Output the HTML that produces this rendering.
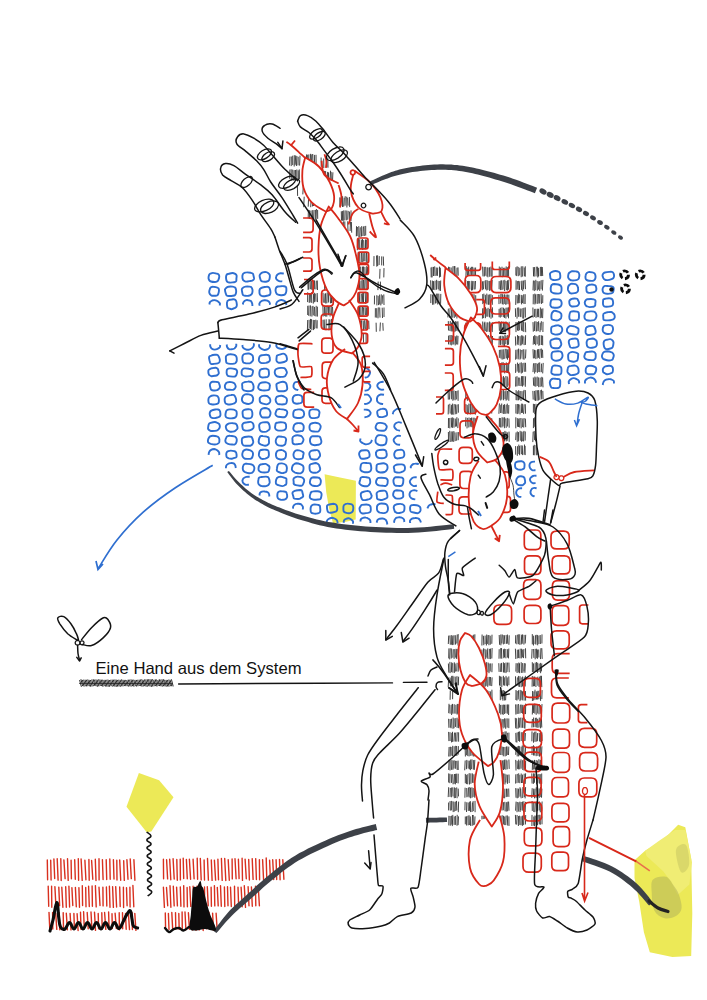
<!DOCTYPE html>
<html lang="de"><head><meta charset="utf-8"><title>Eine Hand aus dem System</title>
<style>html,body{margin:0;padding:0;background:#fff}body{width:707px;height:1000px;overflow:hidden}svg{display:block}</style>
</head><body>
<svg width="707" height="1000" viewBox="0 0 707 1000">
<rect width="707" height="1000" fill="#ffffff"/>
<g id="yellow">
<path d="M324.6 474.2L340 477.5L355.9 480.8L355.7 519.5L345 522L333 523.3L329 508L326.2 492Z" fill="#ece957" />
<path d="M138.9 773L159.1 780.2L173.5 797.3L151.3 831.6L146.7 832.2L126.5 806.7Z" fill="#ece957" />
<path d="M678.2 824.8L685.3 827.2L691.2 859L692.3 913.4L691.2 955.9L672.3 957L649.8 952.3L643.9 932.3L639.2 901.6L634.5 878L634.5 860.2L645.1 850.8L662.8 840.2Z" fill="#ece957" />
<path d="M675 830L685.5 830L692 862.5L689.4 884.5L677.7 895L671.2 882L663.4 871.6L646.5 856L645.2 850.8L659.5 840.4Z" fill="#f0ed74"/>
<path d="M653 879.4C655.4 876.8 662.5 875.7 666 876.8C669.5 877.9 671.6 882.8 673.8 885.8C676 888.8 677.7 891.3 679 895C680.3 898.7 682 904.5 681.6 908C681.2 911.5 679.2 914 676.4 915.7C673.6 917.4 668.4 919.2 664.7 918.3C661 917.4 656.5 914.8 654.3 910.5C652.1 906.2 651.9 897.5 651.7 892.3C651.5 887.1 650.6 882 653 879.4Z" fill="#b4b45a" opacity="0.55"/>
<path d="M676 850C676.8 845.5 683.8 842.5 686 845C688.2 847.5 689.8 860.5 689 865C688.2 869.5 683.2 874.5 681 872C678.8 869.5 675.2 854.5 676 850Z" fill="#b9b95c" opacity="0.4"/>
</g>
<g id="blue">
<path d="M218.3 280.1C218 280.9 217.8 281 217.2 281.3C216.6 281.6 215.9 281.9 214.8 282C213.8 282 211.8 281.8 210.9 281.5C209.9 281.2 209.6 280.7 209.2 280.2C208.8 279.6 208.6 279.1 208.5 278.2C208.5 277.3 208.8 275.6 209.1 274.8C209.4 274.1 209.7 274 210.4 273.7C211 273.4 211.9 272.9 213 272.9C214 272.9 215.7 273.4 216.7 273.6C217.6 273.9 218.3 274.1 218.7 274.6C219.1 275.1 219.3 275.8 219.3 276.7C219.2 277.6 218.7 279.3 218.3 280.1ZM236.6 275.6C236.8 276.5 236.4 277.9 236.4 278.9C236.3 279.8 236.6 280.5 236.2 281.1C235.9 281.7 235.2 282 234.2 282.2C233.2 282.5 231.4 282.6 230.4 282.6C229.3 282.6 228.6 282.4 227.9 282.1C227.3 281.8 226.8 281.4 226.5 280.6C226.2 279.8 226 278 226 277C226.1 276 226.2 275.2 226.7 274.6C227.1 274.1 227.6 274.1 228.6 273.9C229.6 273.6 231.4 273 232.5 273C233.6 273 234.5 273.5 235.2 273.9C235.8 274.3 236.4 274.8 236.6 275.6ZM254 279C253.7 279.8 252.9 280.3 252.2 280.7C251.5 281 250.8 281 249.7 281.1C248.7 281.3 246.8 281.7 245.7 281.6C244.7 281.4 243.9 280.8 243.3 280.3C242.8 279.7 242.7 279.2 242.5 278.4C242.4 277.5 242.3 276.1 242.5 275.2C242.7 274.4 243.1 273.7 243.7 273.3C244.4 272.8 245.4 272.4 246.6 272.4C247.7 272.3 249.6 272.6 250.7 272.8C251.7 273.1 252.4 273.3 252.8 273.7C253.3 274.2 253.3 274.7 253.5 275.6C253.7 276.5 254.2 278.1 254 279ZM269.7 274.8C269.9 275.7 269.8 277.5 269.6 278.4C269.5 279.3 269.4 279.9 268.9 280.4C268.5 280.9 267.9 281.3 266.9 281.5C266 281.7 264.1 281.7 263.1 281.6C262.2 281.6 261.7 281.4 261.3 280.9C260.8 280.5 260.6 279.9 260.3 278.9C260 278 259.5 276.3 259.6 275.5C259.7 274.6 260.2 274.3 260.7 273.7C261.2 273.2 261.8 272.7 262.7 272.4C263.6 272.1 265.3 272 266.2 272.1C267.2 272.3 267.9 272.8 268.4 273.2C269 273.7 269.5 274 269.7 274.8ZM282.3 281.4C281.7 281.3 280.1 281.5 279.1 281.1C278.1 280.7 276.9 279.8 276.4 279.1C275.9 278.3 275.9 277.4 276.2 276.6C276.4 275.8 276.9 274.9 277.7 274.4C278.4 273.8 279.5 273.3 280.5 273.2C281.5 273.1 283.2 273.5 283.8 273.6M211.5 295.6C210.6 295.3 210.3 294.7 209.9 294.1C209.5 293.5 209.2 293 209.2 292.1C209.2 291.3 209.6 289.7 209.9 288.9C210.2 288.1 210.5 287.6 211 287.2C211.6 286.8 212.3 286.6 213.3 286.7C214.2 286.7 215.8 287.2 216.7 287.4C217.6 287.7 218.2 287.9 218.5 288.4C218.9 288.9 219 289.8 219 290.7C218.9 291.6 218.6 293.1 218.3 293.9C218 294.7 217.6 295.2 217.1 295.5C216.5 295.8 216 295.7 215 295.7C214.1 295.7 212.3 295.9 211.5 295.6ZM235 295.1C234.4 295.5 233.8 295.6 232.8 295.8C231.8 296 229.8 296.1 228.8 296C227.7 296 227.1 295.9 226.6 295.4C226.1 295 226 294.2 225.7 293.2C225.4 292.3 224.9 290.6 225 289.7C225 288.9 225.5 288.5 226.1 288C226.6 287.5 227.3 286.9 228.4 286.7C229.5 286.5 231.5 286.5 232.6 286.6C233.7 286.8 234.5 287.1 235.1 287.5C235.6 288 235.9 288.7 236 289.6C236.2 290.5 236.2 292.1 236 293C235.8 293.9 235.5 294.6 235 295.1ZM251.2 287.1C251.7 287.6 252.2 288.5 252.4 289.5C252.6 290.4 252.5 291.9 252.3 292.7C252.1 293.5 251.9 293.9 251.3 294.4C250.7 294.9 249.7 295.5 248.7 295.7C247.7 295.9 246 295.9 245.1 295.8C244.1 295.7 243.4 295.5 243 295C242.5 294.5 242.5 293.6 242.3 292.7C242.1 291.7 241.7 290.2 241.8 289.4C241.9 288.6 242.4 288.2 243 287.8C243.6 287.3 244.5 286.8 245.6 286.6C246.7 286.4 248.4 286.5 249.4 286.6C250.3 286.7 250.7 286.7 251.2 287.1ZM260 288.9C260.5 288.4 261.3 287.9 262.4 287.5C263.5 287.2 265.5 286.8 266.5 286.8C267.6 286.7 268.3 286.8 268.8 287.2C269.4 287.6 269.6 288.3 269.9 289.2C270.2 290.1 270.5 291.5 270.5 292.5C270.5 293.4 270.2 294.3 269.8 294.8C269.3 295.3 268.9 295.2 267.9 295.5C266.9 295.7 264.7 296.3 263.6 296.3C262.5 296.4 262 296.2 261.4 295.8C260.8 295.4 260.1 295.1 259.8 294.2C259.5 293.4 259.4 291.6 259.5 290.7C259.5 289.9 259.5 289.5 260 288.9ZM285.9 292.9C285.6 293.7 285.4 294.2 284.7 294.6C284 295 282.8 295.2 281.6 295.2C280.5 295.3 278.9 295 278 294.7C277.2 294.5 276.9 294.2 276.5 293.5C276.1 292.9 275.7 291.9 275.6 291C275.5 290.1 275.6 288.7 276 288C276.3 287.2 276.9 286.8 277.7 286.5C278.5 286.2 279.5 286.2 280.6 286.2C281.6 286.1 283.2 286 284.1 286.2C285 286.4 285.7 286.6 286.1 287.2C286.4 287.9 286.4 289 286.4 289.9C286.4 290.9 286.2 292.2 285.9 292.9ZM209.4 304.4C209.5 304 209.5 302.7 209.9 302.1C210.4 301.4 211.3 300.9 212.2 300.5C213 300.2 214.3 300 215.2 300.2C216.2 300.3 217.1 300.8 217.8 301.3C218.6 301.9 219.6 302.6 219.9 303.3C220.2 304 219.7 305.1 219.6 305.5M234.4 299.4C235.1 299.7 235.7 300.1 236.1 300.9C236.5 301.7 236.7 303.1 236.8 304.1C236.9 305.1 236.8 306 236.5 306.6C236.2 307.3 235.8 307.4 235 307.9C234.2 308.3 232.6 309.1 231.6 309.2C230.7 309.3 229.9 308.8 229.2 308.5C228.5 308.2 227.9 308.2 227.5 307.5C227.1 306.7 227 305.1 226.9 304.1C226.9 303.2 226.9 302.2 227.2 301.6C227.4 300.9 227.6 300.6 228.3 300.3C229.1 299.9 230.7 299.6 231.7 299.5C232.7 299.3 233.6 299.2 234.4 299.4ZM242.7 304.5C242.9 304.1 243.1 302.7 243.6 302C244.1 301.3 244.7 300.6 245.5 300.3C246.2 300 247.4 300 248.3 300.2C249.2 300.3 250.3 300.6 251 301.1C251.6 301.7 251.9 302.7 252.2 303.6C252.4 304.4 252.4 305.7 252.4 306.1M259.4 305.7C259.5 305.3 259.2 304.1 259.5 303.3C259.8 302.6 260.4 301.7 261.2 301.2C262 300.6 263.3 300.4 264.3 300.3C265.3 300.2 266.5 300.3 267.4 300.7C268.3 301.1 269.2 301.8 269.6 302.5C270.1 303.2 269.9 304.4 270 304.8M276.3 305.5C276.3 305.1 276 303.8 276.4 303.1C276.7 302.3 277.6 301.6 278.3 301.1C279.1 300.5 280.1 300.1 281.1 300C282 299.9 283.1 300.3 283.9 300.7C284.7 301.1 285.6 301.7 286 302.4C286.4 303.1 286.2 304.5 286.3 304.9M220.2 345C220.1 345.4 220.2 346.7 219.8 347.3C219.3 348 218.3 348.5 217.5 348.9C216.6 349.3 215.6 349.6 214.7 349.6C213.8 349.6 212.6 349.3 211.9 348.8C211.1 348.3 210.7 347.5 210.4 346.7C210.1 346 210.2 344.7 210.2 344.3M236.2 343.7C236.2 344.1 236.5 345.4 236.2 346.2C235.9 347 235.1 348 234.4 348.5C233.6 349 232.7 349.2 231.8 349.3C230.9 349.4 229.8 349.5 229 349.1C228.2 348.8 227.5 347.8 227.1 347C226.7 346.2 226.8 344.8 226.7 344.4M253.9 343.2C253.8 343.7 254.1 345.1 253.7 346C253.4 346.9 252.5 347.8 251.7 348.4C250.9 349.1 249.8 349.6 248.8 349.7C247.8 349.9 246.6 349.7 245.7 349.3C244.7 349 243.4 348.3 242.9 347.5C242.3 346.8 242.5 345.3 242.4 344.9M269.9 344.5C269.9 344.9 270.1 346.3 269.7 347C269.4 347.8 268.6 348.7 267.7 349.1C266.8 349.6 265.5 350 264.5 350C263.5 349.9 262.5 349.4 261.6 348.9C260.7 348.3 259.7 347.7 259.3 346.9C258.9 346.1 259.1 344.7 259.1 344.3M286.5 344.8C286.4 345.2 286.4 346.4 285.9 347.1C285.5 347.7 284.6 348.3 283.7 348.6C282.9 349 281.9 349 281 348.9C280.1 348.8 279.1 348.6 278.3 348.2C277.5 347.7 276.7 347 276.4 346.3C276.1 345.7 276.5 344.5 276.5 344.1M213.9 363.9C212.8 364 211.8 364.2 211.2 364C210.5 363.7 210.4 363.1 210 362.3C209.7 361.4 209.3 359.9 209.2 359C209 358 209 357.2 209.3 356.6C209.7 356.1 210.2 355.9 211.2 355.6C212.1 355.2 213.9 354.9 214.9 354.8C216 354.7 216.8 354.6 217.4 354.9C218.1 355.2 218.3 355.7 218.7 356.5C219.1 357.3 219.7 358.7 219.8 359.6C219.9 360.6 219.7 361.6 219.4 362.2C219 362.8 218.6 363 217.7 363.3C216.8 363.6 214.9 363.8 213.9 363.9ZM228.4 363.6C227.4 363.4 226.8 363.1 226.4 362.6C226.1 362 226.1 361.4 226 360.4C226 359.4 225.7 357.6 225.9 356.7C226.1 355.8 226.6 355.4 227.3 355C227.9 354.6 228.7 354.3 229.8 354.3C230.8 354.2 232.6 354.4 233.6 354.6C234.7 354.9 235.4 355.3 235.9 355.8C236.4 356.4 236.6 356.9 236.7 357.8C236.8 358.7 236.8 360.5 236.6 361.4C236.3 362.3 235.8 362.9 235.2 363.3C234.5 363.7 233.7 363.8 232.5 363.9C231.4 363.9 229.4 363.8 228.4 363.6ZM251.4 354.6C252 355 252.5 355.2 252.8 356.1C253 357 253.2 358.8 253.1 359.8C253 360.7 252.6 361.1 252 361.7C251.5 362.3 251 362.9 250 363.2C248.9 363.4 246.8 363.3 245.7 363.2C244.6 363 243.9 362.9 243.4 362.5C242.9 362 242.8 361.4 242.6 360.5C242.4 359.6 242.3 358 242.4 357.1C242.4 356.2 242.7 355.6 243.1 355C243.5 354.5 243.9 354.1 244.9 353.9C245.9 353.6 247.9 353.4 249 353.5C250.1 353.6 250.8 354.1 251.4 354.6ZM268.9 355.5C269.4 356 269.5 356.6 269.6 357.5C269.8 358.3 270.1 359.7 269.8 360.5C269.6 361.3 268.9 361.7 268.2 362.1C267.6 362.5 267 362.7 265.9 362.9C264.9 363 262.8 363.2 261.9 363.1C260.9 363 260.5 362.7 260 362.3C259.6 361.8 259.1 361.2 258.9 360.4C258.8 359.6 259 358.2 259.2 357.4C259.4 356.6 259.7 356.1 260.3 355.7C260.9 355.3 261.7 355.3 262.8 355.1C263.9 354.9 265.7 354.6 266.7 354.7C267.7 354.7 268.4 355.1 268.9 355.5ZM286.4 356.2C286.6 357 287 358.4 287 359.3C287 360.1 286.7 360.6 286.2 361.1C285.7 361.5 285 361.7 284 362C283 362.3 281.1 362.7 280.1 362.7C279.1 362.8 278.5 362.6 277.9 362.3C277.3 361.9 276.8 361.4 276.5 360.6C276.3 359.8 276.5 358.3 276.6 357.4C276.7 356.6 276.6 356 277.1 355.6C277.5 355.1 278.3 355 279.4 354.7C280.4 354.4 282.2 353.6 283.2 353.6C284.2 353.6 284.9 354.3 285.4 354.7C286 355.1 286.1 355.5 286.4 356.2ZM209.6 369.3C210.2 368.9 211.1 368.5 212.1 368.2C213.1 368 214.8 367.6 215.8 367.7C216.7 367.8 217.3 368.4 217.8 368.9C218.2 369.3 218.1 369.9 218.3 370.6C218.4 371.4 218.9 372.5 218.8 373.3C218.6 374 218 374.7 217.3 375.1C216.7 375.5 215.9 375.6 214.9 375.8C213.9 376 212.4 376.3 211.5 376.2C210.6 376.1 209.9 375.7 209.4 375.2C208.9 374.8 208.7 374.2 208.5 373.5C208.4 372.7 208.2 371.3 208.4 370.6C208.6 369.9 208.9 369.7 209.6 369.3ZM226.6 372.8C226.6 371.9 226.6 370.5 226.9 369.8C227.2 369.1 227.7 368.8 228.3 368.6C229 368.3 229.9 368.3 231 368.4C232.1 368.5 233.9 368.8 234.8 369C235.8 369.3 236.1 369.4 236.5 369.9C236.9 370.4 237.2 371.2 237.2 372.1C237.1 372.9 236.6 374.3 236.3 375.1C235.9 375.8 235.7 376.2 235.1 376.5C234.5 376.7 233.6 376.7 232.6 376.6C231.5 376.6 229.4 376.5 228.5 376.2C227.6 375.9 227.4 375.4 227.1 374.8C226.8 374.2 226.7 373.6 226.6 372.8ZM251.6 375.6C251.1 376 250.7 376 249.7 376.1C248.7 376.3 246.7 376.6 245.5 376.5C244.4 376.4 243.5 375.8 242.8 375.5C242.2 375.1 242 375.1 241.8 374.3C241.6 373.6 241.6 372 241.7 371.2C241.8 370.4 242 369.8 242.5 369.3C243 368.8 243.4 368.5 244.5 368.4C245.6 368.3 247.7 368.5 248.9 368.7C250 368.8 250.5 369 251.2 369.4C251.9 369.8 252.8 370.1 253 370.8C253.2 371.5 252.7 373 252.5 373.8C252.2 374.6 252.1 375.2 251.6 375.6ZM266.7 368.8C267.5 369 268 369.3 268.4 369.8C268.8 370.4 268.8 371.5 268.9 372.4C269 373.3 269 374.4 268.8 375.1C268.6 375.9 268.4 376.4 267.7 376.8C267.1 377.1 265.9 377.2 264.9 377.3C263.9 377.4 262.4 377.6 261.6 377.4C260.8 377.2 260.2 376.7 259.8 376.1C259.5 375.6 259.4 374.8 259.3 373.9C259.3 373.1 259.5 371.7 259.7 371C259.9 370.3 260 370 260.6 369.6C261.2 369.3 262.3 368.9 263.4 368.8C264.4 368.6 265.8 368.6 266.7 368.8ZM286 374.7C285.7 375.4 285.6 375.9 284.7 376.3C283.9 376.6 282.1 376.9 280.9 376.9C279.7 377 278.3 376.8 277.4 376.5C276.5 376.2 276.1 375.7 275.7 375.1C275.2 374.4 274.8 373.3 274.7 372.4C274.7 371.6 274.9 370.6 275.3 369.9C275.7 369.3 276.2 369 277.2 368.7C278.1 368.3 279.8 368 281 367.9C282.1 367.8 283.5 367.9 284.3 368.2C285.1 368.6 285.5 369.2 285.9 369.8C286.3 370.5 286.9 371.5 286.9 372.3C287 373.2 286.4 374.1 286 374.7ZM364.1 368.4C364.5 368.4 366.1 368 366.9 368.3C367.7 368.6 368.5 369.4 369 370.1C369.6 370.8 370 371.6 370 372.4C370.1 373.2 369.7 374.2 369.3 374.9C368.9 375.7 368.4 376.5 367.6 377C366.8 377.4 365.2 377.5 364.7 377.7M209.9 385C209.9 384.2 210.1 383.6 210.5 383.1C210.9 382.6 211.5 382 212.5 381.8C213.5 381.6 215.3 381.8 216.3 381.9C217.2 382 217.8 382 218.3 382.3C218.8 382.7 219.1 383.3 219.3 384.1C219.6 384.9 220 386.3 219.9 387.1C219.8 387.9 219.4 388.3 218.9 388.8C218.5 389.3 218.1 389.9 217.2 390.2C216.3 390.5 214.6 390.6 213.6 390.5C212.6 390.5 211.7 390.2 211.2 389.8C210.7 389.4 210.7 388.8 210.5 388C210.2 387.2 209.9 385.8 209.9 385ZM234.7 388.7C234.3 389.2 234.1 389.6 233.2 389.8C232.4 390 230.6 389.9 229.5 389.8C228.5 389.8 227.6 389.9 226.9 389.6C226.2 389.4 225.7 389.1 225.3 388.4C225 387.7 224.8 386.3 224.9 385.5C225 384.6 225.6 383.8 226 383.3C226.4 382.8 226.5 382.6 227.4 382.3C228.2 382.1 230.1 382 231.1 382.1C232.2 382.2 233 382.5 233.6 382.8C234.3 383.1 234.4 383.2 234.8 383.9C235.2 384.6 235.8 386 235.7 386.8C235.7 387.6 235.1 388.2 234.7 388.7ZM242.5 389C242.2 388.3 242.3 387.4 242.3 386.5C242.2 385.5 241.9 384.1 242.3 383.4C242.7 382.7 243.5 382.5 244.4 382.2C245.3 381.9 246.5 381.6 247.7 381.6C248.9 381.5 250.5 381.7 251.4 382C252.2 382.4 252.4 383.1 252.8 383.8C253.2 384.5 253.5 385.5 253.6 386.4C253.6 387.4 253.5 388.8 253.2 389.5C252.8 390.3 252.3 390.6 251.4 390.8C250.5 391.1 249.1 391.2 247.9 391.2C246.7 391.1 245.1 390.9 244.2 390.5C243.3 390.2 242.8 389.7 242.5 389ZM259.7 389.6C259 389.2 258.3 388.6 258.2 387.8C258.1 387 258.7 385.4 259 384.7C259.3 383.9 259.6 383.5 260.1 383.2C260.6 382.8 261 382.7 262.1 382.5C263.1 382.4 265.3 382.2 266.5 382.4C267.6 382.6 268.5 383.2 269.1 383.6C269.7 384.1 269.8 384.5 269.8 385.2C269.9 386 269.7 387.4 269.5 388.2C269.4 388.9 269.5 389.3 268.9 389.7C268.4 390.1 267.4 390.3 266.2 390.4C265.1 390.5 263.2 390.5 262.1 390.4C261 390.2 260.3 390 259.7 389.6ZM280.7 391.3C279.7 391.3 279.1 391.4 278.5 391.1C277.9 390.8 277.4 390.4 277.1 389.6C276.8 388.7 276.6 387 276.5 386.1C276.5 385.3 276.2 384.8 276.5 384.2C276.9 383.7 277.5 383.3 278.5 382.9C279.6 382.4 281.7 381.8 282.8 381.7C283.9 381.6 284.7 382.1 285.2 382.4C285.8 382.7 286 382.9 286.3 383.7C286.6 384.5 287 386.2 287.1 387.2C287.2 388.1 287.4 388.8 287 389.5C286.6 390.1 285.8 390.7 284.8 391C283.8 391.3 281.7 391.2 280.7 391.3ZM298.3 390.2C297.9 390 296.4 389.8 295.6 389.4C294.8 388.9 294 388.3 293.7 387.5C293.3 386.8 293.5 385.7 293.6 384.9C293.8 384 294.1 383 294.8 382.5C295.4 382 296.6 381.9 297.5 381.8C298.5 381.8 300.1 382.1 300.6 382.1M364.1 382.5C364.6 382.5 366.2 382.5 367.1 382.7C368 383 368.9 383.5 369.4 384.1C370 384.7 370.4 385.5 370.4 386.2C370.4 386.9 369.9 387.8 369.5 388.5C369 389.1 368.4 389.8 367.6 390.2C366.7 390.5 365.1 390.6 364.6 390.7M384.1 389.6C383.6 389.6 381.8 389.8 380.9 389.6C380 389.4 379.4 389.1 378.8 388.5C378.2 387.9 377.4 387 377.3 386.2C377.2 385.4 377.6 384.4 378.2 383.7C378.7 383.1 379.7 382.5 380.6 382.2C381.5 381.8 383.2 381.7 383.7 381.6M211.2 404.2C210.3 404.1 209.6 403.8 209.1 403.3C208.6 402.8 208.4 402 208.4 401C208.3 400.1 208.6 398.4 208.9 397.7C209.2 396.9 209.6 396.9 210.2 396.5C210.8 396.1 211.6 395.6 212.6 395.5C213.6 395.3 215.3 395.4 216.2 395.6C217.1 395.8 217.5 396 217.9 396.6C218.3 397.1 218.7 398 218.8 398.9C218.9 399.8 218.9 401.4 218.7 402.2C218.5 403 218.3 403.2 217.6 403.6C217 403.9 215.9 404.3 214.9 404.4C213.8 404.5 212.2 404.4 211.2 404.2ZM233.6 395C234.3 395.2 234.8 395.9 235.2 396.7C235.7 397.5 236.1 399 236.2 400C236.2 400.9 236 401.8 235.6 402.3C235.2 402.9 234.9 403.2 233.9 403.5C233 403.9 231 404.4 229.8 404.5C228.7 404.6 227.8 404.4 227.1 404.1C226.3 403.9 225.8 403.7 225.3 402.9C224.9 402.2 224.6 400.5 224.6 399.6C224.6 398.6 224.9 397.8 225.3 397.2C225.7 396.7 226 396.4 226.9 396C227.8 395.7 229.8 395.2 230.9 395.1C232 394.9 232.9 394.7 233.6 395ZM246.6 394.1C247.8 394.1 249.7 394.4 250.6 394.8C251.6 395.1 251.9 395.6 252.3 396.2C252.7 396.8 253.1 397.5 253.2 398.5C253.2 399.4 252.8 401.2 252.4 401.9C252.1 402.7 251.6 402.8 250.9 403.2C250.2 403.5 249.4 404 248.3 404C247.3 404 245.6 403.6 244.7 403.2C243.8 402.9 243.3 402.6 242.9 402C242.4 401.5 241.9 400.7 241.9 399.8C241.8 398.9 242.3 397.3 242.7 396.5C243 395.7 243.3 395.4 244 395C244.6 394.6 245.5 394.2 246.6 394.1ZM263.1 395.9C264.1 395.8 266 395.8 266.9 396C267.9 396.3 268.3 397 268.8 397.5C269.4 398 269.9 398.2 270.1 399C270.3 399.7 270.3 401.3 270.1 402C269.8 402.8 269.2 403.2 268.6 403.6C268 404 267.6 404.4 266.7 404.4C265.7 404.5 263.9 404 262.9 403.7C261.9 403.4 261.2 403.2 260.7 402.8C260.2 402.4 260 402.1 259.8 401.3C259.7 400.5 259.6 398.9 259.8 398.1C260 397.3 260.6 397 261.2 396.6C261.7 396.2 262.1 396 263.1 395.9ZM278.6 396.2C279.4 396 280.6 395.7 281.6 395.8C282.7 396 284.1 396.5 284.9 397C285.7 397.4 286.2 397.9 286.6 398.5C286.9 399.2 287 400 286.9 400.9C286.8 401.7 286.5 403.1 286 403.7C285.5 404.2 284.8 404.2 284 404.3C283.1 404.4 282.1 404.5 281.1 404.4C280 404.3 278.5 404.1 277.7 403.8C276.9 403.4 276.7 403 276.3 402.3C276 401.6 275.6 400.5 275.6 399.7C275.7 398.8 276.1 397.6 276.6 397C277.1 396.5 277.7 396.4 278.6 396.2ZM301.1 395.7C301.7 396 301.9 396.2 302.1 396.9C302.4 397.7 302.4 399.2 302.4 400.1C302.3 401 302.2 401.8 301.9 402.3C301.5 402.8 301.1 402.9 300.3 403.2C299.5 403.4 297.9 403.7 296.9 403.7C295.9 403.7 295.1 403.5 294.4 403.1C293.8 402.8 293.3 402.5 293.1 401.7C292.8 401 292.6 399.5 292.7 398.6C292.8 397.7 293.2 396.9 293.6 396.4C294 395.8 294.2 395.6 295 395.3C295.9 395.1 297.5 394.8 298.5 394.9C299.6 394.9 300.5 395.3 301.1 395.7ZM364.1 394.7C364.7 394.7 366.5 394.4 367.5 394.7C368.4 395 369.1 395.7 369.7 396.5C370.3 397.2 371 398.3 371.1 399.2C371.2 400 370.8 401 370.1 401.7C369.5 402.5 368.3 403.2 367.3 403.6C366.3 404 364.7 403.9 364.2 404M383.1 404.1C382.6 404 380.9 403.9 379.9 403.5C379 403.1 377.9 402.5 377.5 401.7C377 401 376.9 399.8 377 398.9C377 398 377.2 397 377.9 396.2C378.5 395.5 379.7 394.7 380.7 394.5C381.8 394.3 383.5 394.7 384 394.8M211.3 410.6C212.2 410.2 214.1 409.7 215.2 409.5C216.3 409.4 217.2 409.3 218 409.5C218.7 409.7 219.4 410.1 219.8 410.7C220.3 411.4 220.3 412.8 220.4 413.6C220.5 414.5 220.5 415.3 220.2 415.9C220 416.5 219.5 416.8 218.6 417.2C217.7 417.5 216.1 418 215 418.1C213.9 418.2 212.7 418.1 212 417.9C211.3 417.7 211.1 417.6 210.7 417C210.3 416.3 209.8 415 209.7 414.1C209.6 413.3 209.8 412.6 210.1 412.1C210.3 411.5 210.5 411.1 211.3 410.6ZM236.4 416C236.2 416.8 236 417 235.4 417.4C234.8 417.8 233.7 418.2 232.5 418.3C231.3 418.4 229.4 418.3 228.3 418.1C227.3 417.9 226.5 417.6 226 417.1C225.5 416.6 225.4 415.9 225.4 415.1C225.4 414.2 225.7 412.8 225.9 412C226.2 411.2 226.2 410.6 226.8 410.2C227.5 409.8 228.6 409.5 229.8 409.4C230.9 409.3 232.7 409.4 233.8 409.6C234.8 409.9 235.6 410.4 236.1 410.9C236.6 411.4 236.7 412 236.7 412.8C236.8 413.7 236.6 415.3 236.4 416ZM242.6 413.6C242.5 412.6 242.5 411.8 242.8 411.2C243.1 410.6 243.5 410.2 244.3 409.9C245.2 409.6 246.8 409.4 247.9 409.3C248.9 409.3 249.8 409.2 250.5 409.5C251.2 409.7 251.6 410.3 251.9 411C252.2 411.8 252.4 413 252.4 414C252.4 414.9 252.3 415.8 252 416.5C251.8 417.1 251.5 417.6 250.7 418C250 418.3 248.3 418.5 247.3 418.5C246.3 418.5 245.4 418 244.7 417.8C244 417.5 243.5 417.5 243.1 416.8C242.8 416.1 242.7 414.5 242.6 413.6ZM260.1 413.4C260 412.5 260.5 410.8 260.8 410C261.2 409.2 261.5 409.1 262.2 408.7C262.9 408.4 263.8 408 264.8 408C265.9 408.1 267.6 408.6 268.4 409C269.2 409.3 269.2 409.7 269.6 410.3C269.9 410.9 270.5 411.6 270.5 412.5C270.6 413.5 270.1 415.3 269.7 416.1C269.3 416.9 269 417 268.4 417.3C267.7 417.5 266.9 417.5 265.9 417.5C264.9 417.5 263.2 417.7 262.3 417.4C261.5 417.1 261.3 416.3 260.9 415.7C260.5 415 260.1 414.4 260.1 413.4ZM276.1 415.5C275.7 415 275.4 414.5 275.4 413.7C275.5 412.9 276 411.5 276.3 410.8C276.6 410.1 276.7 409.7 277.4 409.4C278 409.2 279.1 409 280.2 409.1C281.4 409.1 283.3 409.4 284.3 409.7C285.4 409.9 286 410.2 286.5 410.7C287 411.2 287.3 411.9 287.3 412.7C287.3 413.4 286.7 414.7 286.4 415.4C286 416.1 285.8 416.5 285.2 416.8C284.6 417.1 283.8 417.2 282.7 417.2C281.5 417.2 279.3 417 278.2 416.8C277.2 416.5 276.6 416.1 276.1 415.5ZM303.8 415.6C303.5 416.4 302.8 417 302.2 417.4C301.5 417.8 301 418 299.9 418C298.9 418.1 297 418 296 417.8C295 417.6 294.2 417.4 293.7 416.9C293.3 416.5 293.3 416 293.3 415.1C293.2 414.3 293.3 412.7 293.5 411.9C293.7 411.1 293.9 410.8 294.4 410.4C295 410.1 295.8 409.7 296.8 409.6C297.9 409.4 299.7 409.4 300.6 409.5C301.6 409.6 301.9 409.9 302.4 410.3C303 410.8 303.7 411.4 303.9 412.3C304.2 413.2 304.1 414.7 303.8 415.6ZM312.3 418.1C311.3 418 310.9 417.8 310.4 417.3C310 416.9 309.7 416.2 309.5 415.3C309.3 414.4 309.3 412.9 309.4 412.1C309.4 411.3 309.6 410.7 310.1 410.3C310.6 409.9 311.3 409.6 312.4 409.4C313.4 409.3 315.3 409.4 316.3 409.5C317.3 409.7 317.8 409.7 318.3 410.2C318.8 410.6 319.4 411.2 319.5 412.1C319.6 413 319.1 414.6 319 415.4C318.8 416.2 318.9 416.5 318.4 416.9C317.9 417.3 317.1 417.7 316 417.9C315 418.1 313.2 418.1 312.3 418.1ZM363.8 409.6C364.3 409.6 366 409.5 367 409.7C367.9 409.9 368.8 410.3 369.4 410.8C370 411.4 370.6 412.3 370.6 413C370.7 413.7 370.3 414.5 369.7 415.2C369.2 415.8 368.3 416.3 367.4 416.7C366.5 417 364.9 417.3 364.4 417.4M377.3 413.4C377.2 412.7 377.1 411.7 377.4 411.1C377.6 410.6 378.1 410.3 378.8 410C379.6 409.6 380.9 409 381.9 408.9C382.9 408.7 384 408.7 384.8 409C385.5 409.2 385.9 409.6 386.3 410.2C386.7 410.8 386.9 411.8 387 412.6C387.1 413.4 387.2 414.5 387 415C386.8 415.6 386.4 415.8 385.7 416.1C384.9 416.5 383.5 416.9 382.5 417.1C381.4 417.2 380.3 417.2 379.6 417C378.8 416.8 378.3 416.4 378 415.9C377.6 415.3 377.4 414.2 377.3 413.4ZM392.8 414.2C392.9 413.9 392.9 413 393.1 412.5C393.3 411.9 393.9 411.3 394.2 410.9C394.6 410.5 394.8 410.3 395.3 410C395.8 409.6 396.5 409 397.1 408.8C397.7 408.6 398.4 408.6 399 408.6C399.7 408.7 400.7 409.1 401.1 409.2M208.1 428.9C207.9 428.1 208.3 426.5 208.4 425.7C208.6 424.8 208.6 424.3 209 423.8C209.3 423.3 209.6 423.1 210.6 422.8C211.6 422.5 213.8 422 214.9 422C216 422 216.7 422.5 217.4 422.9C218.2 423.3 219 423.5 219.3 424.3C219.7 425 219.9 426.5 219.7 427.4C219.6 428.2 219 428.8 218.5 429.3C218 429.8 217.7 430.3 216.7 430.6C215.7 430.9 213.6 431 212.5 431C211.4 431 210.7 431 210 430.6C209.3 430.3 208.4 429.8 208.1 428.9ZM234.3 431.3C233.3 431.6 231.2 431.8 230.1 431.7C229 431.6 228.3 431.1 227.7 430.7C227.1 430.4 226.8 430.1 226.5 429.4C226.2 428.7 225.7 427.3 225.8 426.5C225.9 425.7 226.6 425 227.1 424.5C227.7 424 228.2 423.7 229.2 423.4C230.2 423.2 232.3 423.1 233.3 423.2C234.4 423.2 234.9 423.3 235.5 423.6C236.1 424 236.7 424.5 237 425.3C237.3 426.1 237.6 427.5 237.5 428.3C237.4 429 236.9 429.4 236.3 429.9C235.8 430.4 235.4 431 234.3 431.3ZM245.3 430.5C244.3 430.3 243.7 430.1 243.2 429.6C242.7 429 242.6 428.2 242.5 427.3C242.3 426.5 242.2 425.1 242.5 424.4C242.7 423.6 243.2 423.2 244 422.8C244.7 422.5 245.9 422.5 247 422.4C248.1 422.2 249.7 421.8 250.6 421.9C251.6 422 252.2 422.6 252.7 423.1C253.2 423.7 253.5 424.4 253.6 425.3C253.7 426.1 253.6 427.5 253.3 428.2C253 428.8 252.6 429 251.9 429.4C251.2 429.8 250.1 430.3 249 430.5C247.9 430.7 246.2 430.6 245.3 430.5ZM269.5 425.4C269.7 426.3 269.8 428 269.6 428.8C269.5 429.7 269.1 429.8 268.5 430.2C268 430.7 267.3 431.3 266.3 431.6C265.2 431.8 263.3 432 262.3 431.8C261.2 431.6 260.6 431 260.1 430.4C259.7 429.9 259.7 429.3 259.5 428.4C259.4 427.5 259.1 426 259.2 425.2C259.3 424.3 259.8 423.8 260.4 423.3C261 422.8 261.8 422.6 262.9 422.4C264 422.2 266 422.2 267 422.3C267.9 422.4 268.1 422.6 268.5 423.1C268.9 423.7 269.3 424.4 269.5 425.4ZM286 428C285.8 428.8 285.4 429.3 284.9 429.7C284.4 430.2 284.3 430.3 283.3 430.4C282.2 430.6 280 430.7 278.8 430.6C277.6 430.5 276.9 430.2 276.3 429.8C275.7 429.3 275.2 428.7 275.1 427.9C274.9 427.1 275.3 425.7 275.4 424.9C275.6 424.1 275.5 423.6 275.9 423.2C276.4 422.8 277.2 422.6 278.3 422.5C279.4 422.3 281.6 422.3 282.7 422.4C283.8 422.5 284.5 422.7 285.1 423.1C285.6 423.5 285.8 423.9 286 424.7C286.1 425.5 286.2 427.1 286 428ZM302.6 424.2C303.1 424.7 303.5 425.2 303.6 426C303.8 426.9 303.7 428.3 303.5 429.1C303.4 429.8 303.3 430.4 302.7 430.8C302.1 431.1 301.2 431.1 300.1 431.3C299 431.4 297.2 431.9 296.3 431.8C295.4 431.8 295 431.3 294.5 430.8C294 430.3 293.4 429.8 293.3 429C293.2 428.2 293.6 426.8 293.8 426C294 425.2 294.2 424.8 294.8 424.3C295.3 423.8 296.1 423.4 297.1 423.2C298.1 423.1 300 423.2 300.9 423.3C301.8 423.5 302.2 423.8 302.6 424.2ZM309.5 427.6C309.4 426.7 309.6 425.4 310 424.7C310.3 424 310.7 423.8 311.5 423.5C312.3 423.2 313.4 422.8 314.5 422.8C315.7 422.7 317.5 423 318.4 423.3C319.3 423.6 319.5 423.9 319.8 424.5C320.2 425 320.7 425.8 320.7 426.6C320.7 427.5 320.2 428.8 319.8 429.5C319.5 430.3 319.2 430.9 318.5 431.3C317.9 431.6 316.9 431.6 315.8 431.6C314.8 431.6 313.1 431.5 312.2 431.3C311.2 431 310.6 430.6 310.1 430C309.7 429.4 309.5 428.5 309.5 427.6ZM378.1 430.4C377.1 430.1 376.7 429.7 376.3 429.1C375.9 428.6 375.5 427.8 375.6 427.1C375.6 426.3 376.2 425.1 376.6 424.4C377 423.8 377.3 423.4 377.9 423.2C378.6 422.9 379.6 422.8 380.6 422.9C381.7 423 383.3 423.4 384.2 423.7C385.1 424 385.4 424.3 385.8 424.8C386.3 425.3 386.8 426 386.8 426.8C386.8 427.6 386.1 429 385.7 429.6C385.4 430.2 385.2 430.3 384.5 430.5C383.9 430.7 382.9 430.8 381.8 430.8C380.7 430.8 379 430.7 378.1 430.4ZM400 430.7C399.5 430.6 397.9 430.4 397 430C396.2 429.5 395.3 428.6 394.8 427.9C394.3 427.1 394.1 426.2 394.3 425.4C394.4 424.7 395.1 423.8 395.8 423.2C396.6 422.7 397.8 422.2 398.8 422.1C399.8 422 401.2 422.8 401.7 422.9M208.4 442.6C208 442.1 207.8 441.4 207.9 440.6C208 439.8 208.5 438.5 208.9 437.8C209.3 437.1 209.5 436.8 210.1 436.4C210.8 436.1 211.6 435.8 212.8 435.8C213.9 435.8 215.9 436 217 436.4C218 436.7 218.4 437.3 218.8 437.8C219.2 438.4 219.3 438.9 219.4 439.7C219.4 440.5 219.4 441.9 219.1 442.6C218.7 443.3 218 443.6 217.2 444C216.5 444.3 215.6 444.5 214.6 444.5C213.5 444.5 211.8 444.1 210.7 443.8C209.7 443.5 208.9 443.2 208.4 442.6ZM236 437.5C236.4 438.1 236.8 438.9 236.8 439.8C236.8 440.7 236.5 442.2 236.1 443C235.8 443.8 235.4 444.2 234.7 444.5C234 444.7 233.1 444.6 232 444.5C230.9 444.4 229 444.1 228 443.8C227 443.5 226.5 443.2 226 442.7C225.6 442.2 225.3 441.5 225.3 440.6C225.4 439.7 226 438.1 226.4 437.4C226.7 436.6 226.9 436.3 227.5 436.1C228.2 435.8 228.9 435.6 230 435.7C231.1 435.7 233.1 436.1 234.1 436.4C235.1 436.7 235.5 436.9 236 437.5ZM250.6 445.7C249.6 445.9 247.4 445.8 246.2 445.8C245 445.7 244.2 445.7 243.5 445.4C242.9 445.1 242.6 444.7 242.3 443.8C242 443 241.8 441.3 241.8 440.4C241.8 439.4 241.9 438.6 242.3 438.1C242.8 437.5 243.6 437.3 244.7 437C245.7 436.7 247.7 436.5 248.8 436.5C250 436.5 250.8 436.6 251.4 436.9C252 437.3 252.1 437.8 252.4 438.7C252.7 439.5 253.3 441.2 253.3 442.1C253.3 443.1 252.8 443.7 252.3 444.3C251.9 444.9 251.6 445.4 250.6 445.7ZM258.7 441.4C258.7 440.5 259 438.9 259.4 438C259.7 437.1 260 436.5 260.6 436.1C261.2 435.8 262 436 263 436.1C264.1 436.1 266 436.4 266.9 436.7C267.9 436.9 268.3 437.1 268.6 437.6C268.9 438.2 268.8 438.9 268.9 439.8C268.9 440.8 269.2 442.5 268.9 443.4C268.6 444.3 267.8 444.7 267.2 445.1C266.5 445.5 265.9 445.8 264.9 445.7C263.9 445.7 262.2 445.1 261.2 444.7C260.3 444.3 259.6 443.9 259.2 443.4C258.8 442.9 258.6 442.3 258.7 441.4ZM277.1 437.5C277.5 437 277.7 436.7 278.5 436.5C279.4 436.4 281 436.6 282 436.8C283 436.9 283.9 436.8 284.6 437.2C285.3 437.6 285.9 438.4 286.1 439.2C286.3 440 285.8 441.2 285.7 442C285.5 442.8 285.6 443.7 285.2 444.2C284.8 444.8 284 445.3 283.2 445.5C282.3 445.7 280.9 445.7 279.9 445.6C278.9 445.5 278 445.2 277.3 444.7C276.7 444.2 276.2 443.6 276 442.8C275.7 442 275.7 440.8 275.9 439.9C276.1 439 276.6 438.1 277.1 437.5ZM300.6 435.8C301.5 436 301.7 436.4 302.2 437C302.7 437.6 303.5 438.6 303.5 439.5C303.6 440.4 303 441.5 302.6 442.2C302.3 442.9 302.2 443.3 301.4 443.6C300.7 443.9 299.2 444 298.1 444.1C296.9 444.2 295.4 444.5 294.5 444.3C293.6 444.1 293 443.6 292.7 443C292.4 442.3 292.6 441.3 292.5 440.4C292.5 439.5 292.2 438.5 292.5 437.8C292.7 437.1 293.4 436.4 294.2 436C295 435.6 296.2 435.3 297.3 435.3C298.4 435.3 299.8 435.5 300.6 435.8ZM310.5 443C310.2 442.3 309.9 440.9 310 440C310 439.1 310.4 438 310.8 437.4C311.2 436.8 311.4 436.4 312.3 436.3C313.2 436.1 315.1 436.3 316.3 436.3C317.5 436.3 318.7 436.1 319.4 436.5C320.2 436.8 320.3 437.5 320.6 438.3C320.9 439.2 321.4 440.5 321.4 441.4C321.4 442.3 321.1 443.2 320.6 443.7C320.2 444.3 319.6 444.5 318.6 444.7C317.6 445 315.9 445.2 314.7 445.2C313.5 445.1 312.2 444.8 311.6 444.4C310.9 444 310.8 443.7 310.5 443ZM371.9 439.8C371.7 440.2 371.6 441.5 371 442.2C370.5 442.9 369.5 443.5 368.6 443.9C367.7 444.2 366.5 444.4 365.4 444.3C364.4 444.1 363.2 443.4 362.3 442.9C361.5 442.3 360.4 441.6 360.2 440.9C359.9 440.2 360.5 439 360.6 438.6M385.5 436.3C386.1 436.7 386.3 437.3 386.5 438.2C386.7 439.1 386.6 440.7 386.4 441.6C386.3 442.6 386 443.4 385.6 444C385.1 444.5 384.7 444.8 383.7 445C382.8 445.2 380.8 445.3 379.7 445.1C378.7 445 378 444.5 377.4 444.1C376.7 443.6 376.1 443.2 375.8 442.4C375.5 441.5 375.5 439.8 375.7 438.9C375.8 437.9 376.3 437.1 376.8 436.5C377.3 435.9 377.6 435.5 378.6 435.3C379.6 435.1 381.6 435.2 382.7 435.4C383.9 435.5 384.9 435.8 385.5 436.3ZM400.1 444.8C399.5 444.7 397.7 444.8 396.8 444.4C395.9 444 395.2 443.3 394.6 442.5C394.1 441.8 393.5 440.7 393.6 439.8C393.7 439 394.5 438.1 395.2 437.5C395.8 436.8 396.6 436.2 397.5 435.9C398.5 435.7 400.3 435.9 400.9 435.9M208.6 454.9C208.7 454.4 208.7 453 209.1 452.1C209.5 451.3 210.3 450.4 211.1 449.9C212 449.3 213.2 449 214.2 449C215.2 449.1 216.4 449.7 217.2 450.2C218 450.8 218.8 451.6 219.1 452.4C219.4 453.2 219.2 454.6 219.3 455M226.3 455.2C226.2 454.4 226.3 453.2 226.6 452.5C226.9 451.8 227.5 451.4 228.2 451.1C228.9 450.8 229.9 450.6 230.9 450.6C231.9 450.6 233.3 450.9 234.1 451.1C234.9 451.4 235.4 451.5 235.8 452C236.2 452.5 236.4 453.4 236.5 454.2C236.6 455 236.7 456.4 236.4 457C236 457.6 235.3 457.7 234.5 457.9C233.8 458.2 232.9 458.6 232 458.7C231 458.8 229.6 458.6 228.8 458.4C227.9 458.1 227.3 457.9 226.9 457.3C226.5 456.8 226.3 456 226.3 455.2ZM250.4 450.3C251.3 450.7 251.7 451 252.1 451.5C252.6 452.1 253 452.7 253 453.6C253.1 454.5 252.7 456.2 252.4 457C252 457.9 251.4 458.4 250.9 458.7C250.3 459 250 458.8 249 458.9C248 458.9 245.9 459 245 458.8C244 458.6 243.7 458.1 243.3 457.5C242.8 456.9 242.4 456.1 242.3 455.2C242.2 454.3 242.5 452.8 242.8 452C243.1 451.2 243.4 450.8 244 450.4C244.6 450 245.3 449.5 246.4 449.5C247.4 449.5 249.4 450 250.4 450.3ZM268.7 456.1C268.6 456.9 268.3 457.1 267.7 457.5C267.1 457.9 266.3 458.3 265.3 458.6C264.4 458.8 262.8 459.1 261.9 458.9C261.1 458.8 260.7 458.2 260.2 457.6C259.7 457 259.1 456.3 258.9 455.4C258.8 454.4 259.1 452.9 259.3 452C259.5 451.1 259.7 450.7 260.3 450.3C260.8 449.9 261.7 449.8 262.7 449.7C263.7 449.6 265.3 449.6 266.2 449.7C267.1 449.8 267.8 449.9 268.2 450.5C268.6 451 268.7 451.8 268.8 452.8C268.9 453.7 268.9 455.4 268.7 456.1ZM276 453.5C276.2 452.6 276.6 451.8 277 451.3C277.4 450.8 277.6 450.6 278.5 450.4C279.3 450.2 281.2 449.9 282.2 450.1C283.2 450.2 283.8 450.9 284.4 451.3C285 451.7 285.6 451.8 285.8 452.6C286.1 453.4 286 455 285.9 455.9C285.8 456.8 285.8 457.3 285.3 457.9C284.9 458.4 284.2 459.1 283.2 459.3C282.2 459.5 280.5 459.4 279.6 459.2C278.6 459.1 278.1 459 277.5 458.5C276.9 458.1 276.5 457.4 276.2 456.6C276 455.8 275.9 454.4 276 453.5ZM295.2 458.5C294.5 458.1 294.2 457.7 293.9 457C293.6 456.3 293.4 455.1 293.5 454.2C293.6 453.3 294 452.3 294.4 451.7C294.9 451 295.3 450.7 296.1 450.4C296.9 450.2 298.1 450.3 299.1 450.4C300.1 450.6 301.2 451.1 302 451.5C302.7 451.9 303.4 452.2 303.6 452.9C303.8 453.5 303.4 454.5 303.2 455.3C303.1 456.2 303 457.5 302.6 458.1C302.3 458.7 301.8 458.7 301 458.9C300.2 459.1 299.1 459.4 298.1 459.3C297.1 459.3 295.9 458.8 295.2 458.5ZM310.2 457.4C309.9 456.6 309.4 455 309.3 454.1C309.3 453.2 309.5 452.5 309.9 452C310.3 451.4 310.8 450.9 311.7 450.6C312.7 450.4 314.6 450.3 315.6 450.2C316.6 450.1 317.1 449.9 317.8 450.3C318.4 450.6 318.9 451.2 319.3 452.1C319.7 453 320.2 454.5 320.1 455.4C320.1 456.3 319.4 456.9 318.9 457.5C318.5 458.2 318.3 458.9 317.5 459.2C316.6 459.6 314.7 459.5 313.7 459.5C312.6 459.4 311.7 459.2 311.1 458.9C310.5 458.5 310.5 458.2 310.2 457.4ZM359.7 452C360.1 451.4 360.6 450.8 361.5 450.5C362.4 450.2 364.1 450.2 365 450.2C366 450.2 366.6 450.1 367.3 450.3C367.9 450.6 368.4 450.9 368.8 451.7C369.2 452.4 369.5 453.8 369.6 454.7C369.6 455.6 369.6 456.3 369.3 456.8C368.9 457.4 368.2 457.7 367.4 458C366.5 458.3 365 458.7 364 458.7C363 458.8 362 458.8 361.4 458.6C360.7 458.4 360.5 458.1 360.2 457.4C359.8 456.7 359.2 455 359.1 454.1C359.1 453.2 359.3 452.6 359.7 452ZM383.6 458.1C382.6 458.3 380.6 458.2 379.6 458.1C378.6 458 378.1 457.8 377.5 457.4C377 457 376.5 456.4 376.3 455.6C376 454.8 375.9 453.4 376.1 452.6C376.2 451.7 376.8 451.1 377.4 450.6C378 450.2 378.4 450.2 379.4 450C380.4 449.9 382.4 449.7 383.4 449.8C384.4 449.9 385.1 450.2 385.6 450.6C386.1 451 386.3 451.4 386.4 452.2C386.6 453 386.8 454.7 386.7 455.4C386.6 456.2 386.4 456.5 385.9 457C385.3 457.4 384.7 457.9 383.6 458.1ZM394.9 457.3C394.4 456.6 394.2 455.1 394.2 454.3C394.2 453.4 394.5 452.7 394.8 452.1C395.1 451.5 395.3 451 396.1 450.6C396.8 450.2 398.4 450 399.4 449.9C400.4 449.8 401.2 449.7 401.9 449.9C402.6 450.1 403.3 450.5 403.7 451.2C404.1 451.8 404.3 453.2 404.3 454C404.4 454.9 404.3 455.7 403.9 456.3C403.6 456.9 403.2 457.3 402.4 457.6C401.6 457.9 400.1 458.1 399.1 458.2C398.2 458.3 397.5 458.6 396.7 458.4C396 458.2 395.3 458 394.9 457.3ZM225.9 468.3C225.9 467.9 225.9 466.5 226.2 465.8C226.5 465.1 227.1 464.4 227.9 464C228.6 463.5 229.7 463.2 230.7 463.1C231.6 463 232.9 463 233.7 463.4C234.4 463.8 234.9 464.7 235.3 465.4C235.6 466.2 235.7 467.5 235.8 467.9M243.4 465.4C243.7 464.5 244.1 464 244.9 463.8C245.6 463.6 246.5 463.8 247.6 463.9C248.8 464 250.8 464.2 251.7 464.5C252.7 464.8 253.1 465.1 253.5 465.7C253.9 466.3 254.4 467.1 254.4 468C254.4 469 253.9 470.6 253.4 471.4C253 472.2 252.4 472.5 251.7 472.9C250.9 473.2 250.2 473.4 249.1 473.3C248.1 473.1 246.1 472.5 245.1 472.1C244.2 471.7 243.9 471.5 243.5 470.9C243.1 470.4 242.8 469.7 242.8 468.7C242.7 467.8 243 466.2 243.4 465.4ZM259.8 465C260.3 464.6 260.8 464.4 261.7 464.3C262.7 464.1 264.6 463.8 265.6 463.9C266.6 464.1 267.2 464.7 267.8 465.2C268.4 465.6 269.1 465.9 269.4 466.7C269.6 467.5 269.3 469 269.1 469.8C268.9 470.7 268.7 471.3 268.3 471.7C267.8 472.1 267.3 472.3 266.3 472.4C265.3 472.5 263.3 472.5 262.3 472.4C261.2 472.3 260.5 472 259.9 471.5C259.3 471.1 258.8 470.8 258.6 470C258.4 469.2 258.6 467.7 258.8 466.8C259 466 259.3 465.4 259.8 465ZM281.9 473.1C280.9 473 279.2 472.2 278.4 471.8C277.6 471.4 277.1 471.3 276.9 470.7C276.7 470.1 276.8 469.2 277 468.2C277.1 467.2 277.4 465.7 277.8 464.9C278.2 464.2 278.5 464 279.2 463.7C279.9 463.5 280.8 463.3 281.9 463.4C282.9 463.5 284.6 464.1 285.3 464.5C286.1 464.9 286.2 465.3 286.4 466C286.7 466.6 286.9 467.2 286.9 468.1C286.8 469.1 286.7 470.8 286.3 471.6C286 472.3 285.5 472.2 284.8 472.5C284 472.8 283 473.3 281.9 473.1ZM296.4 463.2C297.5 463.3 299.6 463.9 300.7 464.3C301.7 464.7 302.2 465 302.7 465.5C303.2 466 303.5 466.4 303.5 467.3C303.6 468.2 303.4 470 303.1 470.9C302.8 471.7 302.3 472.2 301.7 472.6C301.1 473 300.6 473.4 299.5 473.4C298.4 473.4 296.1 472.9 295.1 472.6C294.1 472.2 293.8 471.9 293.3 471.4C292.7 470.9 292 470.5 291.9 469.5C291.8 468.6 292.2 466.8 292.6 465.8C293 464.9 293.7 464.4 294.4 464C295 463.5 295.4 463.2 296.4 463.2ZM313.5 472.8C312.5 472.7 311.7 472.2 311.1 471.9C310.5 471.5 310.2 471.3 309.9 470.5C309.6 469.7 309.5 467.9 309.5 467C309.5 466.1 309.5 465.4 309.9 464.9C310.3 464.4 310.8 464.2 311.8 463.9C312.8 463.6 314.8 463 315.9 463C316.9 463.1 317.7 463.8 318.2 464.2C318.8 464.6 318.9 464.6 319.2 465.4C319.5 466.2 320.2 468 320.2 468.9C320.2 469.9 319.7 470.5 319.2 471C318.7 471.6 318.2 472 317.3 472.3C316.3 472.6 314.6 472.8 313.5 472.8ZM362.2 471.4C361.5 470.9 360.7 470.6 360.5 469.7C360.2 468.8 360.6 467.1 360.7 466.1C360.9 465.2 360.9 464.5 361.3 464C361.8 463.4 362.3 463 363.3 462.9C364.3 462.7 366.2 463 367.3 463.1C368.4 463.2 369.5 463 370.1 463.4C370.7 463.8 370.7 464.5 370.9 465.3C371.1 466.2 371.3 467.7 371.3 468.6C371.2 469.5 371.1 470.2 370.7 470.7C370.3 471.3 369.7 471.7 368.7 472C367.7 472.2 365.8 472.3 364.7 472.2C363.6 472.1 362.9 471.8 362.2 471.4ZM387.2 465.4C387.5 466.2 387.6 467.9 387.4 468.7C387.3 469.5 386.9 469.9 386.5 470.4C386 471 385.6 471.6 384.7 472C383.7 472.3 381.7 472.5 380.6 472.5C379.6 472.5 378.9 472.3 378.2 471.9C377.5 471.5 376.9 471 376.6 470.1C376.3 469.3 376.5 467.7 376.6 466.8C376.6 466 376.4 465.4 376.9 464.9C377.3 464.4 378.1 464.2 379.2 463.9C380.2 463.6 382.2 463.2 383.4 463.2C384.5 463.2 385.2 463.6 385.9 464C386.5 464.4 386.9 464.7 387.2 465.4ZM395.3 465.2C396 464.8 396.8 464.6 397.8 464.5C398.9 464.4 400.6 464.3 401.6 464.4C402.6 464.5 403.2 464.6 403.8 465.1C404.3 465.5 404.7 466.3 404.9 467.1C405 467.9 404.9 469.4 404.6 470.1C404.3 470.8 403.7 470.9 403.1 471.3C402.4 471.6 401.7 472.2 400.7 472.4C399.7 472.6 397.9 472.6 396.9 472.5C395.9 472.4 395.2 472.2 394.7 471.8C394.3 471.3 394.5 470.6 394.4 469.7C394.2 468.9 393.7 467.6 393.8 466.9C394 466.1 394.6 465.6 395.3 465.2ZM410.9 468.2C410.9 467.9 410.6 467.1 410.8 466.6C410.9 466.1 411.6 465.4 412 465C412.4 464.6 412.9 464.2 413.4 464C413.9 463.7 414.6 463.6 415.3 463.6C415.9 463.5 416.5 463.7 417.1 463.8C417.7 463.9 418.5 464.1 418.8 464.2M248.9 484.7C248.4 484.7 246.8 485 245.8 484.8C244.9 484.5 243.9 483.8 243.3 483.1C242.7 482.4 242.4 481.4 242.5 480.7C242.5 479.9 242.8 479.1 243.4 478.4C244.1 477.8 245.3 477.2 246.3 476.9C247.4 476.6 249.1 476.8 249.7 476.8M268.4 485C267.8 485.5 267.2 485.9 266.1 486.1C265 486.3 263 486.3 261.9 486.1C260.8 486 260 485.5 259.4 485C258.8 484.6 258.5 484.2 258.3 483.3C258.1 482.4 258.2 480.7 258.4 479.7C258.5 478.7 258.6 478 259.2 477.6C259.8 477.1 260.6 477.2 261.7 477C262.8 476.9 264.9 476.6 266 476.6C267.1 476.6 267.7 476.8 268.3 477.3C268.8 477.8 269 478.5 269.2 479.4C269.5 480.3 269.7 482 269.6 482.9C269.4 483.8 268.9 484.5 268.4 485ZM286.4 480.8C286.4 481.7 286.6 483.4 286.2 484.1C285.9 484.9 285 485.1 284.3 485.5C283.6 485.8 283.2 486.2 282.2 486.1C281.2 486.1 279.3 485.4 278.3 485.1C277.3 484.8 276.7 484.7 276.3 484.2C275.8 483.7 275.8 482.9 275.8 481.9C275.9 481 276.2 479.3 276.7 478.5C277.1 477.7 277.6 477.4 278.3 477.1C278.9 476.8 279.6 476.6 280.6 476.6C281.5 476.7 283.2 477.3 284.2 477.6C285.1 477.9 286 478 286.3 478.5C286.7 479.1 286.4 479.9 286.4 480.8ZM295.8 485.2C294.8 484.9 294.2 484.5 293.8 483.9C293.4 483.4 293.7 482.9 293.7 482C293.6 481.1 293.3 479.5 293.5 478.8C293.7 478 294.4 477.7 295.1 477.4C295.7 477 296.5 476.6 297.6 476.6C298.6 476.6 300.4 476.9 301.3 477.2C302.3 477.5 302.9 477.9 303.3 478.4C303.8 479 304.2 479.5 304.2 480.4C304.2 481.2 303.7 482.9 303.3 483.7C303 484.6 302.9 484.9 302.3 485.3C301.7 485.6 300.9 485.8 299.8 485.8C298.7 485.7 296.8 485.5 295.8 485.2ZM309.9 482.8C309.8 481.9 310.2 480.3 310.4 479.5C310.7 478.6 311 478.3 311.6 477.9C312.1 477.6 312.8 477.4 313.8 477.3C314.8 477.3 316.7 477.3 317.7 477.5C318.7 477.6 319.2 477.8 319.7 478.3C320.2 478.9 320.6 479.6 320.8 480.5C320.9 481.5 320.7 483.1 320.4 483.9C320.1 484.7 319.6 484.9 319 485.3C318.4 485.7 317.9 486 316.9 486.1C315.9 486.1 313.9 486 313 485.8C312 485.6 311.7 485.2 311.2 484.7C310.6 484.2 310 483.7 309.9 482.8ZM370 479.7C370.2 480.6 370.3 482.2 370.1 483.1C369.9 484 369.3 484.5 368.8 485.1C368.3 485.6 368 486.1 367.1 486.2C366.1 486.4 364.3 486.2 363.3 486C362.2 485.8 361.6 485.5 361 485C360.4 484.6 359.6 484.1 359.4 483.3C359.3 482.4 359.9 480.8 360.2 479.8C360.4 478.9 360.3 478.3 360.7 477.8C361.1 477.3 361.8 477 362.7 476.9C363.7 476.9 365.4 477.2 366.4 477.3C367.5 477.5 368.3 477.4 368.9 477.8C369.5 478.2 369.8 478.8 370 479.7ZM387.5 479.6C387.8 480.2 387.8 480.8 387.7 481.6C387.7 482.4 387.6 483.7 387.2 484.4C386.9 485.1 386.6 485.6 385.8 485.8C385.1 486.1 384.1 485.9 382.9 485.8C381.8 485.8 379.8 485.7 378.8 485.4C377.7 485.1 377.3 484.7 376.8 484.1C376.3 483.5 375.9 482.9 376 482C376 481.2 376.6 479.7 377 479.1C377.4 478.4 377.7 478.2 378.4 477.9C379.2 477.7 380.2 477.7 381.4 477.7C382.6 477.7 384.6 477.9 385.6 478.2C386.6 478.5 387.1 479.1 387.5 479.6ZM399.5 477.3C400.5 477.3 401.4 477.5 402 477.7C402.6 478 403.1 478.1 403.3 478.9C403.5 479.7 403.3 481.3 403.2 482.3C403.1 483.2 402.9 484 402.5 484.6C402.2 485.2 402 485.7 401.2 485.9C400.3 486.1 398.5 486 397.5 485.9C396.4 485.8 395.6 485.6 395 485.3C394.4 484.9 394.2 484.6 394 483.8C393.7 483.1 393.4 481.5 393.4 480.6C393.4 479.7 393.8 479 394.1 478.4C394.5 477.9 394.8 477.5 395.7 477.3C396.6 477.1 398.4 477.2 399.5 477.3ZM416.9 485.6C416.4 485.7 414.8 486.3 413.8 486.1C412.8 485.9 411.8 485.1 411.1 484.4C410.5 483.7 409.8 482.7 409.8 481.8C409.8 481 410.5 479.9 411.1 479.2C411.7 478.4 412.5 477.7 413.5 477.4C414.4 477.1 416.1 477.2 416.7 477.2M259.5 495.6C259.6 495.2 259.4 493.9 259.8 493.2C260.2 492.5 261.1 492 261.9 491.7C262.7 491.4 263.8 491.3 264.8 491.5C265.7 491.6 267 491.9 267.7 492.3C268.4 492.7 268.7 493.3 269 494C269.3 494.7 269.3 496.1 269.4 496.5M279.6 491.4C280.5 491.2 282.1 491.4 283.1 491.4C284.2 491.5 285.2 491.5 285.8 491.8C286.4 492.1 286.5 492.5 286.7 493.3C286.9 494 287.2 495.4 287.2 496.3C287.1 497.2 286.7 498 286.3 498.5C285.8 499 285.4 499.3 284.6 499.5C283.7 499.7 282 499.9 281 499.8C279.9 499.6 278.9 499.2 278.4 498.8C277.8 498.4 277.7 498 277.5 497.3C277.3 496.6 277.3 495.2 277.4 494.3C277.4 493.5 277.6 492.9 278 492.4C278.4 491.9 278.8 491.6 279.6 491.4ZM292.4 493C292.5 492.2 293 491.9 293.6 491.5C294.2 491.1 295 490.7 296 490.5C297.1 490.2 299 490 300 490C300.9 490.1 301.4 490.2 301.8 490.7C302.3 491.2 302.3 492 302.5 492.9C302.7 493.8 303.3 495.3 303.2 496.1C303.1 496.9 302.4 497 301.9 497.5C301.3 497.9 300.6 498.6 299.6 498.9C298.6 499.1 296.8 499 295.8 498.9C294.8 498.8 294.3 498.7 293.9 498.3C293.4 497.8 293.5 497.1 293.3 496.2C293 495.3 292.4 493.7 292.4 493ZM320.4 499C319.9 499.4 319.1 499.4 318 499.5C317 499.6 315 499.8 313.9 499.7C312.7 499.6 311.8 499.3 311.1 498.9C310.4 498.5 310 498 309.8 497.1C309.7 496.3 310 494.9 310.3 494C310.5 493.2 310.8 492.5 311.3 492C311.8 491.6 312.3 491.5 313.3 491.4C314.4 491.2 316.5 491.2 317.6 491.3C318.8 491.4 319.6 491.6 320.3 492C320.9 492.5 321.3 493 321.5 493.8C321.7 494.7 321.4 496.2 321.2 497C321 497.9 320.9 498.6 320.4 499ZM369.4 491.5C370 491.7 370.2 492.1 370.5 492.8C370.9 493.6 371.6 495 371.6 495.9C371.7 496.8 371.2 497.6 370.8 498.1C370.4 498.6 370.1 498.8 369.2 499.1C368.2 499.4 366.4 499.9 365.3 500.1C364.3 500.2 363.2 500.1 362.6 499.8C362 499.5 361.9 499.1 361.6 498.3C361.3 497.6 360.8 496.1 360.8 495.2C360.7 494.3 360.9 493.5 361.2 493C361.6 492.4 362 492.4 362.9 492C363.8 491.7 365.6 491.2 366.7 491.1C367.7 491 368.7 491.2 369.4 491.5ZM386.5 492.3C386.9 493 387.2 494.3 387.3 495.2C387.4 496.1 387.6 496.8 387.3 497.4C387 498 386.4 498.3 385.5 498.7C384.6 499.1 383 499.9 382 500C380.9 500.2 380 499.8 379.2 499.6C378.4 499.4 377.6 499.4 377.2 498.7C376.8 498 376.9 496.5 376.8 495.5C376.7 494.6 376.4 493.9 376.7 493.2C376.9 492.5 377.5 491.9 378.4 491.5C379.3 491.1 381 490.9 382.1 490.8C383.2 490.7 384.5 490.5 385.2 490.8C385.9 491 386.2 491.5 386.5 492.3ZM393.6 492.3C393.9 491.6 394.2 491.2 394.8 490.8C395.3 490.5 395.9 490.4 396.9 490.3C397.9 490.3 399.8 490.4 400.8 490.6C401.8 490.9 402.4 491.3 402.8 491.8C403.2 492.3 403.1 492.8 403.1 493.6C403.2 494.5 403.4 496 403.2 496.7C402.9 497.4 402.4 497.7 401.8 498C401.2 498.4 400.7 498.5 399.7 498.6C398.7 498.6 396.7 498.6 395.8 498.3C394.9 498 394.6 497.4 394.2 496.9C393.7 496.4 393.3 496.1 393.2 495.3C393.1 494.5 393.3 493 393.6 492.3ZM415.3 499.4C414.7 499.3 412.9 499.2 412 498.7C411.1 498.3 410.4 497.4 410 496.6C409.6 495.7 409.4 494.5 409.6 493.6C409.8 492.7 410.3 491.9 411 491.3C411.8 490.7 413.1 490.2 414.2 490.1C415.2 490.1 416.8 490.8 417.4 491M293 508.6C293.1 508.1 292.9 506.8 293.4 506C293.8 505.3 294.9 504.4 295.7 504C296.5 503.6 297.5 503.7 298.4 503.7C299.3 503.8 300.4 503.9 301.2 504.4C301.9 504.9 302.6 506 302.9 506.8C303.1 507.6 302.8 509 302.8 509.4M314.8 504.4C315.8 504.4 317.3 504.7 318.1 504.9C318.9 505.1 319.4 505.1 319.8 505.7C320.1 506.3 320.1 507.4 320.2 508.3C320.3 509.2 320.4 510.6 320.2 511.3C320.1 512 319.9 512.3 319.3 512.7C318.6 513.1 317.4 513.5 316.3 513.6C315.3 513.8 314 513.6 313.1 513.4C312.2 513.2 311.6 512.9 311.1 512.3C310.7 511.7 310.6 510.7 310.6 509.8C310.5 508.9 310.7 507.6 310.9 506.8C311.2 506.1 311.4 505.7 312 505.3C312.6 504.9 313.8 504.5 314.8 504.4ZM333.3 503.7C334.4 503.7 334.9 504 335.5 504.3C336.1 504.7 336.5 505 336.8 505.8C337.1 506.6 337.3 508.3 337.2 509.2C337.2 510 337 510.4 336.6 510.9C336.1 511.3 335.7 511.6 334.7 511.9C333.8 512.2 331.9 512.7 330.8 512.8C329.7 512.9 328.8 512.5 328.3 512.2C327.7 511.9 327.7 511.6 327.5 510.8C327.3 510 327 508.4 327 507.5C326.9 506.6 326.9 505.8 327.3 505.3C327.7 504.9 328.3 504.8 329.3 504.5C330.3 504.3 332.3 503.8 333.3 503.7ZM347.2 503.6C348.2 503.5 350 503.9 350.9 504.2C351.8 504.5 352.3 504.8 352.7 505.3C353.1 505.9 353.2 506.5 353.3 507.5C353.3 508.5 353.1 510.3 352.8 511.1C352.5 511.9 352.1 512.1 351.4 512.5C350.8 512.8 350.1 513.2 349.1 513.2C348.1 513.3 346.5 512.9 345.6 512.6C344.7 512.4 344.1 512.1 343.8 511.6C343.4 511 343.5 510.3 343.4 509.3C343.4 508.4 343.3 506.6 343.6 505.8C343.8 504.9 344.2 504.9 344.8 504.5C345.4 504.1 346.2 503.6 347.2 503.6ZM359.5 508.3C359.6 507.4 360.1 507 360.5 506.4C360.8 505.9 361 505.2 361.9 504.9C362.9 504.6 365.2 504.5 366.3 504.5C367.4 504.5 368 504.6 368.7 504.9C369.4 505.2 370.1 505.6 370.5 506.5C370.8 507.3 370.8 508.9 370.8 509.8C370.8 510.7 370.8 511.3 370.3 511.8C369.8 512.3 369 512.6 367.9 512.9C366.9 513.1 364.8 513.4 363.8 513.5C362.7 513.5 362.1 513.4 361.5 513.1C360.9 512.8 360.4 512.3 360.1 511.5C359.8 510.7 359.5 509.2 359.5 508.3ZM386.7 504.7C387.2 505.2 387.6 506 387.8 507C388 508 387.9 509.6 387.7 510.4C387.5 511.3 387.1 511.7 386.5 512.2C385.8 512.6 385 513 383.9 513.1C382.8 513.2 381.1 513 380 512.7C379 512.4 378.4 511.8 377.8 511.3C377.3 510.7 377.1 510.4 377 509.5C376.9 508.6 376.9 506.8 377.2 505.9C377.5 505 378 504.7 378.6 504.3C379.2 503.9 379.7 503.5 380.7 503.5C381.7 503.4 383.7 503.6 384.7 503.8C385.7 504 386.1 504.1 386.7 504.7ZM403.7 511.5C403.3 512 402.8 512 401.9 512.3C400.9 512.6 398.9 513.1 397.8 513.1C396.7 513.1 395.9 512.5 395.4 512.1C394.9 511.8 394.9 511.6 394.6 510.8C394.3 510 393.7 508.3 393.7 507.4C393.7 506.5 394.1 505.8 394.5 505.3C395 504.8 395.6 504.6 396.6 504.3C397.6 504.1 399.6 503.8 400.7 503.9C401.7 503.9 402.2 504.2 402.9 504.5C403.5 504.8 404.1 505.1 404.3 505.9C404.6 506.7 404.5 508.4 404.4 509.3C404.3 510.2 404.1 511 403.7 511.5ZM410.3 510.5C410.2 509.8 410 508.3 410.1 507.5C410.2 506.7 410.4 506 410.9 505.6C411.3 505.2 411.8 505 412.8 505C413.7 504.9 415.7 505 416.7 505.2C417.8 505.4 418.6 505.7 419.2 506.2C419.8 506.6 420.1 506.9 420.3 507.6C420.5 508.3 420.6 509.6 420.5 510.4C420.3 511.2 419.8 511.9 419.3 512.3C418.8 512.8 418.4 513.1 417.5 513.2C416.5 513.2 414.7 512.8 413.7 512.5C412.6 512.3 411.5 512.1 411 511.8C410.4 511.4 410.5 511.2 410.3 510.5ZM427.4 508.4C427.5 508.1 427.9 507.4 428.1 506.9C428.4 506.4 428.7 505.8 429.1 505.4C429.5 505.1 429.9 504.9 430.4 504.7C430.9 504.4 431.4 504.3 432 504.2C432.6 504.1 433.3 503.9 433.9 504C434.5 504.1 435.3 504.6 435.5 504.7M326.6 522.9C326.7 522.4 326.7 521 327.2 520.3C327.6 519.7 328.4 519.1 329.2 518.7C330.1 518.2 331.2 517.7 332.2 517.7C333.1 517.8 334.2 518.3 335 518.8C335.8 519.3 336.7 519.9 337.1 520.6C337.5 521.3 337.5 522.6 337.6 523.1M343.6 522.7C343.7 522.3 343.7 521 344.1 520.3C344.5 519.7 345.2 519.2 346 518.9C346.8 518.5 347.9 518.2 348.8 518.3C349.6 518.4 350.5 519 351.2 519.5C351.9 520.1 352.7 520.7 353 521.4C353.3 522.1 352.9 523.3 352.9 523.7M360.5 521.6C360.5 521.2 360.4 520 360.8 519.4C361.2 518.8 362.1 518.2 363 517.9C363.8 517.6 365 517.4 365.9 517.6C366.9 517.7 367.8 518.3 368.6 518.8C369.3 519.3 370 519.9 370.3 520.6C370.6 521.4 370.4 522.6 370.4 523M376.6 522.7C376.8 522.3 376.9 520.9 377.4 520.2C377.9 519.6 378.9 519 379.8 518.7C380.7 518.5 381.8 518.4 382.7 518.5C383.6 518.6 384.7 519 385.4 519.6C386.1 520.1 386.5 521 386.8 521.8C387.1 522.7 387.2 524 387.3 524.4M394 522.7C394.1 522.2 394.2 520.9 394.5 520.1C394.9 519.3 395.3 518.4 396 517.9C396.8 517.4 398 517.4 399 517.3C399.9 517.3 400.8 517.2 401.7 517.6C402.5 517.9 403.5 518.7 404 519.5C404.4 520.2 404.2 521.5 404.3 521.9M410.2 523.1C410.2 522.7 409.7 521.5 410 520.7C410.3 520 411.2 519.1 412 518.6C412.9 518.1 414.1 518 415.1 518C416.1 517.9 417.4 518.1 418.3 518.5C419.1 518.8 419.6 519.5 420 520.2C420.5 520.9 420.8 522.1 420.9 522.5M558.4 271.6C559.1 271.9 559.5 272.2 559.8 272.9C560.1 273.6 560.2 275 560.3 275.9C560.3 276.8 560.3 277.6 560 278.1C559.8 278.7 559.5 279 558.7 279.3C557.8 279.6 555.9 280 554.8 280.1C553.7 280.1 552.7 279.9 552.1 279.6C551.4 279.4 550.9 279.2 550.6 278.5C550.3 277.9 550.2 276.3 550.1 275.5C550 274.6 549.8 274 550.1 273.3C550.4 272.7 551.1 272.2 552 271.8C552.9 271.4 554.5 271 555.6 271C556.7 271 557.8 271.3 558.4 271.6ZM575.9 271.4C576.9 271.5 577.4 271.5 577.9 271.9C578.4 272.4 579 273 579.2 273.9C579.4 274.7 579.3 276.4 579.1 277.2C579 278.1 578.7 278.7 578.3 279.1C577.8 279.6 577.3 279.9 576.3 280.1C575.2 280.3 573.1 280.5 572 280.4C570.9 280.3 570.3 279.9 569.6 279.5C569 279 568.4 278.4 568.2 277.5C568 276.6 568.3 274.8 568.5 274C568.7 273.2 569.1 273 569.6 272.5C570.2 272.1 570.8 271.5 571.9 271.3C572.9 271.1 574.9 271.3 575.9 271.4ZM586.7 273.2C587.1 272.7 587.6 272.2 588.5 272.1C589.5 272 591.3 272.2 592.3 272.4C593.3 272.6 593.9 272.8 594.4 273.3C594.9 273.7 595.1 274.1 595.3 274.9C595.5 275.7 595.6 277.3 595.4 278.1C595.3 278.9 594.9 279.4 594.5 279.8C594.1 280.3 593.8 280.6 592.9 280.8C592 280.9 590.1 280.8 589.1 280.7C588.1 280.6 587.5 280.5 586.9 280.1C586.3 279.7 585.8 279.2 585.6 278.4C585.4 277.5 585.5 276 585.7 275.2C585.8 274.3 586.2 273.7 586.7 273.2ZM609.1 271.9C610.3 271.8 611.2 271.7 611.9 271.9C612.7 272.2 613.2 272.6 613.5 273.2C613.9 273.9 614.1 275.2 614.1 276C614 276.9 613.7 277.6 613.3 278.1C612.9 278.6 612.5 278.8 611.6 279.1C610.6 279.5 608.6 280.1 607.5 280.1C606.4 280.2 605.5 280 604.8 279.6C604.1 279.3 603.8 278.9 603.4 278.2C603.1 277.5 602.5 276.2 602.5 275.4C602.5 274.6 603 273.9 603.4 273.5C603.8 273 604 272.8 604.9 272.5C605.9 272.3 608 272 609.1 271.9ZM558.4 284.5C559.4 284.8 560.2 285.3 560.8 285.8C561.3 286.4 561.4 286.7 561.5 287.6C561.6 288.5 561.5 290.2 561.4 291.1C561.2 292 561 292.5 560.5 292.9C560 293.3 559.3 293.5 558.2 293.6C557 293.6 554.9 293.5 553.8 293.3C552.7 293.1 552.1 292.7 551.6 292.2C551.1 291.7 550.9 291.2 550.8 290.3C550.7 289.4 550.7 287.8 550.9 286.9C551.1 286 551.3 285.3 551.9 284.8C552.4 284.3 553.2 284.1 554.2 284C555.3 284 557.3 284.2 558.4 284.5ZM577.9 287.3C578.1 288.3 578.2 290.1 578 290.9C577.8 291.8 577.3 292.2 576.7 292.5C576.1 292.9 575.5 293 574.5 293.1C573.5 293.3 571.6 293.6 570.7 293.4C569.8 293.2 569.6 292.5 569.1 291.9C568.7 291.3 568.2 290.8 568 289.9C567.9 289 568 287.3 568.3 286.4C568.6 285.5 569.2 285 569.8 284.6C570.4 284.1 570.9 283.7 571.9 283.6C572.8 283.6 574.5 283.9 575.4 284.2C576.2 284.5 576.5 284.8 577 285.3C577.4 285.8 577.8 286.4 577.9 287.3ZM586.4 288.8C586.4 288 586.2 287.4 586.4 286.8C586.7 286.2 587 285.7 587.8 285.3C588.6 284.9 590.4 284.5 591.4 284.5C592.5 284.4 593.4 284.6 594.1 284.9C594.8 285.1 595.3 285.3 595.7 285.9C596 286.6 596.3 287.8 596.4 288.6C596.4 289.4 596.3 290.2 596 290.7C595.7 291.3 595.4 291.6 594.5 291.9C593.7 292.3 592 292.6 591.1 292.7C590.1 292.9 589.3 293 588.6 292.8C587.9 292.7 587.2 292.5 586.8 291.8C586.4 291.1 586.5 289.6 586.4 288.8ZM612.8 292.5C612.4 293 612.2 293.2 611.3 293.4C610.4 293.6 608.4 293.9 607.2 293.8C606 293.7 605 293.4 604.3 293.1C603.6 292.7 603.3 292.5 603 291.8C602.7 291.1 602.5 289.9 602.6 289.1C602.6 288.3 603 287.6 603.4 287C603.8 286.5 604 286.1 605 285.9C605.9 285.8 608 286.1 609.1 286.1C610.3 286.2 611.2 286 611.9 286.3C612.6 286.5 613.3 286.9 613.6 287.7C613.9 288.4 613.6 289.8 613.5 290.6C613.3 291.4 613.2 292.1 612.8 292.5ZM561.5 304.7C561.4 305.5 560.9 306.1 560.4 306.6C559.9 307 559.5 307.3 558.5 307.5C557.5 307.7 555.5 307.8 554.4 307.7C553.3 307.7 552.3 307.5 551.6 307.1C551 306.7 550.6 306.1 550.4 305.3C550.3 304.5 550.5 303.1 550.6 302.3C550.8 301.4 550.9 300.6 551.3 300.1C551.7 299.6 552.3 299.4 553.3 299.3C554.3 299.1 556.2 299.3 557.3 299.4C558.4 299.4 559 299.3 559.6 299.6C560.3 300 561 300.5 561.3 301.4C561.6 302.2 561.7 303.8 561.5 304.7ZM576.8 306.1C575.9 306.4 574 306.5 573 306.5C572.1 306.5 571.6 306.4 571.1 306.1C570.6 305.8 570.1 305.6 569.8 304.9C569.5 304.3 569.3 302.8 569.3 302.1C569.2 301.3 569.3 301 569.6 300.4C570 299.9 570.6 299.3 571.5 299C572.3 298.6 574 298.5 574.9 298.4C575.9 298.4 576.5 298.5 577 298.8C577.5 299.1 577.7 299.6 578.1 300.3C578.4 301 579.1 302.3 579.2 303.1C579.2 303.8 578.8 304.3 578.4 304.8C578 305.3 577.7 305.8 576.8 306.1ZM585.6 305.2C585.2 304.6 584.7 303.3 584.8 302.4C584.8 301.6 585.4 300.7 585.8 300.2C586.2 299.7 586.4 299.4 587.2 299.2C588.1 299 589.8 299 591 299C592.1 299 593.1 299.1 593.9 299.4C594.7 299.6 595.3 300 595.5 300.7C595.7 301.4 595.4 302.6 595.3 303.4C595.3 304.2 595.4 305 595.1 305.6C594.8 306.2 594.4 306.5 593.5 306.7C592.6 307 590.9 307.1 589.8 307.1C588.7 307 587.6 306.7 586.9 306.3C586.2 306 585.9 305.9 585.6 305.2ZM603.4 299.4C603.8 299 604.5 298.9 605.5 298.7C606.5 298.5 608.4 298.1 609.4 298.2C610.5 298.2 611.1 298.5 611.7 298.9C612.3 299.3 612.5 299.6 612.8 300.4C613 301.2 613.2 302.7 613.1 303.6C613 304.5 612.8 305.1 612.3 305.6C611.8 306.1 611.2 306.2 610.2 306.4C609.2 306.6 607.3 306.7 606.3 306.7C605.3 306.7 604.5 306.6 604 306.2C603.4 305.9 603.2 305.3 603.1 304.5C602.9 303.6 603 302 603.1 301.2C603.1 300.3 603 299.8 603.4 299.4ZM552.7 312C553.2 311.5 553.7 310.8 554.6 310.8C555.5 310.7 557.3 311.3 558.2 311.6C559.1 311.9 559.5 312.1 560 312.5C560.5 313 561.1 313.3 561.3 314.1C561.5 315 561.4 316.9 561.1 317.8C560.8 318.6 560.2 319 559.7 319.4C559.1 319.8 558.7 320.2 557.7 320.4C556.8 320.5 555.1 320.3 554.2 320.1C553.2 319.9 552.5 319.8 552 319.3C551.6 318.9 551.4 318.3 551.4 317.4C551.3 316.4 551.5 314.7 551.7 313.8C551.9 312.9 552.2 312.5 552.7 312ZM569.7 319.1C569.4 318.5 569.3 317.4 569.3 316.4C569.4 315.4 569.6 313.7 569.9 313C570.1 312.2 570.4 311.9 571 311.7C571.6 311.4 572.7 311.3 573.6 311.3C574.6 311.3 576.1 311.4 576.9 311.6C577.7 311.8 578.3 311.9 578.6 312.5C578.9 313.1 578.9 314.2 579 315.2C579 316.3 579 317.8 578.8 318.6C578.5 319.4 578.2 319.8 577.5 320.1C576.8 320.4 575.8 320.4 574.8 320.4C573.7 320.5 572.2 320.5 571.3 320.3C570.5 320.1 570 319.8 569.7 319.1ZM584.5 315.9C584.5 314.9 585.1 313.8 585.5 313.1C585.9 312.4 586 312.1 586.9 311.8C587.7 311.5 589.5 311.4 590.7 311.4C591.8 311.4 593.1 311.3 594 311.7C594.8 312 595.5 312.7 595.9 313.4C596.3 314.2 596.6 315.2 596.5 316.1C596.5 317 595.8 318.3 595.4 318.9C595 319.6 594.7 319.8 593.9 320.1C593 320.3 591.5 320.5 590.4 320.6C589.2 320.6 587.9 320.5 587 320.3C586.1 320 585.4 319.6 585 318.9C584.5 318.2 584.4 316.9 584.5 315.9ZM603.2 314.5C603.4 313.7 604 313.5 604.7 313.1C605.4 312.7 606.2 312.4 607.3 312.2C608.4 312.1 610.3 311.8 611.3 312C612.3 312.2 612.7 312.7 613.2 313.2C613.8 313.7 614.3 314.2 614.5 315C614.7 315.8 614.8 317.3 614.5 318C614.2 318.8 613.4 319.3 612.7 319.7C612 320 611.4 320.1 610.2 320.2C609.1 320.3 607 320.5 605.9 320.4C604.8 320.3 604.1 320.1 603.6 319.7C603.2 319.2 603.4 318.3 603.3 317.5C603.3 316.6 603 315.2 603.2 314.5ZM562.2 330.5C562.1 331.4 561.7 332 561.2 332.6C560.8 333.2 560.4 333.7 559.5 334C558.5 334.3 556.5 334.6 555.5 334.6C554.5 334.6 554 334.4 553.3 334C552.7 333.7 551.8 333.4 551.4 332.6C551.1 331.7 551.1 330 551.1 329.1C551.2 328.2 551.2 327.6 551.6 327.1C552 326.6 552.6 326.4 553.7 326.1C554.7 325.8 556.7 325.3 557.7 325.3C558.7 325.2 559 325.6 559.7 325.9C560.3 326.3 561.2 326.4 561.6 327.2C562.1 327.9 562.3 329.6 562.2 330.5ZM575.5 334.6C574.5 334.7 572.8 334.3 571.7 334.1C570.6 333.9 569.6 333.7 568.8 333.3C568.1 332.9 567.4 332.5 567.2 331.8C566.9 331.1 566.9 329.7 567.1 328.9C567.4 328.1 568 327.5 568.5 327C569 326.5 569.3 326.1 570.3 325.9C571.2 325.8 573.1 326.1 574.2 326.4C575.4 326.6 576.3 327.3 577 327.7C577.7 328.1 578.2 328.2 578.4 328.8C578.6 329.5 578.5 330.9 578.4 331.8C578.3 332.6 578.1 333.4 577.6 333.9C577.1 334.3 576.5 334.6 575.5 334.6ZM587 334.6C586.4 334.2 586 333.6 585.7 332.8C585.5 331.9 585.6 330.4 585.7 329.5C585.8 328.6 586 327.9 586.5 327.4C586.9 326.9 587.5 326.6 588.5 326.3C589.4 326.1 591.2 325.9 592.1 325.9C593 325.9 593.4 326.1 593.9 326.5C594.4 327 594.7 327.7 595 328.6C595.3 329.5 595.7 331 595.7 331.8C595.7 332.6 595.4 333.1 595 333.5C594.5 333.9 593.9 334.2 592.9 334.4C592 334.7 590.2 334.9 589.2 335C588.3 335 587.6 335 587 334.6ZM604.7 333.1C603.9 332.7 603.4 332.3 603.1 331.7C602.8 331 602.6 329.9 602.7 329C602.8 328.1 603.1 327 603.5 326.4C603.8 325.8 604.1 325.7 604.9 325.4C605.7 325.2 607.2 324.9 608.3 324.9C609.4 324.9 610.6 325.1 611.3 325.5C612 325.8 612.4 326.2 612.6 326.9C612.9 327.6 613.1 328.8 613 329.7C612.9 330.6 612.5 331.6 612.1 332.3C611.7 333 611.4 333.4 610.7 333.7C609.9 334 608.6 334.1 607.6 334C606.6 333.9 605.4 333.5 604.7 333.1ZM550.4 342.9C550.3 342 550.3 341.1 550.7 340.5C551.1 339.9 551.9 339.7 552.9 339.3C553.8 339 555.5 338.6 556.5 338.5C557.6 338.5 558.6 338.7 559.3 339.1C559.9 339.5 560.1 339.9 560.5 340.8C560.8 341.6 561.3 343.3 561.3 344.3C561.2 345.2 560.6 346.1 560.1 346.7C559.7 347.3 559.5 347.8 558.7 348C557.8 348.3 555.9 348.3 554.9 348.2C553.8 348.2 553 348 552.3 347.7C551.7 347.4 551.3 347 551 346.2C550.7 345.4 550.4 343.9 550.4 342.9ZM576.9 338.9C577.5 339.2 577.6 339.4 577.9 340.2C578.2 341 578.5 342.7 578.6 343.7C578.7 344.6 578.8 345.2 578.5 345.8C578.2 346.4 577.6 346.9 576.8 347.2C575.9 347.6 574.3 347.8 573.3 347.8C572.3 347.9 571.2 347.8 570.6 347.5C570.1 347.1 570 346.7 569.7 345.8C569.4 345 568.9 343.4 568.8 342.5C568.7 341.6 568.8 341.1 569.1 340.5C569.4 339.9 569.9 339.5 570.9 339.2C571.8 338.9 573.5 338.5 574.5 338.5C575.5 338.4 576.4 338.6 576.9 338.9ZM596.2 346.2C595.8 346.8 595.3 346.9 594.4 347.2C593.5 347.4 591.7 347.8 590.7 347.9C589.7 347.9 589.1 347.7 588.4 347.3C587.8 346.9 587.3 346.4 587 345.6C586.7 344.8 586.6 343.2 586.6 342.3C586.7 341.4 586.9 340.8 587.3 340.2C587.7 339.7 588.2 339.4 589.1 339.1C590 338.9 591.8 338.5 592.7 338.5C593.7 338.6 594.3 339 594.9 339.4C595.5 339.7 596 339.8 596.4 340.6C596.7 341.4 597 343.2 596.9 344.1C596.9 345 596.7 345.7 596.2 346.2ZM610.4 348.5C609.4 348.8 607.5 349.2 606.5 349.1C605.6 349 605 348.3 604.6 347.8C604.2 347.3 604.1 346.8 603.9 345.9C603.7 345 603.5 343.3 603.7 342.5C603.8 341.6 604.2 341.1 604.6 340.7C605.1 340.2 605.7 340.1 606.6 339.8C607.5 339.6 609.2 339 610.2 339.1C611.1 339.2 611.8 339.7 612.3 340.2C612.9 340.7 613.4 341.2 613.5 342.1C613.6 343 613.3 344.7 613.1 345.7C612.9 346.6 612.8 347.2 612.3 347.6C611.9 348.1 611.3 348.3 610.4 348.5ZM557.6 351.3C558.7 351.3 559.6 351.2 560.3 351.5C561.1 351.7 561.6 352.2 562 353C562.3 353.8 562.6 355.2 562.5 356.1C562.4 357.1 561.9 357.9 561.5 358.5C561.1 359.1 560.9 359.4 560 359.8C559.1 360.2 557.2 360.7 556.1 360.8C555.1 360.8 554.1 360.4 553.4 360C552.7 359.7 552.3 359.5 551.9 358.7C551.6 357.9 551.5 356.2 551.5 355.2C551.5 354.2 551.6 353.4 552 352.8C552.3 352.2 552.6 351.8 553.6 351.6C554.5 351.3 556.5 351.3 557.6 351.3ZM578.1 353.8C578.4 354.3 578.2 355.1 578.1 356.1C578.1 357.1 577.9 358.8 577.6 359.6C577.4 360.4 577.4 360.5 576.8 360.8C576.2 361.2 575.1 361.7 574 361.7C573 361.8 571.4 361.5 570.5 361.2C569.6 360.9 569 360.6 568.6 360C568.2 359.4 568.2 358.6 568.2 357.6C568.1 356.6 568.1 354.9 568.4 354.1C568.7 353.2 569.4 352.8 570.1 352.5C570.8 352.1 571.5 351.9 572.5 351.9C573.5 351.9 575.1 352.3 576.1 352.6C577 352.9 577.7 353.2 578.1 353.8ZM584.3 356.6C584.3 355.7 584.9 354.2 585.2 353.4C585.6 352.7 585.7 352.4 586.3 352.1C586.9 351.8 587.8 351.7 588.9 351.7C590.1 351.6 592.3 351.4 593.3 351.7C594.4 352 595 352.7 595.4 353.3C595.8 353.8 595.7 354.2 595.7 355.1C595.7 355.9 595.8 357.4 595.5 358.2C595.2 359 594.6 359.5 593.9 359.9C593.2 360.2 592.5 360.2 591.4 360.1C590.2 360.1 588.1 359.9 587.1 359.6C586 359.3 585.5 358.9 585 358.4C584.6 357.9 584.3 357.4 584.3 356.6ZM611.2 352.1C612.2 352.4 612.5 352.8 612.9 353.3C613.3 353.9 613.8 354.5 613.8 355.4C613.8 356.3 613.2 357.9 612.9 358.7C612.5 359.4 612.4 359.7 611.7 360C611 360.3 609.8 360.6 608.7 360.5C607.5 360.4 605.5 359.8 604.6 359.5C603.6 359.2 603.4 359.1 602.9 358.6C602.5 358 601.9 357.1 601.9 356.2C601.9 355.3 602.5 353.9 602.9 353.1C603.3 352.4 603.5 352.1 604.2 351.8C604.9 351.5 606 351.3 607.1 351.3C608.3 351.4 610.3 351.8 611.2 352.1ZM561.5 370.3C561.5 371.3 561.5 372.6 561.2 373.3C560.9 374 560.4 374.3 559.6 374.6C558.8 374.8 557.4 374.8 556.4 374.8C555.3 374.8 554 374.6 553.2 374.3C552.4 374 551.7 373.5 551.4 372.8C551.2 372 551.5 370.9 551.6 369.9C551.8 368.9 551.9 367.5 552.3 366.8C552.6 366 553.1 365.8 553.8 365.6C554.6 365.4 555.7 365.5 556.7 365.6C557.7 365.7 559.3 366 560 366.3C560.8 366.7 560.9 367 561.2 367.7C561.4 368.3 561.5 369.4 561.5 370.3ZM567.5 371.9C567.4 371 567.6 369.3 567.8 368.4C567.9 367.5 568 367.1 568.6 366.7C569.2 366.2 570.1 366 571.2 365.9C572.3 365.7 574.2 365.5 575.2 365.6C576.2 365.7 576.7 366.1 577.2 366.6C577.7 367.1 578.1 367.6 578.3 368.5C578.5 369.4 578.8 371.4 578.6 372.2C578.4 373.1 577.8 373.3 577.2 373.8C576.5 374.2 575.8 374.6 574.8 374.8C573.7 375 571.9 375.3 570.9 375.1C569.9 375 569.3 374.3 568.7 373.8C568.2 373.2 567.7 372.8 567.5 371.9ZM596.1 370.4C596 371.2 595.5 372.3 595.1 372.9C594.7 373.5 594.5 373.9 593.8 374.1C593.1 374.4 591.9 374.3 590.9 374.3C590 374.3 588.7 374.4 587.9 374.1C587.1 373.8 586.4 373.3 586 372.6C585.7 371.9 585.6 370.9 585.7 370C585.7 369.2 586 368.1 586.4 367.4C586.8 366.7 587.3 366.3 588.1 366C588.9 365.8 590 365.7 591.1 365.8C592.1 365.9 593.5 366.3 594.3 366.6C595.1 367 595.6 367.1 595.9 367.7C596.2 368.4 596.3 369.5 596.1 370.4ZM610.4 373.5C609.5 373.8 607.8 374.4 606.9 374.3C606 374.3 605.5 373.7 604.9 373.3C604.3 372.9 603.5 372.8 603.2 372.1C602.9 371.4 602.8 369.8 602.9 369C603 368.2 603.6 367.8 604 367.3C604.4 366.9 604.6 366.6 605.4 366.3C606.3 366 608.1 365.7 609.1 365.7C610.1 365.7 610.7 365.8 611.3 366.1C611.9 366.5 612.4 366.8 612.7 367.6C612.9 368.4 613 369.9 612.9 370.8C612.8 371.6 612.7 372.3 612.2 372.7C611.8 373.2 611.2 373.3 610.4 373.5ZM554.5 388.1C553.4 388 552.3 388.1 551.6 387.7C551 387.3 550.8 386.7 550.5 385.8C550.2 385 549.8 383.7 549.8 382.7C549.9 381.8 550.2 380.8 550.7 380.1C551.2 379.5 551.8 378.9 552.7 378.7C553.6 378.5 555 378.8 556.1 378.9C557.1 379 558.4 378.9 559.1 379.2C559.8 379.5 560 380 560.2 380.9C560.3 381.7 560.2 383.4 560.2 384.3C560.1 385.3 560.1 386.2 559.8 386.8C559.4 387.4 558.8 387.8 558 388C557.1 388.3 555.5 388.1 554.5 388.1ZM569.1 383.9C569 383.5 568.5 382.2 568.8 381.4C569.1 380.6 570.1 379.6 571 379.1C571.8 378.5 572.8 378.1 573.7 378.1C574.7 378.1 575.8 378.6 576.6 379.1C577.5 379.5 578.4 380 578.8 380.7C579.3 381.5 579.1 382.9 579.2 383.4M585 383.5C585 383 584.8 381.6 585.1 380.8C585.4 380 586.1 379.3 587 378.8C587.8 378.3 589.1 377.7 590.1 377.6C591.1 377.5 592.3 377.8 593.1 378.2C594 378.6 594.8 379.4 595.3 380.2C595.7 380.9 596 382.3 596.1 382.8M602.8 385C602.9 384.6 602.8 383.4 603.2 382.6C603.5 381.8 604.1 380.8 604.9 380.2C605.7 379.6 606.9 379.3 607.9 379.2C609 379 610.1 379.1 611.1 379.3C612 379.6 613.3 380.2 613.7 380.9C614.2 381.6 613.9 383 613.9 383.4M521.8 469.6C520.9 469.8 519.2 469.7 518.3 469.6C517.3 469.4 516.8 469 516.3 468.6C515.8 468.2 515.5 468 515.3 467.2C515.1 466.4 515 464.8 515.1 464C515.2 463.2 515.5 462.7 516 462.3C516.5 461.9 517 461.7 518 461.5C519 461.3 520.9 461.1 521.8 461.3C522.8 461.4 523.4 461.9 523.8 462.3C524.2 462.7 524.4 463 524.5 463.8C524.6 464.6 524.5 466.2 524.4 467C524.3 467.7 524.4 468 524 468.5C523.5 468.9 522.8 469.4 521.8 469.6ZM535.5 470.2C535 470.2 533.6 470.6 532.7 470.3C531.9 470.1 531 469.3 530.5 468.6C529.9 467.9 529.6 466.9 529.5 466.1C529.4 465.2 529.6 464.1 530 463.4C530.4 462.7 531.3 462.1 532.1 461.8C533 461.5 534.5 461.6 535 461.6M516.2 482.5C516.1 481.7 516.2 480.2 516.4 479.4C516.6 478.6 517 478.1 517.5 477.6C517.9 477.1 518.3 476.7 519.1 476.5C519.9 476.3 521.5 476.3 522.4 476.5C523.2 476.6 523.7 476.9 524.1 477.4C524.5 477.9 524.6 478.6 524.8 479.4C525 480.3 525.2 481.8 525.1 482.6C525 483.3 524.4 483.6 523.9 484.1C523.5 484.5 523.1 485.1 522.3 485.3C521.4 485.4 519.8 485.2 518.9 485.1C518.1 484.9 517.7 484.6 517.3 484.2C516.8 483.7 516.4 483.3 516.2 482.5ZM535.6 483.1C535.1 483.1 533.6 483.4 532.7 483.1C531.9 482.9 531.2 482.2 530.7 481.5C530.3 480.9 529.9 479.9 530 479.2C530.1 478.5 530.6 477.8 531.2 477.2C531.8 476.7 532.8 476 533.7 475.8C534.6 475.5 536 475.8 536.5 475.8M521.3 497C520.8 496.9 519.5 496.9 518.7 496.6C517.9 496.2 517.1 495.5 516.7 494.8C516.3 494.1 516.1 493.1 516.2 492.2C516.3 491.4 516.9 490.3 517.4 489.7C518 489 518.8 488.5 519.5 488.3C520.3 488.1 521.7 488.2 522.1 488.2M534.6 496.5C534.2 496.3 532.9 496 532.3 495.6C531.7 495.1 531 494.5 530.7 493.7C530.5 493 530.5 491.9 530.7 491.1C530.9 490.3 531.3 489.4 531.9 488.8C532.5 488.3 533.4 488 534.2 487.9C535 487.8 536.2 488.2 536.6 488.3" fill="none" stroke="#2f6fd0" stroke-width="1.9" />
</g>
<g id="hatch">
<path d="M431 267.5L431.2 277.4M432 266.9L432.1 277.4M433.5 266.9L433.5 276M434.7 266.4L435 276M436.3 267.5L436.3 275.7M437.7 267.6L437.4 275.9M439.5 266.6L439.5 277.5M440.3 267.7L440.6 276.9M448.6 266.7L448.2 275.8M449.7 267.1L449.8 275.5M451.2 267.5L451 276.5M453 266.2L452.5 277.5M454.3 266.1L454.1 277.1M454.9 266.1L455.2 275.8M457 267.7L456.8 277.4M458 267.4L458.2 275.7M466.3 266.1L465.9 277.4M467.2 267.7L467.5 276.2M468.7 266.6L468.3 275.8M470.4 267.8L469.9 275.8M471.4 266.8L471.4 275.9M472.6 266.8L472.9 275.6M474.1 267.6L474.2 275.7M475.6 267.5L475.5 275.7M482.6 266.6L483 276.4M484.2 266.9L484.3 276.5M485.3 266.8L485.1 275.8M487.1 267.2L486.9 276.5M488 267.5L487.9 277.3M489.5 267.3L489.7 276.8M490.9 266.6L491.1 276.5M492.1 267.8L492.1 276.8M499.3 266.5L499.2 276.9M500.6 267.5L500.7 276.2M502 266.7L502.3 277.2M503.6 267.8L503.6 276.5M504.8 267.7L505 276.5M506.2 266.4L506.2 277.1M507.4 267.2L507.4 277.1M508.5 266.3L508.6 276.4M515.9 267.2L515.9 275.5M517.1 266.3L516.7 276.1M518.2 266.9L518.3 276.2M519.8 267.7L519.7 275.5M521.3 266.3L521.2 277.2M522.8 266.2L522.6 276.6M524.2 267.5L524.4 276.3M525.3 266.3L525.3 276.7M533.3 267.1L533.6 276.2M534.5 267.1L534.1 276.7M536.3 266.7L536 276.4M537.4 266.7L537.8 277.5M538.6 267.8L538.5 276.5M540.4 266.9L540.3 276.1M541.4 266.8L541.6 276.1M542.3 267L542.7 276M430.6 280.3L431 289.5M432.4 280.6L432.4 290.5M433.5 281.1L433.5 289.8M435.1 280.7L434.9 290.1M436.6 279.8L436.5 289.7M438 280.8L438.2 289.2M439.3 281L439.2 290.5M440.7 280.5L440.4 291M448.6 279.9L448.7 290.9M449.9 281.2L449.5 291.1M451.4 280.7L451.1 289.9M452.7 279.9L452.9 289.7M453.9 279.8L454.3 290.7M455.6 279.9L455.3 290.9M457.1 281.1L456.9 289.5M458.1 280.9L457.7 290M465.8 280L465.4 290M467.5 281.1L467.1 291M468.4 280.9L468.7 290.2M469.7 281L469.8 289.5M471.8 280.8L471.5 290.5M472.8 281.1L472.4 290.3M474 281.1L474.1 289.5M475.5 281L475.1 289.4M482.5 281.3L482.3 290.2M483.9 281.1L483.5 289.3M485.3 280.2L485.6 289.4M487 280L486.8 290.5M488.1 280.9L487.9 289.9M489.7 280.9L489.6 290.9M490.8 280.8L490.9 290.4M492.2 279.8L491.7 289.6M499.2 281.1L499.1 289.2M500.8 280.5L500.4 290.1M501.6 280.4L501.9 290M503.3 280.3L503 289.5M504.8 279.8L504.6 291.1M506 281L506.4 290.2M507.5 280.3L507.6 290.6M508.8 279.8L508.4 289.7M516.1 280.4L516 289.8M517.4 281.1L517.2 289.5M518.6 280.9L519 290.1M519.9 281.2L519.4 290M521.8 280.7L521.4 289.9M523.1 280.7L522.7 291.1M523.9 280.5L523.6 289.3M525.1 279.9L525.5 289.2M533.4 280.5L533 290.3M534.3 280.7L534.3 291.1M535.8 279.8L535.7 290.3M537.1 280.9L537.4 290.7M538.9 281.3L538.5 289.6M539.9 281.2L539.7 290.9M541.2 280.2L541.1 289.3M542.9 279.9L542.4 290.6M430.9 294.2L430.8 303.1M432.5 294.5L432.6 304.8M433.7 294.3L433.8 304.6M435.1 294.8L435.4 303.5M436.4 293.6L436.1 303.2M437.7 293.6L437.7 304.5M438.8 293.7L439.1 303.6M440.8 293.9L440.6 303.8M448.1 294.5L448.3 304.6M449.9 293.8L449.8 304.4M451.3 293.7L451.6 303.6M452.4 294.3L452.7 304.5M454.2 294.6L454.4 303.1M455.1 295.3L455.1 303M457.1 294.2L456.8 303.3M458.3 294.1L458 304.5M465.6 295.3L465.9 304.7M467.2 293.7L467.2 304.6M468.3 293.7L468.6 304.4M470.1 294.1L470.3 304.3M471.6 294.2L471.5 302.9M472.8 294.2L472.3 303.6M474.1 294.3L474 304.4M475.7 295.2L475.8 304.3M482.7 294.1L482.8 304.1M483.9 293.6L483.7 303.1M485.3 294.8L485.7 303.5M486.8 293.6L486.9 304.5M488.2 294.7L488.4 304.7M489.4 294.4L489.1 304.8M490.9 294.2L490.8 302.9M492.3 295.1L492.3 304.8M498.9 294.7L499 304.1M500.9 293.9L500.7 303.5M502.1 293.8L502.3 304.2M502.9 294.5L503.2 304.6M504.5 294.3L504.8 304M506.1 294.6L505.8 304.9M507.4 294.5L507 304.2M508.8 294.7L508.9 304.3M515.9 295L515.7 304.9M517.2 295.2L517.3 303.4M518.7 293.7L518.3 303.3M519.6 294.6L519.8 303.1M521.3 294.9L521.6 304.4M522.9 295.2L522.5 303.1M523.8 294.2L523.9 303.9M525.2 294.2L525.1 304M533.3 294.2L533.2 304.3M534.8 293.6L534.9 304.5M535.6 294.4L535.8 303.6M537.2 294L537.3 303.9M538.6 294L538.9 303.6M539.7 294.2L539.8 303.4M541.1 293.7L541.5 303.9M542.8 295.2L542.7 303.1M448.4 308.6L447.9 317.4M450.1 307.9L449.6 317.7M451.7 308L451.3 317.6M453.1 308.4L452.7 317.7M454 308L454.3 317.9M455.3 307.3L455.5 316.7M457 308.7L456.9 318.5M458.2 308.8L458.4 316.9M466.2 309L466.1 317.1M467.4 307.7L467 318M468.5 307.3L468.8 317.4M469.6 307.2L470 318.3M471 307.6L471.3 318.5M472.5 308L472.7 317.2M474.1 307.5L474.5 317.7M475.3 307.4L475.2 318M482.7 308.3L482.4 318.6M484 308.2L483.6 318.1M485.5 307.2L485.4 318.2M486.8 308.6L486.8 316.7M488.1 307.8L487.9 316.7M489.6 308.9L489.5 317.4M491.2 308.9L491 318.7M492.4 307.3L492.6 317.6M499.1 308.9L499.1 317.2M500.3 307.8L500.3 317.6M502 307.3L501.8 316.8M503.5 307.7L503.7 317.2M504.6 308.7L504.5 317.9M506 307.7L505.9 318.5M507.2 307.5L507.3 316.7M508.5 307.3L508.5 318.3M515.4 308.3L515.6 316.9M517.4 307.6L517 318.6M518.7 307.4L518.6 316.8M520.1 308.5L520.2 316.8M521.2 308.6L520.9 317.2M522.9 308.1L522.8 318.5M524 307.7L523.7 318.6M525.3 307.4L525.4 317.5M532.9 307.5L533.1 317.6M534.7 308.9L534.5 316.9M535.9 308.8L536 317.8M537.7 308.7L537.3 317.2M538.6 308.8L538.6 317.2M540.4 307.4L540.2 318.2M541.7 308.7L541.3 317.8M542.9 308.4L542.6 318.1M448.3 321.1L448.5 330.5M450.3 321L449.9 331M451.6 322.5L451.2 331.4M452.6 321L452.3 331.5M454 322.6L454 332.3M455.7 321.1L455.3 331.5M456.8 321.7L456.8 330.9M457.9 321.3L458.2 331.4M465.9 322.6L466.1 331M467.1 321L467 332.3M469 322L468.8 331.4M469.8 321.8L469.9 331.9M471.4 322.2L471 331.9M472.6 321.2L472.5 330.5M474.6 321.2L474.1 331.8M475.3 321.6L475.4 330.4M482.7 321.5L482.8 331.6M484.3 322.6L484.1 330.9M484.9 321.7L485.3 331.2M487.1 322.3L486.6 331.9M488 322.5L487.9 331.7M489.6 321.5L489.5 331.9M490.9 322.4L490.9 330.7M492.6 322.3L492.2 332.1M499 321.1L499.4 330.8M500.5 322.4L500.3 331.7M501.7 321.4L501.8 330.4M503.6 321.8L503.3 331.2M504.7 322L504.6 331.9M506 321.4L505.6 332.1M507.2 322.3L507.1 330.6M509.2 321.8L508.8 331.4M515.9 322.1L516 332.1M517.2 322L517.5 330.4M518.6 321L518.2 331M519.7 321.3L519.6 330.3M521.2 321.6L521.6 330.7M522.8 321.3L522.7 331.2M523.7 321.8L523.8 331.9M525.4 322.3L525.7 332.2M533 322.1L533.3 331.7M534.7 321.3L534.4 331M536 321.3L536.2 331.5M537.3 322L536.9 331.1M538.6 321.2L538.2 331.2M540.2 322.7L540 332.1M541.4 321.2L541 330.3M543 321.8L542.9 332M448.6 335.6L448.5 344.4M449.9 335.1L450.2 344.7M451.2 335L451.3 345.4M452.6 335.4L452.9 344.7M453.9 335.9L453.9 344.3M455.7 336.3L455.2 345.4M456.8 335.4L456.6 344.4M458 335.9L457.7 344.6M466 336.3L465.6 344.7M467.7 334.8L467.4 344.8M468.7 334.8L468.5 345.9M470.1 336.2L469.8 344.2M471.3 336.1L471.2 345.1M472.9 335.7L473 345M474.1 335.4L474 344.3M475.4 335.3L475.4 345.3M482.8 336L482.4 344.1M484.2 334.8L484.2 344.2M485.6 334.7L485.3 345M486.7 335.6L487 345.8M488.4 335L488.2 345M489.1 336.2L489.3 344.8M490.9 335.4L491.3 345.8M492.5 336L492.2 345M499.3 336.3L499 344.9M500.6 335.8L500.4 345M502.2 335.8L502.1 344.6M503.4 336.3L503.2 345.7M505 334.9L504.5 346M506.1 335.6L505.8 344.1M507.8 335L507.4 345M508.8 336.4L508.5 344.7M515.4 336.4L515.7 345.6M517.5 335.1L517.2 344.4M518.6 335.9L518.1 345.1M520 336.2L520.2 345.6M521.4 335.3L521.2 345.3M522.7 335.5L522.3 344.3M523.8 336.4L524.1 345.1M525.6 335.2L525.4 344.9M533.6 336.1L533.2 344.7M534.7 335.1L534.5 344.1M535.9 335.8L535.6 345.3M537.1 336.3L537.2 344.3M538.8 335.5L538.9 345.9M539.8 335L539.8 345M541.6 335.3L541.6 345M542.6 335.7L542.7 345.3M465.7 349.2L465.8 359M467.4 349.4L467 358.2M468.6 349.3L468.1 358.4M470 349.1L469.6 359.7M471.7 349.5L471.4 357.8M473 349.2L473 358.3M474 349.6L473.9 359.3M475.9 350.1L475.4 359.1M482.8 349L482.6 359.2M484 349.6L484.1 359.7M485.4 348.8L485.5 359.1M486.9 348.8L486.9 358.8M488.3 349.2L488.2 359.7M489.6 349L489.9 359.3M490.9 349.5L491.1 358.9M491.9 349.2L492.1 359.1M499.4 349.9L499.3 357.9M500.7 349.7L500.9 358.5M502 349.5L502.1 359.6M503.3 349.3L503.3 359.2M505.2 348.9L504.7 358.8M506.2 348.9L506.4 358.4M507.6 349.4L507.5 359.7M508.9 349L508.5 357.8M515.8 349.8L515.6 359.7M517.2 349.5L516.8 358.8M518.6 348.6L518.2 359.4M520.2 349.3L520 359.6M521.3 350L520.8 358.7M522.8 349.7L523.1 359.3M523.8 349.2L524.1 359.7M525.9 349.4L525.5 358.4M533 349.2L533.4 358.4M534.5 349.8L534.4 358.3M535.8 350.2L535.8 359.1M537.6 349.3L537.2 358.5M538.4 349.1L538.5 357.8M540.1 348.9L539.7 358.8M541.3 348.5L541.6 357.9M542.5 349.7L542.8 357.9M465.9 362.2L466.1 372.4M467.1 362.5L467.1 371.6M468.6 363.7L468.6 373.4M469.8 363.8L469.8 373.3M471.1 363.9L471.4 372.2M473.1 363.4L472.9 371.6M474.5 363.3L474.3 371.6M475.4 362.5L475.2 372.6M482.4 363.8L482.6 372.7M483.8 363.7L483.5 371.7M485.4 363.2L485.6 372.5M486.8 362.5L486.3 371.7M488.5 362.7L488.2 372.4M489.3 362.4L489.6 373.3M490.9 362.5L490.7 372.8M492.1 363.2L492.1 372.5M499.1 363.8L499.3 372.4M500.6 363.2L500.7 373.1M501.8 362.4L501.9 371.5M503.1 362.1L503.2 371.5M504.6 363.3L504.7 373.4M506.3 362.4L506.4 372.7M507.9 363.2L507.5 373M508.8 363.2L508.6 373M515.7 363.9L515.6 372.9M517.5 362.6L517.1 371.6M518.5 363.9L518.7 372.8M520 362.8L519.8 372.5M521.3 362.3L521.3 373.5M522.9 363.1L522.5 372.7M524.1 362.7L524.3 371.8M525.5 362.8L525.7 371.8M533.5 363.3L533 372.1M534.9 363.1L534.6 373.6M536 363.1L535.8 372.1M537.4 363.7L537.4 372.8M538.7 362.8L538.8 372M539.7 362.4L539.8 372.2M541.5 363.6L541.3 372.2M543.2 362.9L542.7 373.4M482.7 377.4L482.9 385.6M484.2 376.4L484.3 386.6M485.2 376.5L485.3 385.5M486.7 376.1L487.1 385.6M488.3 376.4L488.2 385.7M489.2 377.4L489.3 387.1M491.1 377.4L490.8 386.5M492.6 376.9L492.3 385.5M499.1 375.8L498.8 386M500.4 376.8L500.2 386.6M501.9 377.2L502 386.4M503.4 376L503.6 385.4M504.3 377.4L504.5 386.5M505.9 376L506.1 386.8M507.3 376.5L507.3 387.2M509.3 377.6L508.9 385.6M515.8 376.7L515.6 386.6M517 376.2L516.9 386.4M518.4 377.5L518.2 385.8M519.7 377.6L519.9 386M521.6 376.1L521.2 386.1M522.6 376.1L522.5 386.6M523.9 376.1L523.8 385.5M525.6 376.3L525.3 386.8M533.3 377.5L533.6 385.7M534.9 376.6L534.7 386.3M535.9 377.4L535.8 386.7M537.2 376.6L537.2 386M538.6 377.4L538.7 387.2M540.2 377.6L540.1 386.9M541.8 376.8L541.6 386.5M542.6 377.5L543 387.3M448.1 389.7L448.3 399.6M449.9 389.7L449.5 399.5M451.4 389.9L451.4 399.3M452.7 390.7L452.9 400.8M453.9 390.3L453.8 399.7M455.5 391L455.1 400.3M456.9 391L456.6 399.4M458.1 390.3L458.1 400.9M465.9 390.4L465.7 399.3M467.3 391.1L467.4 400.8M468.7 390.5L468.7 399.3M469.8 390.3L469.9 400.7M471.3 390.7L471.1 400.1M472.8 390.7L472.6 400.8M474.3 390.7L474 399.4M475.3 390.8L475.3 399.5M482.7 389.8L482.2 400.9M484 390.2L484.2 399.3M485 390.8L485.4 399.8M487 390.7L486.9 399.2M487.7 389.7L488 401M489.1 390.8L489.3 401M490.8 390.7L490.8 400.9M491.8 391.2L492.2 400.4M499 390.8L498.9 399.8M500.8 390.9L500.7 400.5M501.9 390.4L501.8 399.6M503.4 389.8L503.6 400.3M504.9 391.2L505 399.1M506 390.5L506.1 400.7M507.5 391L507.1 399.8M508.9 389.9L508.8 400.8M516.1 390.1L516.1 400.1M517.3 391.3L517.1 400.4M518.7 390.2L518.5 400.3M520 391L519.7 399.6M521.1 391.1L521 401M523 391.1L522.8 399.4M524 389.9L523.6 399.8M525.3 390.1L525.7 400.9M532.9 390.9L533.2 399.6M534.6 390.9L534.8 400.4M536 390.2L535.5 400.9M537.4 390.3L537 400.8M538.4 390.1L538.4 400.5M540.3 390.2L539.8 399.8M541.5 389.7L541.7 399.4M542.8 390.9L543.1 399.2M448.4 404.6L448.2 414.4M449.8 403.8L450.2 413.6M451.6 404.8L451.4 414.7M452.6 403.6L452.6 414.6M454.2 404.1L453.8 414.7M455.4 404.3L455.8 414.3M457 404.6L456.7 413.8M458.3 404.2L458.4 412.7M465.9 404.1L466 413.6M467.2 404.9L467.4 414.5M468.9 403.6L468.6 413.7M470.2 403.7L470.4 414.4M471 403.6L471.2 414M472.7 403.5L472.9 414M474.3 404.3L474 412.7M475.2 403.4L475.3 414.7M482.8 404.8L482.6 414M484.1 405L484.4 413M485.2 404.5L485.3 413.2M486.6 403.4L486.9 414.5M488 404.6L488 412.9M489.5 403.8L489.4 412.8M490.9 403.8L490.4 412.9M492.1 404.9L491.7 413.5M499.4 403.4L498.9 413.8M500.8 404.8L500.6 413M501.7 403.5L502 413.2M503.6 404.9L503.3 414M504.4 404.1L504.8 413.9M506.2 404.7L505.9 413.7M507.3 403.6L507.3 413.5M508.8 405L508.6 413.7M515.9 404.2L515.9 413.5M517.4 404L517.2 414.1M518.6 404.1L518.1 413.7M519.8 404.6L520 414.4M521.8 403.6L521.4 413M522.3 403.8L522.6 412.9M524.1 404.3L523.6 414.1M525.3 404.2L525.5 413.7M533.4 403.8L533.4 412.7M534.5 404.1L534.8 414.2M536 403.8L536.1 414.2M537.7 404.1L537.4 413.8M538.7 404.6L538.7 414.4M539.9 403.7L540.2 414.3M541.2 404.1L541.1 412.8M542.5 404.6L542.8 413.9M448.5 418.1L448.4 428M449.8 418L449.8 428.4M451.3 417.7L451.6 427.4M452.7 417.3L452.4 427.9M453.7 418.2L454 427.7M455.3 418.6L455.4 426.7M456.9 417.2L456.4 426.6M458.3 418.4L457.8 428.1M465.9 417.4L465.6 426.4M467.4 417.9L467 428.4M469 417.5L468.8 427.5M470.4 418L470.2 426.6M471.6 417.5L471.2 427.2M473.1 417.7L472.8 427.3M474.2 417.7L474 428M475.7 418.3L475.5 426.5M482.7 417.7L482.5 426.6M484.3 418.2L484.1 428.4M485.5 417.6L485 426.5M486.8 417.2L487.1 426.5M488.2 417.4L487.7 426.8M489.8 417.1L489.4 427.4M491.3 418.5L490.9 427.5M491.8 418.4L492.1 427M499.4 417.9L499.3 426.9M500.3 418L500.4 427.5M502.1 417.3L501.9 427.5M503.2 417.5L503 426.5M504.6 417.2L504.4 428.2M505.8 418.5L506.2 427.9M507.3 417.9L507.4 426.5M508.9 418.5L509.2 427.7M515.8 417.3L515.8 428.3M517.3 418.1L517.6 426.8M518.7 418.5L518.5 427M519.9 418.2L519.6 427.4M521 418L521.2 428.3M522.8 418.4L522.6 427.1M524.1 418.1L523.7 427.6M525.4 418.6L525.7 427.2M533.5 418.2L533.4 428.1M534.7 417.4L534.8 426.8M535.9 418L535.7 427.4M537.4 418.4L537 427.2M538.6 417.2L538.4 426.4M539.8 418.7L539.9 426.9M541 417L541.3 426.6M542.8 417.1L542.6 427.7M448.4 432L448.5 440.8M449.7 430.8L450.1 442M451.2 431.4L451.2 441.7M452.7 431.4L452.4 441.6M453.9 431.1L453.7 441.9M455 432.4L455.2 441.1M457 432.2L456.6 440.7M458.4 432.1L458.2 440.2M498.9 430.8L499.2 441.9M500.8 432L500.5 441.8M502.3 432.1L502.1 441.2M503.5 432.1L503.8 441.2M504.9 430.9L504.5 441.4M506 431.6L506.2 441.4M507.4 432.4L507.2 440.8M509 431.6L509.2 441.8M516.1 432.4L515.7 440.1M517.3 431.4L517.2 441.8M518.5 432.1L518.4 441.4M520.1 430.8L520.3 440.7M521.3 431.4L521.5 441.7M523 431.7L522.7 441.2M524 430.9L523.6 441.4M525.3 431.5L525.2 440.6M533.2 431.7L532.8 442.1M534.2 430.9L534.6 440.1M535.8 432.2L535.5 441.3M537 431.8L537.1 441.5M538.5 431.8L538.5 440.7M539.9 432L539.7 442.1M541.5 432.3L541.1 440.6M542.6 431.7L542.9 440.5M499 445.8L499.3 453.9M500.3 445.2L500.5 453.9M501.9 446.2L502.1 454.8M503.8 445.2L503.3 454.9M504.6 445.5L504.3 455.1M506 444.4L505.9 454.6M507.7 446.1L507.4 455.6M509 445.8L508.8 454.1M515.6 446.1L515.7 454.7M517.5 446.2L517.3 455.8M518.8 444.6L518.9 454M519.7 445.9L519.6 455.2M521.1 445.3L521.4 454.2M522.3 445.5L522.6 455.1M524.5 444.5L524.1 454.7M525.1 445.9L525.2 455.1M533.4 445.7L533.4 455.1M534.3 444.8L534.2 455.3M536 445.1L536.3 455.3M537.1 445.5L537.2 454.8M538.4 444.9L538.6 455.5M540.3 445.2L540 454.9M541.9 446L541.5 454.1M542.8 445.6L542.8 455.1M448.7 635.6L448.3 644M449.9 635.5L450.3 644.7M451.3 635.1L451.4 644.7M452.8 635.5L452.4 645.1M454 635.3L453.8 644.8M455.3 635.2L455.5 644.6M457.2 634.6L456.8 643.5M458.2 634.1L458 645.5M465 635L465.3 644M467 635.5L466.6 645.3M468.1 635.1L468 644.6M469.6 635.8L469.6 643.7M470.7 635.7L470.3 645M472.3 635.6L472 645.5M473.7 634.7L473.3 644M474.9 634.3L474.7 643.9M482.1 634.5L481.9 645.5M483.4 635.8L483.8 645.2M485.1 635.6L485.1 644.1M486.7 634.5L486.4 645.5M488 635.1L487.6 643.9M488.9 635L488.9 645.2M490.2 635.7L490.3 644.7M492 634.7L491.8 643.8M499.2 635L499.6 644.8M500.8 634.5L500.9 645.3M502.2 634.4L501.8 643.5M503.1 635.1L503.4 644.4M504.4 635.2L504.8 643.9M506.1 635L506.5 643.8M507.4 634.5L507.7 643.7M509.2 635.3L508.9 644.8M515.7 635.2L515.5 643.5M517.3 634.8L516.8 644.3M518.3 634.3L518.4 644.2M519.7 634.3L519.8 644.8M521.7 634.7L521.2 644.5M522.6 634.4L522.2 643.8M524.1 634.9L523.9 644.6M525.7 634.8L525.2 643.5M532.3 634.1L532.3 644.4M533.4 635.7L533.5 645.5M535.4 635.3L535 643.9M536.2 634.8L535.9 644.7M537.4 634.9L537.7 645.3M538.9 635.5L538.9 644M540.2 635L540.4 644M542 634.4L541.9 643.5M448.9 648.4L448.7 658.4M450.2 648.3L449.7 659.4M451.4 648.5L451.3 658.5M453.2 649.2L452.8 657.7M454.3 649.1L454.1 658.9M456 648.8L455.6 657.6M456.9 649.1L456.4 658.9M458 648.7L458.3 659.1M465 648.9L464.8 657.8M466.3 648.7L466.6 658.8M468.2 649.1L467.8 657.6M469.2 649.2L469.3 659.4M471 649.6L470.9 658.3M471.9 649.1L471.8 658.8M473.5 649.1L473.8 658.8M475 649.7L474.6 659.3M481.9 649.5L482.1 658.7M483.6 648.3L483.2 657.6M484.9 648.9L485.3 659.2M486.1 649.6L486.1 657.6M487.7 648.4L487.3 658.7M489.4 648.9L489 659M490.5 648.6L490.4 659.1M492.1 648L491.8 658.5M499.2 649.2L499 658.7M500.7 648.1L500.8 658.6M501.5 648.1L501.8 658.7M503.4 649.2L503.8 658.2M504.4 648.7L504.5 657.4M505.8 649L505.9 658.3M507.6 649.2L507.6 657.6M508.8 648.6L508.5 658.4M515.4 648.7L515.8 659M517.3 649.7L517.3 658.4M518.5 649.5L518.6 658.1M520.2 648.7L519.9 658.3M521.6 648.7L521.3 658.4M522.7 649.5L522.6 657.4M523.9 649.1L523.5 658.1M525.5 648.3L525.7 658.3M532.1 649L531.7 658.7M533.6 649L533.9 657.9M535.2 648.9L535.2 659.3M536.4 648.7L536.8 658M537.6 649.5L537.3 658.9M538.7 649.5L538.9 657.5M540.9 648.2L540.5 659.1M541.8 648.2L542.2 658.9M448.4 663.5L448.8 672.6M449.9 661.9L450.1 673.1M451.7 662.3L451.4 672.2M452.7 663.1L452.9 672.7M454.3 662.3L454.4 672.9M455.1 663.5L455.4 671.6M457.1 662.8L456.7 671.4M458.6 662.3L458.2 671.7M465.2 661.9L464.9 673M466.6 662.5L466.6 672.4M468 662.8L467.6 673.3M469.3 662.7L469.3 672M470.7 662.7L470.2 673.3M472.1 662.8L471.8 672.8M473.4 663.6L473.7 672.2M474.9 663L475 672.9M482.3 662.3L482.3 673.1M483.5 662.5L483.8 671.8M485.1 662.9L484.6 672.3M486.7 662.1L486.3 672.3M488.2 662.6L487.8 672.2M489.1 663.5L489 673.2M490.4 663.4L490.2 671.5M492.1 663.4L491.9 672.2M498.8 663.2L499.1 671.9M500.9 663.4L500.6 671.9M501.6 662.9L501.7 671.9M503.4 662.3L503.5 672.5M504.4 663.1L504.7 672.7M506 662.5L506 673.1M507.5 662.6L507 672M508.9 662.6L509.2 672.2M516.1 663.2L515.9 671.6M517.4 663.3L517.1 673M518.8 662.5L518.7 672.5M519.5 663.3L519.6 673.2M521.2 662.2L521.4 672.9M522.6 663.1L522.9 672.9M524.3 663.1L524 671.4M525.3 663.4L524.9 672.8M532.3 662.2L532.4 672M533.5 663.4L533.7 671.9M535.2 662.6L535.1 671.8M536.6 662L536.2 671.9M537.7 662.8L537.5 672.9M539.2 663.6L539 672M540.6 662.9L540.6 673.2M541.8 663.5L541.4 671.4M448.7 677.5L448.2 687.2M450.1 677.5L450.4 686.3M451.7 675.9L451.4 686.5M452.8 675.8L452.5 686.1M454 676.5L453.8 685.6M455.8 676.6L455.6 686M457 676.2L457.1 685.4M458.6 676.7L458.4 685.3M465.2 676.9L465.6 687.2M466.9 676.6L466.7 687M468.2 677.2L468.3 687.2M468.9 677.1L469.2 685.3M470.9 677.1L470.9 685.7M472.2 676.8L472.4 686M473.5 676.4L473.5 686.5M474.9 676L474.5 686.2M482.1 676L482.3 686.6M483.5 676.6L483.9 687M485.1 676.1L485.2 686.7M486.5 676.2L486.1 685.9M487.9 676.9L487.7 686.8M489.4 676.9L489.1 685.5M490.5 677L490.2 685.9M492.1 677.4L491.7 686.1M499.4 675.8L499.5 685.3M500.5 676.4L500.1 686.4M501.8 676.7L501.8 687M503.4 675.8L503.6 685.4M504.7 677.3L504.6 685.7M506 675.9L506.3 685.7M507.2 677.4L507.5 686.3M508.8 676.4L508.9 685.2M515.5 676.3L515.6 686M517.4 677.4L517 685.8M518.4 675.9L518.8 686.7M520 676.1L519.6 686.9M521.2 677.4L521.2 687.2M522.6 676.5L522.5 686.5M524.2 677.2L524.1 685.7M525.4 675.8L525.2 686.5M532.3 676L532.1 686.7M533.9 676.5L533.5 686.3M534.8 676.6L534.5 686.2M536.1 677.5L535.9 687M537.8 676.7L537.9 685.8M539.4 676.6L539.1 687M540.7 675.8L540.8 685.5M541.4 675.8L541.8 687.1M450.3 690.5L450.1 699.8M452.7 689.7L452.6 699.2M465.2 690.6L465.2 700.5M466.6 690.5L466.6 700.1M467.8 690.2L468.2 699.4M469.3 691.1L469.1 700.7M470.3 689.7L470.7 699.6M472.1 691.4L472.1 699.2M473.3 689.7L473.3 701M474.4 691.1L474.7 700.3M482.1 690.8L481.7 699.8M483.5 690.7L483.1 700.7M485.3 690.1L485 700.3M486.3 689.8L486.4 699.8M487.7 690.4L487.2 699.1M489 691.1L488.9 700.9M490.6 691.4L490.7 699.5M491.9 689.7L492.1 700.8M500.3 689.7L500.3 700.2M502.1 690.4L502.2 699.3M503.3 690L502.9 700.7M504.5 690.8L504.4 700.5M506 691.3L505.6 700.3M516 690L515.9 700M517.2 691L516.9 700.6M518.6 690.2L518.2 699.5M520.2 689.9L520 701.1M521.4 690.5L520.9 699.9M522.5 691.3L522.3 700.4M523.9 690.8L524.1 700.6M525.4 691L525.6 700.6M532.6 691L532.4 701M534 691.4L533.6 700.5M535 689.7L535 699.8M536.3 691.3L536.6 699.5M537.8 690.8L537.3 699.6M538.8 690.8L538.8 699.3M540.2 690L540.6 700.9M542.1 690.1L541.8 699.1M449 703.8L448.7 713.2M449.9 704.9L450.1 713.7M451.8 704.6L451.6 715M452.5 703.9L452.8 713.7M454.2 704.2L454.2 713.6M455.9 704.8L455.9 713.7M457.3 703.9L457.1 714.6M458.2 704L457.9 713.6M465 704.1L465 714.1M466.2 704L466.6 714.6M467.8 705.1L467.6 715M469.6 705.2L469.1 713M470.9 703.7L470.4 714.6M472.2 704.9L472.2 714M473.4 704.2L473.1 714.3M475.2 704.7L474.9 713.3M482.2 704.3L482.1 713M483.1 705.3L483.5 714.6M485 704.8L485.1 713.5M486.5 704.5L486.2 713.5M487.9 704.3L487.5 713.4M489.2 705.1L488.8 714.8M490.2 703.6L490.3 713.4M491.5 704.5L491.7 714.3M499.3 703.7L499.4 713.2M500.6 704.9L500.8 714.6M502.1 704.8L502.3 714M503.4 704.6L503.1 715M504.5 704.7L504.4 714M506 704.6L505.9 713.3M507.6 704.4L507.3 713.8M508.7 704.5L508.6 715M515.6 704.4L515.9 714.6M517 704.4L517.1 713.9M518.4 704L518.2 713.9M520.3 704.7L519.9 713.6M521.2 704.6L521.3 713M522.7 704.8L522.5 713.7M524.1 704.9L524.1 714.1M525.7 703.6L525.5 714.1M532.6 704.6L532.3 714.5M533.6 705.1L533.4 713M534.7 703.6L534.8 713.6M536 704.6L536.2 714.8M537.7 704L537.7 713.5M539.3 704L539 714.3M540.5 705.2L540.8 713.8M542 704.1L541.5 713.8M448.6 718.8L448.9 727.8M450.1 719L450.3 727.6M451.5 718.7L451.1 728.3M453.1 717.5L453 728.8M454.2 718.3L454 728.2M455.8 718.1L455.5 726.9M457.1 717.7L457.1 727.9M458.4 719.2L458.6 728.2M465 718.7L465.1 728.7M467 719.1L466.7 728.3M467.5 718.9L467.9 728M469.1 718L469.3 728.6M470.9 717.9L470.5 727.7M472.3 718.4L471.9 728.7M473.2 717.9L473.2 728.2M474.8 718.1L474.5 727.6M482.3 718.2L481.9 728.5M483.7 718.2L483.4 727.8M485.2 718L484.9 727.4M486.5 718.5L486.4 726.9M487.4 718.8L487.6 727.7M489 719L488.8 727M490 718.6L490.4 727.5M491.5 717.8L491.6 728.3M499.2 719.2L499 728.8M500.7 718.6L501 727.7M502.2 719.1L501.8 727M503.3 719.2L503.1 728.4M504.5 718.3L504.8 727.6M505.9 718.5L505.7 728.8M507.2 718.4L507.2 727.6M508.8 718.5L508.8 728.1M515.3 717.9L515.7 728.3M516.6 718.3L516.9 728.8M518.7 717.6L518.3 728.5M519.9 718L519.5 727.6M520.9 717.5L521.1 727.8M522.7 717.7L522.5 727.8M524.2 717.8L524.1 728M525.2 719.1L524.9 728.7M532.4 719L531.9 727.5M533.6 717.5L533.4 727.3M535.4 717.9L535 727.1M536.3 717.7L536.3 727.5M537.6 718.8L537.8 727.8M539.3 717.6L539 727.5M540.8 718.7L540.5 728.3M541.4 718.3L541.8 727.5M448.6 731.9L448.9 741.1M450 732.2L450.1 741M451.8 732.8L451.5 742.4M452.5 731.8L452.6 741.9M454.5 732.6L454 741.6M455.6 732.6L455.6 741.6M457.2 732.2L456.8 741.6M458.6 732.3L458.6 741.7M465.2 731.8L465.1 741.9M466.7 732L466.7 742.8M467.7 731.4L467.8 741.5M469.2 732.2L468.9 741M470.9 732L470.7 742.2M472.2 732.5L472.3 742.1M473.1 731.6L473.2 741.9M474.8 733L475.1 742M482.3 731.4L482.4 741.9M483.7 732.1L483.9 740.9M485.1 732.9L485.3 740.8M486.3 732.5L486.1 742M487.3 731.7L487.5 742.3M489.5 731.7L489.1 741.3M490.3 732.4L490.3 741.8M491.7 732.8L491.5 741.7M499 732.7L498.8 741.5M500.2 732.7L500.4 742.2M502 732.1L502.3 741.9M503.1 732L503.5 740.9M505 731.4L504.7 742.7M506.2 731.4L505.7 742.3M507.4 732.8L507 740.8M508.9 732.6L508.9 741M515.8 732.9L516 742.2M517.2 732.4L516.9 742.5M518.5 731.8L518.7 741M519.6 731.4L519.6 741.8M521.3 732.2L521.2 741M522.8 732.2L522.9 742.1M524.2 731.5L523.9 741.2M525.4 733L525 740.9M532 731.4L531.9 741.3M533.7 732.7L533.5 742.7M534.7 731.7L535 741.9M535.9 731.5L536.3 741.6M537.5 733.1L537.4 741.2M539.2 732.9L539.5 741.5M540.6 731.9L540.7 742.1M541.9 732.4L542.1 740.9M449.1 747L448.7 756.5M450.3 746.7L450 756.5M451.1 747L451.2 755.7M452.7 745.8L452.5 756M454.2 746.3L454.1 755.8M455.7 745.8L455.8 755.8M456.6 746L456.9 755.9M458.4 746.1L458.2 754.7M465.1 745.4L465.4 756.5M466.8 745.8L466.6 755.2M467.5 745.6L467.8 756.1M469.2 745.7L469.1 756.4M470.7 746.6L470.8 755.9M472 746.4L472.2 755.5M473.7 746.4L473.3 756.5M474.7 746.3L474.7 756.3M482.3 745.9L482.4 756.1M483.6 745.3L483.8 755.9M484.6 746.2L484.8 756M486.3 745.6L485.8 756M487.6 746.4L487.2 756M489 745.8L489 755.7M490.3 745.4L490 756.4M492 745.6L491.6 755.8M499.2 745.9L499.3 754.8M501 745.6L500.7 755M502.2 746.7L502.1 755.1M503.4 746.9L503.3 756.3M504.9 747L505.1 756.4M506.3 746.6L506.3 755.9M507 746.4L507.3 754.9M508.8 746.6L508.5 755M516.2 747L515.7 754.8M517.3 746.4L517.2 756.4M518.6 745.9L518.6 756.4M519.3 746.1L519.7 755.4M521.1 746.6L521.2 755.3M522.3 745.4L522.4 755.9M523.7 745.4L524 755M525.6 745.6L525.2 755.2M532.1 746L532 755M533.5 745.3L533.5 755.5M534.5 746.5L534.8 755.6M536.6 746.6L536.2 756.2M537.8 746.7L537.9 755.9M539.1 745.7L539.4 756.7M540.5 745.4L540.1 755.8M541.9 746.3L541.5 755.3M449.1 759.8L448.7 769.9M450.2 760.3L450 770.5M451.9 759.8L451.5 769.8M453.1 760.6L452.9 769.8M454.2 760.3L454 768.6M455.6 760.8L455.6 768.8M456.8 760.9L457.2 769.9M458.1 760.6L458.2 770M465.2 760.5L464.7 770.3M466.8 759.9L466.4 769.2M468.1 760.6L468.2 768.6M469.7 760.6L469.4 769.4M470.7 759.5L470.6 770.2M472 759.4L471.6 769M473.4 760.1L473.3 769.6M474.8 759.9L474.3 769.9M482.5 760.9L482.3 770.6M483.3 759.3L483.3 769.9M485.1 760.7L485 769.9M485.9 759.6L486.2 770.6M488 759.2L487.8 768.9M489.2 760.6L489.3 770.2M490.5 760.6L490.9 770M492 760.1L491.6 770.1M499.2 760.3L499.2 770.2M500.3 760.7L500.5 769.8M502.3 760.7L502 769.4M503.1 760.1L503.5 770M504.6 759.6L504.4 769.3M506 759.5L505.8 769.7M507 760.4L507.2 769.3M508.9 759.5L509.2 768.9M515.7 759.9L516 770.5M517.1 760.8L517.4 768.9M518.7 759.6L518.4 769.4M520 760.7L519.7 769.3M521 759.3L521.1 768.7M522.6 760.2L522.8 770M524 759.4L524.1 770.6M525.6 760.8L525.5 769.4M532.6 760.4L532.3 769.9M534 760.7L533.6 769.5M534.5 759.9L534.8 769.4M536.2 760.1L535.9 769.9M537.3 760.5L537.6 769.8M538.9 759.2L539 769.9M540.3 759.9L540.3 770.2M541.4 760.4L541.8 769.2M448.7 773.4L448.6 782.5M449.9 773.8L449.8 783.2M451.3 774.3L451.5 782.9M452.7 774.2L453.1 784.3M454.5 774L454.2 783.8M455.6 773.8L455.4 784.4M456.7 773.6L456.6 783M458.2 773.7L458.1 783.4M465.3 773.9L465.3 783.3M466.3 774.8L466.6 784.1M467.8 774.2L467.7 784.3M469.2 773.1L469.5 784.5M470.8 773.4L470.9 783.8M472.3 773.3L472.3 782.8M473.2 774.3L473.1 782.9M475.1 773.8L474.8 784.1M481.9 773.3L482.3 783.1M483.4 773.2L483.5 783.9M484.7 774.5L485 783.7M485.9 774L486.3 784M487.7 774.6L487.3 783.9M489.5 773.8L489.1 783.6M490.2 774L490.5 783.1M491.9 774.5L491.9 784.2M499.3 773.7L499.3 783.5M500.5 773.8L500.8 784.2M502 773.3L502.2 783.2M503.6 773.4L503.6 784.2M504.9 773.7L505 784.5M506.2 774.5L505.9 782.6M507.7 774.7L507.4 783.9M509 774.5L509.2 783.1M515.8 774.3L515.6 783.6M517.3 773.9L517 783.1M518.7 773.3L518.7 782.8M519.9 774.8L519.8 783.2M521.2 773.5L521.5 783M522.6 774.6L522.3 783M524.2 773.7L524.2 783.9M525.6 773.3L525.2 783.9M531.8 773.4L532.1 783.5M533.6 773.3L533.4 783.9M534.8 773.5L534.4 782.8M536.5 774L536.5 784.4M537.9 774.3L537.6 782.9M539 774L539.3 783.4M540.3 774.2L540.1 784.1M541.7 773.5L541.7 783.8M448.7 787.2L448.2 797.1M450.3 788L450 796.9M451.4 787.5L451.4 797.3M452.7 787.4L453 796.5M454.3 787.3L454.3 798.2M455.2 787.9L455.4 798M456.7 787.4L457.1 798.2M458.2 788.6L458.5 796.4M465.1 787.7L464.9 797.7M466.7 788L466.9 797.3M468.4 787.7L468 796.7M469.2 787L469.2 797.5M470.5 787.6L470.6 798.3M471.9 787.3L472 797.8M473.2 787.9L473.1 796.9M474.4 788.5L474.7 797.7M482.1 788.7L481.7 796.9M483.3 787.7L483.3 797.8M485.2 787.8L485.3 798.3M486.4 787.3L486.7 796.8M487.7 788.1L487.7 798.3M489.3 788.1L489 797.7M490.4 788.6L490.2 797.9M492.2 788.2L491.8 798.1M499.1 787.9L498.9 797.9M500.4 787.7L500.7 798.1M502 787.3L501.6 796.4M503 787.7L503.3 798.1M504.9 788.7L504.6 798.3M506.5 788.7L506.2 797.1M507.1 788.7L507.3 796.8M508.7 788.5L508.9 796.9M515.7 788.1L516 797.7M517.1 788.4L517.2 798.3M518.6 788.6L518.2 797.8M520 787.2L520 796.7M520.7 788.5L521.1 798.3M522.9 787.1L522.7 798M524.1 788.3L524.3 797.1M525.6 787.1L525.1 798.4M532.2 788.2L531.8 797.9M533.7 788.6L533.4 796.8M535 788.7L534.5 798.3M536.3 787.2L536.1 798.1M537.3 788.4L537.7 796.7M539.2 788.4L539.3 797.9M540.5 787.1L540.8 797.1M541.9 788.7L541.5 797.7M448.6 802.5L448.6 810.4M450 801.1L450.3 810.6M451.4 800.9L451.4 810.4M452.9 801.3L453.2 812.1M454 801.7L454.3 811.6M455.7 801.6L455.8 811M456.5 800.9L456.9 810.4M458.6 801.6L458.3 812.2M465.1 801.7L464.9 810.3M466.8 802.2L466.5 812M468.2 802.5L468.3 810.9M469.7 801.8L469.4 810.9M470.3 801.1L470.6 812.1M472.4 802.5L472 812M473.1 801.1L473.3 811.1M475 800.9L475.1 812.2M482.1 801.1L481.8 811.3M483.7 802.6L483.7 810.8M485.1 801.3L485 812.1M486.1 802.1L486.3 812.3M487.7 801.1L487.5 811.4M488.8 801.5L489 811.1M490.2 800.9L490.2 810.7M491.9 802L491.8 810.9M499.2 802.3L499.6 810.8M500.1 801L500.4 810.8M501.9 801.3L502 810.5M503.5 802.2L503.3 810.3M504.8 801.8L505.1 811.3M506.4 802.2L506.3 811.6M507.8 801.7L507.6 811.3M508.6 801.6L509 810.7M516.1 801.6L515.6 810.7M517.3 802L517 812.2M518.8 802.3L518.6 811.6M519.9 801.6L520.1 812M521.2 802L520.8 810.3M522.5 801.6L522.3 810.7M523.9 801.2L523.6 812.3M525.5 801.9L525.1 812M532.1 801L532.3 810.9M533.7 802.4L533.8 812M535.3 802.4L534.9 812.2M536.5 801.6L536.7 811.6M537.4 802.4L537.5 810.8M539.3 801.4L539.2 810.5M540.2 802.6L540.3 812.3M542.1 801.5L541.7 811.2M448.9 815.8L448.8 825.4M450.1 816L450.3 825.7M451.6 815.7L451.8 824.7M452.8 814.9L452.3 826.1M454.2 816.5L454.1 824.9M455.4 815.9L455.4 824.9M457.2 814.8L457 825.7M458.5 816.4L458.1 825.1M465.3 816.5L465.3 824.3M466.5 816.3L466.6 825.5M467.9 815.8L468.2 825.3M469 815.2L469.4 825M470.3 816.4L470.5 825.8M472.5 815L472.1 825.9M473.2 815L473.3 825.2M475 816.4L474.6 824.7M481.9 815.8L482.1 826.1M483.2 815.8L483.4 825.6M484.6 815.8L484.9 825.4M486.5 815.6L486.4 825.7M487.9 815.8L487.6 824.6M489.4 816.2L488.9 824.3M490.5 815.5L490.2 824.8M491.9 815.4L491.9 825.1M499.5 815.4L499 824.2M500.8 815.8L500.7 825.4M502.2 815.2L501.8 824.4M503.5 815.8L503.4 824.5M504.7 816.5L504.7 825.1M506.1 815.6L505.8 825.1M507.3 815.4L507.7 825.6M508.9 816.4L509 825.9M515.4 814.9L515.8 824.4M517.1 815L516.7 824.6M518.5 816.1L518.4 826M519.6 815.7L519.9 825M521.1 816.3L521.1 825.3M522.4 815.6L522.6 825.9M523.9 815.3L523.6 824.9M525.7 815L525.4 824.5M532 814.9L531.9 826M533.8 816.5L533.8 825.7M535 815.4L534.5 826.2M536 816.1L536.3 824.9M537.9 815.1L537.5 825.2M539 814.8L539.3 824.4M540 814.8L540.4 824.7M542 816.3L542 824.3M289.9 156.6L289.5 165.5M291.3 156.5L291.2 166.1M292.7 155.7L292.7 165.1M294.3 155.2L294.2 166.5M295.7 155.4L295.2 164.8M296.9 156L296.4 166M298.2 156.8L298 165.4M300 155.6L299.6 165.6M289.9 169.5L289.6 178.7M291.2 169.3L291.3 180.7M292.7 169.6L293 180.6M294.2 170.1L294 180.7M295.5 170L295.7 179.1M296.8 169.5L296.9 179.6M298.2 170.3L298.4 179.9M299.3 169.4L299.4 179.2M297.4 185.9L297.6 195.9M303.3 186L302.8 194.4M306.6 154.4L306.1 165.1M307.7 154.7L307.4 164.2M308.9 154.4L308.5 164.1M310.6 153.8L310.2 163.6M311.8 154.4L311.4 163.8M312.7 154L313 164.3M314.4 154.9L314.6 164.5M316 154.8L316.1 163.6M321.1 157.5L321.2 166.7M323.7 158.5L323.8 168M326.5 159L326.8 167.4M327.8 157.6L328 167.7M323.6 172.2L323.2 180.6M324.6 170.9L324.3 181.2M325.6 171.1L325.8 180.7M327.6 171.9L327.5 182M328.5 172.4L328.5 181.6M330.5 170.7L330 180.3M331.1 171.9L331.3 180.9M332.9 172.3L332.5 181M304.2 196.7L303.7 207.2M308.6 197.5L308.2 206.7M311.2 198L310.7 207.2M312.8 197.6L312.5 206.4M313.9 197.2L313.5 206M308.4 209.8L308.2 218.5M309.4 210.2L309.6 219M310.9 210.6L311.2 219.3M312.3 210.1L312.5 218.3M314 210L313.5 219.9M315.4 210L315.2 219.2M316.4 209L316 220.3M317.6 209.9L317.7 218.9M339.8 197.4L339.9 206.5M341 197.6L340.9 205.9M342.6 196.2L342.5 207M344.2 197.7L343.7 206.7M345.2 196.2L345.1 205.7M346.7 196.7L346.9 207.5M347.7 197.7L348.1 205.6M349.4 197L349.7 207.1M341.3 211.3L341.5 220.6M342.4 210.9L342.6 220.8M343.7 210.4L343.7 220.8M345.2 210.4L344.9 220.3M346.8 210.5L346.7 220.3M348.2 210.9L347.8 219.7M349.5 211.6L349.7 220.8M351 210.4L351 220.9M342.3 222.6L342.3 231.9M343.4 221.3L343.2 231.5M344.8 221.4L344.8 230.9M347.7 221.3L348 231.7M350.5 221.7L350.1 231M351.4 221.9L351.7 232.7M356.5 226.2L356.3 236.3M357.4 227L357.1 236M358.8 226.1L358.9 237.2M360.3 227.3L359.9 237.2M361.7 226.1L361.5 236.5M363.3 226.8L362.9 236M364 226L364.3 236M365.7 225.9L365.7 235.6M357.6 240.4L357.3 250.2M358.5 238.8L358.8 249.2M359.7 239.2L359.8 249.3M361.7 239.6L361.3 249.1M362.5 239L362.7 250M363.7 240.1L364 249.2M365.5 239.4L365.5 249.2M366.6 239.5L366.8 248.9M358.3 251.8L357.9 262.9M359.4 251.8L359.2 261.9M361.3 252L361.1 262.1M362 252.2L362.3 262.2M363.8 253.1L363.7 261.6M364.9 252L364.9 261.2M366.5 252.9L366.3 262.7M368.2 252.2L367.8 262.9M358.1 266.3L358 275.4M359.6 266.5L359.1 274.8M360.7 266.6L360.8 276.7M362.5 266.6L362.7 276.4M363.5 266.5L363.7 276.1M364.9 266.9L365.1 276.3M366.8 265.9L366.5 275M367.7 267L367.3 274.9M357.9 280L357.9 289.1M359.3 280.1L359.6 289.2M361 280.5L360.9 289.4M362.2 279L362.2 289M363.5 279.8L363.3 289.3M365 279.2L364.6 290M366.2 278.8L366.2 289.3M367.9 279.2L368.1 289.1M358.3 292.3L358.1 301.7M359.7 292.7L359.4 302.8M361.3 293.8L361.1 302.8M362.3 293.1L362.7 302.3M363.4 292.3L363.5 302.7M365.2 292.5L365.6 303.7M366.8 292.4L366.7 302.4M367.9 292.4L367.8 302.9M358.1 307.5L358.2 317.2M359.5 306.3L359.5 316.8M360.9 306.6L360.8 316.8M362.5 306.8L362.1 316.5M363.5 307.3L363.8 315.7M365 306.2L365.4 315.2M366.4 307.3L366.4 315.3M367.6 305.8L367.6 316M359.1 319.4L359.2 329.2M360.7 320.6L360.2 328.7M361.6 320.3L361.7 330.7M363.2 320.7L363.5 330.3M364.6 320.2L364.9 328.9M366.3 320L365.8 329.3M367.3 321L367 329M368.7 320.8L369 329.1M358.9 333.5L359.3 343.7M360.7 332.3L360.4 342.3M363.4 333.6L363.5 342.6M366.1 333.8L366.1 343.1M374 256.1L373.9 266.1M376.5 255.5L376.8 266.7M377.6 255.3L377.7 266M379.3 256.1L379.1 265M381.7 256.4L381.7 265.4M383.3 256.5L383.6 265.7M380 268.9L379.7 278.7M384 268.1L383.8 277.4M378.2 281.6L377.9 290.1M380.4 281.6L380.6 290.1M374.5 295.6L374.4 304.4M376.8 295.2L376.9 305.4M378.1 295.8L378.5 305.1M379.6 294.6L379.7 304.5M381.3 294.3L380.8 305.4M382.5 295.4L382.1 303.8M383.8 294.4L384 305M375.4 308.2L375.3 317.5M376.7 308.2L376.7 317.7M378.3 307.4L378 318.3M379.7 307.5L380 317.6M382.2 307.7L382.5 318M384 307.5L384 317M376.1 322.7L376.3 331.8M380.4 322.5L379.9 331.3M382.8 322.9L383.2 330.7M307.8 279.4L308.1 289.9M308.8 281L308.8 289.4M310.1 279.3L310.4 289.2M311.6 280.9L311.7 289.7M313.2 280.2L312.8 290.4M314.5 280.4L314.7 289.3M316.3 280.7L316 289.4M317.3 280.5L317.5 290M307.7 292.3L307.6 302.1M309.4 293.3L309.2 302.8M310.5 293.5L310.1 302.5M311.6 292.3L311.7 302.9M313.6 293.8L313.3 303.6M314.4 292.8L314.6 302.2M315.7 293.6L316 301.7M317.2 293L317.5 302.1M307.7 305.8L307.7 315M309 305.5L308.7 315.8M310.5 305.4L310.2 316.3M312.1 306.3L311.9 316.6M313 305.9L313.3 315.4M314.5 306.9L314.8 316.1M316.2 305.8L316 316.5M317.4 306.7L317.4 316.6M307.7 320L307.4 330M309.1 319.8L309.2 328.4M310.5 318.9L310.5 329.2M311.5 319.2L311.9 330.1M313.2 319.9L313.6 330.1M314.3 320L314.3 329.1M315.8 319.7L316.1 328.3M317.2 320.2L317.1 328.5M324.4 279.4L324.7 290.2M327.3 280.9L327.5 289.2M331.8 280.7L331.3 289.8M323 292.7L323.3 302.7M325 293.6L324.7 302.8M325.6 293.3L325.8 303.6M327.2 292.5L326.9 303.2M328.4 293L328.6 302.5M330.1 293L330.5 303.3M331.5 292.4L331.5 303.1M333 293.2L333.1 302.8M322.9 305.3L323.2 316.5M324.5 306.5L324.7 316.1M326 306.2L325.7 316.6M327.3 305.8L326.8 316.6M328.5 306.4L328.6 315.2M329.7 306.7L330.1 316.5M331.2 305.5L331.4 315.1M332.5 306.8L332.9 315.5M323 319.8L323.2 329.7M324.2 319.5L324.5 329.8M326.2 319.3L326 330.2M329 319.2L328.9 330.3M329.9 319.6L330.1 330.1M331.4 318.9L331.6 328.9M332.7 318.9L332.9 328.9" fill="none" stroke="#141414" stroke-width="0.8" />
</g>
<g id="redsq">
<path d="M529.4 530L535.7 530Q540.8 530 540.8 535.1L540.8 544.5Q540.8 549.6 535.7 549.6L529.4 549.6Q524.3 549.6 524.3 544.5L524.3 535.1Q524.3 530 529.4 530ZM556.6 531.1L563.7 531.1Q569.2 531.1 569.2 536.6L569.2 543.4Q569.2 548.9 563.7 548.9L556.6 548.9Q551 548.9 551 543.4L551 536.6Q551 531.1 556.6 531.1ZM529.6 555.9L535.8 555.9Q540.9 555.9 540.9 561L540.9 569.4Q540.9 574.4 535.8 574.4L529.6 574.4Q524.5 574.4 524.5 569.4L524.5 561Q524.5 555.9 529.6 555.9ZM557.7 555.9L564.5 555.9Q570 555.9 570 561.4L570 568.4Q570 573.9 564.5 573.9L557.7 573.9Q552.2 573.9 552.2 568.4L552.2 561.4Q552.2 555.9 557.7 555.9ZM528.9 579.6L535.5 579.6Q540.9 579.6 540.9 584.9L540.9 594Q540.9 599.3 535.5 599.3L528.9 599.3Q523.6 599.3 523.6 594L523.6 584.9Q523.6 579.6 528.9 579.6ZM557.7 580.7L564.2 580.7Q569.5 580.7 569.5 586L569.5 594.8Q569.5 600.1 564.2 600.1L557.7 600.1Q552.4 600.1 552.4 594.8L552.4 586Q552.4 580.7 557.7 580.7ZM499.4 605L506.1 605Q511.6 605 511.6 610.5L511.6 618.9Q511.6 624.4 506.1 624.4L499.4 624.4Q493.9 624.4 493.9 618.9L493.9 610.5Q493.9 605 499.4 605ZM529.3 605.3L535.7 605.3Q540.9 605.3 540.9 610.6L540.9 618.3Q540.9 623.5 535.7 623.5L529.3 623.5Q524.1 623.5 524.1 618.3L524.1 610.6Q524.1 605.3 529.3 605.3ZM557.3 605.6L563.7 605.6Q568.8 605.6 568.8 610.8L568.8 620.1Q568.8 625.3 563.7 625.3L557.3 625.3Q552.1 625.3 552.1 620.1L552.1 610.8Q552.1 605.6 557.3 605.6ZM588.4 605L582.4 605Q579.6 605 579.6 607.7L579.6 621.1Q579.6 623.8 582.4 623.8L588.4 623.8M556.6 630.9L563.7 630.9Q569.2 630.9 569.2 636.5L569.2 643.3Q569.2 648.9 563.7 648.9L556.6 648.9Q551 648.9 551 643.3L551 636.5Q551 630.9 556.6 630.9ZM569.7 653.6L557.6 653.6Q552.2 653.6 552.2 659L552.2 667.9Q552.2 673.3 557.6 673.3L569.7 673.3M529.1 678.4L535.3 678.4Q540.4 678.4 540.4 683.5L540.4 692.2Q540.4 697.3 535.3 697.3L529.1 697.3Q524 697.3 524 692.2L524 683.5Q524 678.4 529.1 678.4ZM568.8 678L556.8 678Q551.5 678 551.5 683.4L551.5 692.4Q551.5 697.8 556.8 697.8L568.8 697.8M529.1 704.4L535.8 704.4Q541.3 704.4 541.3 709.9L541.3 716.8Q541.3 722.3 535.8 722.3L529.1 722.3Q523.7 722.3 523.7 716.8L523.7 709.9Q523.7 704.4 529.1 704.4ZM557.6 703.1L564.2 703.1Q569.7 703.1 569.7 708.6L569.7 717.5Q569.7 723 564.2 723L557.6 723Q552.1 723 552.1 717.5L552.1 708.6Q552.1 703.1 557.6 703.1ZM587.4 704.6L581.2 704.6Q578.4 704.6 578.4 707.4L578.4 719.8Q578.4 722.6 581.2 722.6L587.4 722.6M528.7 729.7L535.9 729.7Q541.5 729.7 541.5 735.3L541.5 742.1Q541.5 747.7 535.9 747.7L528.7 747.7Q523.1 747.7 523.1 742.1L523.1 735.3Q523.1 729.7 528.7 729.7ZM557.9 729.1L564.3 729.1Q569.5 729.1 569.5 734.3L569.5 743Q569.5 748.2 564.3 748.2L557.9 748.2Q552.7 748.2 552.7 743L552.7 734.3Q552.7 729.1 557.9 729.1ZM584.5 728.3L591.2 728.3Q596.7 728.3 596.7 733.8L596.7 741.8Q596.7 747.3 591.2 747.3L584.5 747.3Q579 747.3 579 741.8L579 733.8Q579 728.3 584.5 728.3ZM529.8 752.1L536.2 752.1Q541.5 752.1 541.5 757.4L541.5 766.5Q541.5 771.7 536.2 771.7L529.8 771.7Q524.5 771.7 524.5 766.5L524.5 757.4Q524.5 752.1 529.8 752.1ZM557.7 752.5L564.2 752.5Q569.5 752.5 569.5 757.8L569.5 767.1Q569.5 772.4 564.2 772.4L557.7 772.4Q552.4 772.4 552.4 767.1L552.4 757.8Q552.4 752.5 557.7 752.5ZM585.2 752.6L592 752.6Q597.6 752.6 597.6 758.2L597.6 765.5Q597.6 771 592 771L585.2 771Q579.6 771 579.6 765.5L579.6 758.2Q579.6 752.6 585.2 752.6ZM529.2 777.4L535.8 777.4Q541.1 777.4 541.1 782.7L541.1 790.5Q541.1 795.8 535.8 795.8L529.2 795.8Q523.9 795.8 523.9 790.5L523.9 782.7Q523.9 777.4 529.2 777.4ZM557.1 777.5L563.4 777.5Q568.5 777.5 568.5 782.6L568.5 791.8Q568.5 796.9 563.4 796.9L557.1 796.9Q552 796.9 552 791.8L552 782.6Q552 777.5 557.1 777.5ZM584.4 778L591.3 778Q596.8 778 596.8 783.6L596.8 791.2Q596.8 796.8 591.3 796.8L584.4 796.8Q578.9 796.8 578.9 791.2L578.9 783.6Q578.9 778 584.4 778ZM529.5 802.3L536.3 802.3Q541.8 802.3 541.8 807.9L541.8 815.4Q541.8 821 536.3 821L529.5 821Q524 821 524 815.4L524 807.9Q524 802.3 529.5 802.3ZM557.2 803.4L563.7 803.4Q569 803.4 569 808.7L569 816.6Q569 821.9 563.7 821.9L557.2 821.9Q551.9 821.9 551.9 816.6L551.9 808.7Q551.9 803.4 557.2 803.4ZM529.7 827.8L536.5 827.8Q541.9 827.8 541.9 833.3L541.9 840.4Q541.9 845.8 536.5 845.8L529.7 845.8Q524.3 845.8 524.3 840.4L524.3 833.3Q524.3 827.8 529.7 827.8ZM558.2 826.7L564.4 826.7Q569.5 826.7 569.5 831.8L569.5 841.5Q569.5 846.6 564.4 846.6L558.2 846.6Q553.1 846.6 553.1 841.5L553.1 831.8Q553.1 826.7 558.2 826.7ZM528.7 853.1L535.6 853.1Q541.3 853.1 541.3 858.8L541.3 866.5Q541.3 872.2 535.6 872.2L528.7 872.2Q523 872.2 523 866.5L523 858.8Q523 853.1 528.7 853.1ZM556.9 852.1L563.3 852.1Q568.5 852.1 568.5 857.3L568.5 865.5Q568.5 870.7 563.3 870.7L556.9 870.7Q551.8 870.7 551.8 865.5L551.8 857.3Q551.8 852.1 556.9 852.1Z" fill="none" stroke="#d8281a" stroke-width="1.7" />
<path d="M465.1 262.9L465.1 268.1Q465.1 270.4 467.4 270.4L478.3 270.4Q480.6 270.4 480.6 268.1L480.6 262.9M492.3 261.5L492.3 267Q492.3 269.5 494.8 269.5L506.8 269.5Q509.3 269.5 509.3 267L509.3 261.5M470 275.5L476 275.5Q480.8 275.5 480.8 280.4L480.8 287.8Q480.8 292.7 476 292.7L470 292.7Q465.1 292.7 465.1 287.8L465.1 280.4Q465.1 275.5 470 275.5ZM496.2 276.5L505.9 276.5Q510.9 276.5 510.9 281.5L510.9 287.6Q510.9 292.6 505.9 292.6L496.2 292.6Q491.2 292.6 491.2 287.6L491.2 281.5Q491.2 276.5 496.2 276.5ZM476.2 299.6L481.9 299.6Q484.4 299.6 484.4 302.1L484.4 311.8Q484.4 314.4 481.9 314.4L476.2 314.4M495.7 297.9L504.6 297.9Q509.6 297.9 509.6 302.9L509.6 309Q509.6 314 504.6 314L495.7 314Q490.7 314 490.7 309L490.7 302.9Q490.7 297.9 495.7 297.9ZM469.7 322.8L476 322.8Q481.1 322.8 481.1 327.8L481.1 334Q481.1 339 476 339L469.7 339Q464.7 339 464.7 334L464.7 327.8Q464.7 322.8 469.7 322.8ZM495.9 322.6L504.1 322.6Q509.4 322.6 509.4 327.8L509.4 334.3Q509.4 339.5 504.1 339.5L495.9 339.5Q490.7 339.5 490.7 334.3L490.7 327.8Q490.7 322.6 495.9 322.6ZM497.9 346.4L506.1 346.4Q509.8 346.4 509.8 350L509.8 360.4Q509.8 364.1 506.1 364.1L497.9 364.1M501.9 371.7L506.2 371.7Q509.7 371.7 509.7 375.2L509.7 386.1Q509.7 389.5 506.2 389.5L501.9 389.5Q498.4 389.5 498.4 386.1L498.4 375.2Q498.4 371.7 501.9 371.7ZM468.3 397.6L472.8 397.6Q476.5 397.6 476.5 401.3L476.5 409.8Q476.5 413.5 472.8 413.5L468.3 413.5Q464.6 413.5 464.6 409.8L464.6 401.3Q464.6 397.6 468.3 397.6ZM464.1 420.9L469.1 420.9Q473.1 420.9 473.1 425L473.1 433.8Q473.1 437.8 469.1 437.8L464.1 437.8Q460 437.8 460 433.8L460 425Q460 420.9 464.1 420.9ZM463.2 447.3L468.2 447.3Q472.3 447.3 472.3 451.4L472.3 459.2Q472.3 463.3 468.2 463.3L463.2 463.3Q459.1 463.3 459.1 459.2L459.1 451.4Q459.1 447.3 463.2 447.3ZM463.8 471.4L468.7 471.4Q472.7 471.4 472.7 475.4L472.7 484.5Q472.7 488.5 468.7 488.5L463.8 488.5Q459.9 488.5 459.9 484.5L459.9 475.4Q459.9 471.4 463.8 471.4ZM499.5 471.9L506.2 471.9Q509.2 471.9 509.2 474.9L509.2 485.4Q509.2 488.4 506.2 488.4L499.5 488.4M463.1 496.9L468.1 496.9Q472.2 496.9 472.2 501L472.2 509.9Q472.2 514 468.1 514L463.1 514Q459 514 459 509.9L459 501Q459 496.9 463.1 496.9ZM500.5 496.3L507.4 496.3Q510.5 496.3 510.5 499.4L510.5 509.3Q510.5 512.4 507.4 512.4L500.5 512.4M445 324.8L450.9 324.8Q453.5 324.8 453.5 327.4L453.5 338.3Q453.5 341 450.9 341L445 341M444.9 348.7L450.8 348.7Q453.4 348.7 453.4 351.3L453.4 362.6Q453.4 365.2 450.8 365.2L444.9 365.2M444.8 373L450.6 373Q453.2 373 453.2 375.6L453.2 387.7Q453.2 390.3 450.6 390.3L444.8 390.3M436 397L441.2 397Q443.5 397 443.5 399.3L443.5 411.4Q443.5 413.8 441.2 413.8L436 413.8M452.2 449.2C451.3 449.2 441.6 448.7 440.4 449.2C439.2 449.8 437.9 454.3 437.8 456C437.8 457.7 438.3 468.5 439.5 469.6C440.7 470.7 451.2 468.7 452.2 469.6C453.3 470.4 453.2 478.9 452.2 479.8C451.3 480.6 441.4 479.8 440.4 479.8M440.4 484.9C441.2 484.6 443.5 483.2 445.5 483.2C447.4 483.2 451.1 484.6 452.2 484.9M445.5 495C445.9 495.1 451.8 494.7 452.2 495.9C452.7 497.1 452.7 512.5 452.2 513.7C451.8 515 445.9 514.5 445.5 514.6M437.8 491.7C437.7 492.7 436.4 500.7 437 501.8C437.6 503 443.1 503.4 443.8 503.5" fill="none" stroke="#d8281a" stroke-width="1.7" />
<path d="M303.1 218L310 218Q313.1 218 313.1 221L313.1 229.3Q313.1 232.4 310 232.4L303.1 232.4M302.9 237.6L309.2 237.6Q312 237.6 312 240.4L312 249.1Q312 252 309.2 252L302.9 252M303.1 258L309.3 258Q312 258 312 260.8L312 268.4Q312 271.2 309.3 271.2L303.1 271.2M304 279.5L310.4 279.5Q313.2 279.5 313.2 282.4L313.2 290.9Q313.2 293.8 310.4 293.8L304 293.8M325.2 290L329.7 290Q333.3 290 333.3 293.6L333.3 302.5Q333.3 306.1 329.7 306.1L325.2 306.1Q321.6 306.1 321.6 302.5L321.6 293.6Q321.6 290 325.2 290ZM324.9 314L329.4 314Q333.1 314 333.1 317.7L333.1 325.6Q333.1 329.3 329.4 329.3L324.9 329.3Q321.2 329.3 321.2 325.6L321.2 317.7Q321.2 314 324.9 314ZM325.3 338.1L329.5 338.1Q333 338.1 333 341.6L333 349.7Q333 353.2 329.5 353.2L325.3 353.2Q321.8 353.2 321.8 349.7L321.8 341.6Q321.8 338.1 325.3 338.1ZM325.7 362.1L330.1 362.1Q333.7 362.1 333.7 365.7L333.7 375.1Q333.7 378.6 330.1 378.6L325.7 378.6Q322.2 378.6 322.2 375.1L322.2 365.7Q322.2 362.1 325.7 362.1ZM325.5 387.9L329.8 387.9Q333.3 387.9 333.3 391.4L333.3 399.8Q333.3 403.3 329.8 403.3L325.5 403.3Q322 403.3 322 399.8L322 391.4Q322 387.9 325.5 387.9ZM359.5 238L366 238Q368 238 368 240L368 246.8Q368 248.8 366 248.8L359.5 248.8Q357.5 248.8 357.5 246.8L357.5 240Q357.5 238 359.5 238ZM360.4 252.1L366.7 252.1Q368.7 252.1 368.7 254.1L368.7 261.1Q368.7 263.1 366.7 263.1L360.4 263.1Q358.4 263.1 358.4 261.1L358.4 254.1Q358.4 252.1 360.4 252.1ZM360.8 264.4L366.5 264.4Q368.5 264.4 368.5 266.4L368.5 272.5Q368.5 274.5 366.5 274.5L360.8 274.5Q358.8 274.5 358.8 272.5L358.8 266.4Q358.8 264.4 360.8 264.4ZM360.3 278.6L366 278.6Q368 278.6 368 280.6L368 287.4Q368 289.4 366 289.4L360.3 289.4Q358.3 289.4 358.3 287.4L358.3 280.6Q358.3 278.6 360.3 278.6ZM360 292.4L365.7 292.4Q367.7 292.4 367.7 294.4L367.7 300.8Q367.7 302.8 365.7 302.8L360 302.8Q358 302.8 358 300.8L358 294.4Q358 292.4 360 292.4ZM360.2 306.1L366.1 306.1Q368.1 306.1 368.1 308.1L368.1 314.1Q368.1 316.1 366.1 316.1L360.2 316.1Q358.2 316.1 358.2 314.1L358.2 308.1Q358.2 306.1 360.2 306.1ZM360.1 319.5L365.6 319.5Q367.6 319.5 367.6 321.5L367.6 328Q367.6 330 365.6 330L360.1 330Q358.1 330 358.1 328L358.1 321.5Q358.1 319.5 360.1 319.5ZM359.5 333.3L365.6 333.3Q367.6 333.3 367.6 335.3L367.6 341.3Q367.6 343.3 365.6 343.3L359.5 343.3Q357.5 343.3 357.5 341.3L357.5 335.3Q357.5 333.3 359.5 333.3ZM370.1 356.3L364.7 356.3Q362.2 356.3 362.2 358.7L362.2 364.8Q362.2 367.3 364.7 367.3L370.1 367.3M370.4 371.3L364.8 371.3Q362.3 371.3 362.3 373.8L362.3 379.3Q362.3 381.8 364.8 381.8L370.4 381.8M312.5 343.8C311.4 343.8 300.4 342.9 299.2 343.8C298 344.7 297.9 352.7 298 354.7C298.1 356.6 299.3 365.7 300.4 366.7C301.5 367.7 310.4 365.9 311.3 366.7C312.2 367.5 312.2 375.4 311.3 376.3C310.4 377.2 301.3 377.4 300.4 377.5M298 381.1C298.4 381.8 300.3 387.5 301.6 388.3C303 389.2 310.3 389.4 311.3 389.5M314.2 392.3L307.1 392.3Q303.9 392.3 303.9 395.5L303.9 404.1Q303.9 407.2 307.1 407.2L314.2 407.2" fill="none" stroke="#d8281a" stroke-width="1.7" />
<path d="M47.3 860L47.6 879.8M50.7 860.2L51.1 880.1M53.9 859L54.7 878.5M57.2 858.7L58.1 880.1M60.8 858.6L61.2 880.5M63.9 859.9L65.1 878.6M67.5 858.8L68.2 880.4M71.1 860.3L71.4 878.7M74.7 859.7L75.3 879.2M78.3 858.6L78.6 880.2M81.1 859L82.2 880.4M84.9 860.2L85.9 879.7M88.9 859.5L89.2 880.2M91.6 860.5L92.8 879.3M95.3 859.3L96 880.5M99 858.7L99.1 879.9M102.4 859.6L103.1 879.6M106.2 859.8L106.7 879.6M109.8 858.9L110.2 879.2M113.4 859.8L114 879.1M116.8 860.3L117 880.1M119.7 860L120.7 880.3M123.7 860.7L124.3 880.4M126.9 859.6L128 879.3M130.2 858.9L131.3 878.6M133.9 859.6L134.9 880.2M48.2 886.1L48.7 906.3M51.6 886.2L51.8 907.3M54.9 886.6L55.9 906M58.8 887.1L59.6 905.6M61.8 887.2L62.9 907.3M65.7 886.8L66.3 907.2M68.9 886.1L69.6 907M71.9 887.6L72.8 905.5M75.4 887.4L76.3 906.7M78.9 887.6L79.5 907.3M82.3 885.7L82.6 905.6M85.7 887.4L86 906.8M88.6 886.2L89.3 906.5M92.1 885.9L92.4 906.3M95.4 885.6L96.2 906.9M99 887.2L100 905.5M102.9 887.2L103.1 905.9M106.4 887L106.8 906.1M109.4 886.2L110 907.3M112.6 886.7L113.4 907.4M115.7 886.6L116.6 907M119.7 887L120.2 906.6M123.4 887.3L123.6 907.5M126.5 887.7L127.1 905.7M129.9 887.3L130.1 907M132.9 885.5L133.8 906.8M49 912.4L49.8 929.3M52.6 912.5L52.8 929M55.7 913.1L56.8 929.4M59.2 912.6L59.8 929.8M63.2 912.6L63.5 929.5M66.3 913.2L67.4 929.8M70.1 913.4L71 929.9M73.9 913.5L74.4 929.3M77.1 913.6L78.1 930.5M80.5 912.2L81 929.3M83.6 911.7L84.3 929.1M87.2 912.5L88.2 928.7M91 912L91.9 929.2M94.5 912.1L95.5 930.4M98.2 913.4L98.6 928.8M101.8 912.8L102.2 929.1M104.6 912.5L105.8 929.4M108.6 911.9L109.1 929.3M112 913.6L112.3 928.6M115.1 913.1L116.3 928.5M119.2 912.8L119.4 929.9M122.5 912.7L122.7 928.7M125.5 913.5L126.2 929.2M128.4 913.3L129.5 929.6M132 912.4L132.4 929.6M134.8 913.4L135.9 930.4M163.4 859.3L163.6 878.7M166.6 859.7L167.6 878.9M169.7 859.3L170.8 879.7M173.1 858.7L174.2 879M176.8 859.4L177.3 880.3M180.2 859.1L180.4 879.9M183.2 858.1L183.7 878.6M186.4 859.4L187.3 878.8M189.4 859.2L190.6 879.3M193.1 859.2L194.1 878.7M197.2 858.1L197.6 879.2M200.3 858.4L201.2 879.9M204.1 859.9L204.5 880.1M207.5 858.5L208.4 880.1M211.3 860L212.1 880.4M214.4 860.1L215.6 880.1M217.9 859.3L218.5 879.7M221.4 858.4L222.2 880.4M224.7 858.5L225.8 880.5M228.2 859.6L229.3 880.3M232.1 858.9L232.3 878.9M235 858.8L236.1 878.8M238.4 859.3L239.1 878.6M242.1 858.2L242.5 880.4M245.1 859.1L246.3 878.7M248.7 859.4L249.4 880M252.2 858.6L253.1 879.4M255.7 858.6L256.4 879.6M259.4 859.8L259.6 879.7M262.6 859.6L263.6 880.5M266.2 858L266.8 879.8M269.6 860.2L270.4 878.9M272.7 859.8L273.7 879.5M276.1 859.8L276.7 879.5M279.5 859.4L280.1 879.7M282.8 859.7L283.9 879.2M163.4 887.2L164.4 907.4M166.5 887.5L167.7 905.7M170 885.8L170.9 907.2M173.3 886.2L174.2 905.9M176.6 887.1L177.4 905.9M180.3 886.9L180.9 906.2M183.7 885.6L184 906.9M187.1 887.4L187.4 906.8M189.8 886.8L190.8 906.4M193.1 886.3L194.3 906.8M197 886.3L197.6 907M200.5 886.6L201.2 905.9M204.5 886.9L204.7 906.4M207.3 886.8L208.2 905.7M211.1 887.3L211.4 906.2M214.4 885.6L214.8 905.9M217.3 887.4L218.2 905.9M220.5 885.8L221.3 906.3M224.4 887L224.8 906.6M227.5 886.8L228 905.7M230.5 887.3L231.3 906.5M234.5 886.2L234.7 906.1M238 887.2L238.6 905.6M241.1 887.2L242.2 906.7M244.3 885.7L245.5 907.4M248.1 886.7L249 905.8M251.4 886.9L252.3 906.3M255.5 886.1L255.8 905.7M258.3 887.2L259.4 905.8M165.3 913L165.6 929.4M168.4 913.4L169 929.4M171.8 912.5L172.7 929.6M175.5 912.6L175.8 929.1M178.8 913.5L179.2 929.4M182.1 912L182.3 930.2M185 912L185.9 929.8M188.4 912.7L189.4 929.3M191.8 913.3L192.6 929.9M195.4 913.5L196 930.2M198.4 913.2L199.3 929.9M202 912L203.2 930.5M205.7 913.6L206.3 928.8M208.9 912.1L209.8 929M212.6 913.1L213.4 930.1M216.1 913.3L217.2 930.5" fill="none" stroke="#d8301f" stroke-width="1.4" stroke-linecap="round"/>
</g>
<g id="lobfill">
<path d="M305.2 157.4C304.8 159.6 302.7 165.7 302.4 170.7C302.1 175.8 302 182.4 303.5 187.7C305.1 193 308 198.4 311.7 202.4C315.5 206.4 323.5 210.2 325.9 211.7L325.9 211.7C326.9 211.1 330.5 210.7 331.8 208.1C333.2 205.5 334.5 200.5 334.1 196.2C333.7 191.8 332.1 187 329.6 182C327 177.1 322.9 170.6 318.8 166.5C314.8 162.4 307.5 158.9 305.2 157.4Z" fill="#fff"/>
<path d="M328.7 206.5C327.4 209.6 322.7 218.2 321 225C319.3 231.8 318.7 239.8 318.5 247C318.3 254.2 318.6 260.8 320 268C321.4 275.2 324.3 284.5 327 290C329.7 295.5 333.2 298.4 336 301C338.8 303.6 342.4 304.7 343.7 305.4L343.7 305.4C344.8 304.7 347.9 303.2 350 301C352.1 298.8 354.4 296.3 356 292C357.6 287.7 359.5 281.2 359.5 275C359.5 268.8 357.6 261.5 356 255C354.4 248.5 353 242.2 350 236C347 229.8 341.6 222.9 338 218C334.4 213.1 330.2 208.4 328.7 206.5Z" fill="#fff"/>
<path d="M339 303C338 305.5 334.2 312.7 333 318C331.8 323.3 331 330 331.7 335C332.4 340 333.6 344.9 337 348C340.4 351.1 349.5 352.6 352 353.5L352 353.5C353 352.4 356.4 350.1 358 347C359.6 343.9 361.7 340.3 361.7 335C361.7 329.7 360.1 320.8 358 315C355.9 309.2 350.5 302.5 349 300Z" fill="#fff"/>
<path d="M345 349C343 350.8 336 355.2 333 360C330 364.8 327.7 372 327 378C326.3 384 327.5 390.5 329 396C330.5 401.5 333 407.2 336 411C339 414.8 345.2 417.7 347 419L347 419C348.8 416.3 355.4 408.7 358 403C360.6 397.3 362 391.3 362.5 385C363 378.7 362.8 370.5 361 365C359.2 359.5 353.5 354.2 352 352Z" fill="#fff"/>
<path d="M353.3 174.1C352.9 176.9 349.9 185 350.8 190.5C351.6 196.1 354.8 203.6 358.4 207.5C362 211.4 370.2 212.7 372.6 213.7L372.6 213.7C374.1 213.2 380.3 213.6 381.6 210.9C382.9 208.2 382.5 202.4 380.5 197.6C378.5 192.8 374.1 186.5 369.7 182C365.4 177.6 357 172.6 354.5 170.7Z" fill="#fff"/>
<path d="M355.1 172.5C355.1 173 354.9 173.5 354.7 173.9C354.4 174.2 353.9 174.5 353.5 174.7C353.1 174.8 352.5 174.8 352.1 174.7C351.7 174.5 351.2 174.2 350.9 173.9C350.7 173.5 350.5 173 350.5 172.5C350.5 172 350.7 171.5 350.9 171.1C351.2 170.8 351.7 170.5 352.1 170.3C352.5 170.2 353.1 170.2 353.5 170.3C353.9 170.5 354.4 170.8 354.7 171.1C354.9 171.5 355.1 172 355.1 172.5Z" fill="#fff"/>
<path d="M445.5 267.7C445.3 270.7 443.6 279.5 444.3 285.6C444.9 291.6 446.6 298.9 449.2 304.2C451.8 309.5 456.4 314.6 459.9 317.5C463.4 320.3 468.4 320.9 470.1 321.5L470.1 321.5C470.8 320.9 473.5 319.8 474.7 317.5C475.8 315.1 477.7 311.5 477 307.6C476.4 303.7 473.9 298.8 470.9 294C467.9 289.2 463.3 283.1 459 278.8C454.8 274.4 447.7 269.6 445.5 267.7Z" fill="#fff"/>
<path d="M470.9 317.5C469.6 320.3 465.1 328.2 463.3 334.8C461.4 341.3 460 348.9 459.9 356.8C459.7 364.8 460.6 374.7 462.4 382.3C464.3 389.9 468.1 397.6 470.9 402.7C473.7 407.8 476.9 410.8 479.4 412.9C481.9 414.9 484.8 414.5 485.9 414.9L485.9 414.9C486.5 414.5 488.1 414.6 489.9 412.9C491.7 411.1 494.9 408.6 496.7 404.4C498.6 400.1 500.5 393.6 501 387.4C501.5 381.2 501.1 373.8 499.8 367C498.4 360.2 496.1 353.2 493 346.7C489.9 340.1 484.8 332.9 481.1 328C477.4 323.1 472.6 319.2 470.9 317.5Z" fill="#fff"/>
<path d="M477.7 416.1C476.9 419.1 473.1 428.1 473 433.9C472.8 439.7 474.5 446.2 476.9 450.9C479.2 455.7 485.5 460.5 487.2 462.5L487.2 462.5C488.9 461.8 494.5 461.2 497.2 458.6C499.9 455.9 503.1 451.3 503.5 446.7C503.9 442 502.6 435.8 499.8 430.6C496.9 425.3 488.7 417.5 486.5 414.9Z" fill="#fff"/>
<path d="M478.6 460.8C477.2 463.4 472.2 469.5 470.6 476.4C469 483.2 468.4 494.3 468.9 501.8C469.4 509.3 471.3 516.8 473.6 521.4C476 525.9 479.9 528.2 482.8 529C485.7 529.8 489.9 526.4 491.3 525.9L491.3 525.9C492.8 524.5 498 521.7 500.6 517.1C503.2 512.5 506.2 505.5 506.9 498.4C507.6 491.4 506.9 481.2 504.9 474.7C502.8 468.2 496.4 462 494.7 459.4Z" fill="#fff"/>
<path d="M465 633C464.2 634.3 461.1 637.5 460 641C458.9 644.5 458.3 649.2 458.4 654C458.5 658.8 459.2 665.2 460.5 670C461.8 674.8 464.1 680.3 466 683C467.9 685.7 471 685.5 472 686L472 686C473.7 685.5 479.6 684.7 482 683C484.4 681.3 485.9 679.2 486.4 676C486.9 672.8 486.2 668.7 485 664C483.8 659.3 481.3 652.7 479 648C476.7 643.3 473.3 638.5 471 636C468.7 633.5 466 633.5 465 633Z" fill="#fff"/>
<path d="M470 675C468.7 677.5 463.8 683.5 462 690C460.2 696.5 459 706.7 459 714C459 721.3 459.8 727.7 462 734C464.2 740.3 467.7 746.7 472 752C476.3 757.3 485.3 763.7 488 766L488 766C489 765.3 492.2 764.3 494 762C495.8 759.7 497.7 756.7 499 752C500.3 747.3 502.2 740.3 502 734C501.8 727.7 500.7 721.3 498 714C495.3 706.7 490.7 696.5 486 690C481.3 683.5 472.7 677.5 470 675Z" fill="#fff"/>
<path d="M478.7 761.6C478.1 765.3 474.6 776.7 474.7 784C474.8 791.4 476.5 798.7 479.4 805.8C482.2 812.9 489.7 823.2 491.8 826.6L491.8 826.6C493.2 824.2 498 818.6 499.9 812C501.8 805.4 502.9 795.8 503 787.1C503.1 778.5 500.9 764.6 500.5 760.1Z" fill="#fff"/>
<path d="M480 819.8C478.3 823.2 471.7 832 470 840C468.4 848.1 468.5 860.6 470 868C471.6 875.5 476.7 881.6 479.4 884.5C482.1 887.5 485.1 885.6 486.2 885.8L486.2 885.8C487.5 884.9 490.9 884.5 493.7 880.5C496.5 876.5 501.2 869.1 503 861.8C504.8 854.5 504.8 844.6 504.3 836.9C503.7 829.2 500.4 819.3 499.6 815.8Z" fill="#fff"/>
</g>
<g id="lob">
<path d="M286.3 141.9C287.1 142.4 289 143.5 291.1 145.3C293.2 147 296.7 150.2 299 152.3C301.4 154.5 304.2 157 305.2 158" fill="none" stroke="#d8281a" stroke-width="1.8" stroke-linejoin="round"/>
<path d="M291.1 145.3L295 140.5" fill="none" stroke="#d8281a" stroke-width="1.8" stroke-linejoin="round"/>
<path d="M305.2 157.4C304.8 159.6 302.7 165.7 302.4 170.7C302.1 175.8 302 182.4 303.5 187.7C305.1 193 308 198.4 311.7 202.4C315.5 206.4 323.5 210.2 325.9 211.7L325.9 211.7C326.9 211.1 330.5 210.7 331.8 208.1C333.2 205.5 334.5 200.5 334.1 196.2C333.7 191.8 332.1 187 329.6 182C327 177.1 322.9 170.6 318.8 166.5C314.8 162.4 307.5 158.9 305.2 157.4Z" fill="none" stroke="#d8281a" stroke-width="1.8" stroke-linejoin="round"/>
<path d="M328.7 206.5C327.4 209.6 322.7 218.2 321 225C319.3 231.8 318.7 239.8 318.5 247C318.3 254.2 318.6 260.8 320 268C321.4 275.2 324.3 284.5 327 290C329.7 295.5 333.2 298.4 336 301C338.8 303.6 342.4 304.7 343.7 305.4L343.7 305.4C344.8 304.7 347.9 303.2 350 301C352.1 298.8 354.4 296.3 356 292C357.6 287.7 359.5 281.2 359.5 275C359.5 268.8 357.6 261.5 356 255C354.4 248.5 353 242.2 350 236C347 229.8 341.6 222.9 338 218C334.4 213.1 330.2 208.4 328.7 206.5Z" fill="none" stroke="#d8281a" stroke-width="1.8" stroke-linejoin="round"/>
<path d="M339 303C338 305.5 334.2 312.7 333 318C331.8 323.3 331 330 331.7 335C332.4 340 333.6 344.9 337 348C340.4 351.1 349.5 352.6 352 353.5L352 353.5C353 352.4 356.4 350.1 358 347C359.6 343.9 361.7 340.3 361.7 335C361.7 329.7 360.1 320.8 358 315C355.9 309.2 350.5 302.5 349 300" fill="none" stroke="#d8281a" stroke-width="1.8" stroke-linejoin="round"/>
<path d="M345 349C343 350.8 336 355.2 333 360C330 364.8 327.7 372 327 378C326.3 384 327.5 390.5 329 396C330.5 401.5 333 407.2 336 411C339 414.8 345.2 417.7 347 419L347 419C348.8 416.3 355.4 408.7 358 403C360.6 397.3 362 391.3 362.5 385C363 378.7 362.8 370.5 361 365C359.2 359.5 353.5 354.2 352 352" fill="none" stroke="#d8281a" stroke-width="1.8" stroke-linejoin="round"/>
<path d="M347 419C348 420 351.2 423 353 425C354.8 427 357.2 430 358 431M353.5 430.5L358.5 431.5L358.5 425.5" fill="none" stroke="#d8281a" stroke-width="1.8" stroke-linejoin="round"/>
<path d="M353.3 174.1C352.9 176.9 349.9 185 350.8 190.5C351.6 196.1 354.8 203.6 358.4 207.5C362 211.4 370.2 212.7 372.6 213.7L372.6 213.7C374.1 213.2 380.3 213.6 381.6 210.9C382.9 208.2 382.5 202.4 380.5 197.6C378.5 192.8 374.1 186.5 369.7 182C365.4 177.6 357 172.6 354.5 170.7" fill="none" stroke="#d8281a" stroke-width="1.8" stroke-linejoin="round"/>
<path d="M355.1 172.5C355.1 173 354.9 173.5 354.7 173.9C354.4 174.2 353.9 174.5 353.5 174.7C353.1 174.8 352.5 174.8 352.1 174.7C351.7 174.5 351.2 174.2 350.9 173.9C350.7 173.5 350.5 173 350.5 172.5C350.5 172 350.7 171.5 350.9 171.1C351.2 170.8 351.7 170.5 352.1 170.3C352.5 170.2 353.1 170.2 353.5 170.3C353.9 170.5 354.4 170.8 354.7 171.1C354.9 171.5 355.1 172 355.1 172.5Z" fill="none" stroke="#d8281a" stroke-width="1.8" stroke-linejoin="round"/>
<path d="M321.6 160.8C322.1 163.2 321.6 171.2 324.5 175C327.3 178.7 336.3 182 338.6 183.5" fill="none" stroke="#d8281a" stroke-width="1.8" stroke-linejoin="round"/>
<path d="M324.5 154.3C324.8 155.4 326.2 158.6 326.4 160.8C326.7 163.1 326 166.7 325.9 167.9" fill="none" stroke="#d8281a" stroke-width="1.8" stroke-linejoin="round"/>
<path d="M381 211.7C381.8 213.2 384 218.1 385.3 220.2C386.6 222.3 389.2 224 389 224.5C388.7 225 384.7 223.5 383.9 223.3" fill="none" stroke="#d8281a" stroke-width="1.8" stroke-linejoin="round"/>
<path d="M369.2 213.2C369.7 215.5 371.4 223.3 372.6 227.3C373.7 231.3 376.4 236.5 376 237.2C375.5 237.9 370.8 232.5 369.7 231.5" fill="none" stroke="#d8281a" stroke-width="1.8" stroke-linejoin="round"/>
<path d="M358.4 208.9C357.5 209.6 354.4 210.6 352.8 213.2C351.1 215.7 349.2 222.6 348.5 224.5" fill="none" stroke="#d8281a" stroke-width="1.8" stroke-linejoin="round"/>
<path d="M338.6 184.9C339.1 186.8 341.2 192.4 341.4 196.2C341.7 200 340.3 205.6 340 207.5" fill="none" stroke="#d8281a" stroke-width="1.8" stroke-linejoin="round"/>
<path d="M430.2 255C431.3 256 434.4 258.9 437 260.9C439.5 263 444 266.2 445.5 267.2" fill="none" stroke="#d8281a" stroke-width="1.8" stroke-linejoin="round"/>
<path d="M436.1 257.5L433.6 260.1" fill="none" stroke="#d8281a" stroke-width="1.8" stroke-linejoin="round"/>
<path d="M445.5 267.7C445.3 270.7 443.6 279.5 444.3 285.6C444.9 291.6 446.6 298.9 449.2 304.2C451.8 309.5 456.4 314.6 459.9 317.5C463.4 320.3 468.4 320.9 470.1 321.5L470.1 321.5C470.8 320.9 473.5 319.8 474.7 317.5C475.8 315.1 477.7 311.5 477 307.6C476.4 303.7 473.9 298.8 470.9 294C467.9 289.2 463.3 283.1 459 278.8C454.8 274.4 447.7 269.6 445.5 267.7Z" fill="none" stroke="#d8281a" stroke-width="1.8" stroke-linejoin="round"/>
<path d="M470.9 317.5C469.6 320.3 465.1 328.2 463.3 334.8C461.4 341.3 460 348.9 459.9 356.8C459.7 364.8 460.6 374.7 462.4 382.3C464.3 389.9 468.1 397.6 470.9 402.7C473.7 407.8 476.9 410.8 479.4 412.9C481.9 414.9 484.8 414.5 485.9 414.9L485.9 414.9C486.5 414.5 488.1 414.6 489.9 412.9C491.7 411.1 494.9 408.6 496.7 404.4C498.6 400.1 500.5 393.6 501 387.4C501.5 381.2 501.1 373.8 499.8 367C498.4 360.2 496.1 353.2 493 346.7C489.9 340.1 484.8 332.9 481.1 328C477.4 323.1 472.6 319.2 470.9 317.5Z" fill="none" stroke="#d8281a" stroke-width="1.8" stroke-linejoin="round"/>
<path d="M477.7 416.1C476.9 419.1 473.1 428.1 473 433.9C472.8 439.7 474.5 446.2 476.9 450.9C479.2 455.7 485.5 460.5 487.2 462.5L487.2 462.5C488.9 461.8 494.5 461.2 497.2 458.6C499.9 455.9 503.1 451.3 503.5 446.7C503.9 442 502.6 435.8 499.8 430.6C496.9 425.3 488.7 417.5 486.5 414.9" fill="none" stroke="#d8281a" stroke-width="1.8" stroke-linejoin="round"/>
<path d="M478.6 460.8C477.2 463.4 472.2 469.5 470.6 476.4C469 483.2 468.4 494.3 468.9 501.8C469.4 509.3 471.3 516.8 473.6 521.4C476 525.9 479.9 528.2 482.8 529C485.7 529.8 489.9 526.4 491.3 525.9L491.3 525.9C492.8 524.5 498 521.7 500.6 517.1C503.2 512.5 506.2 505.5 506.9 498.4C507.6 491.4 506.9 481.2 504.9 474.7C502.8 468.2 496.4 462 494.7 459.4" fill="none" stroke="#d8281a" stroke-width="1.8" stroke-linejoin="round"/>
<path d="M491.3 525.9C492 527.3 494.3 531.6 495.5 534.1C496.8 536.6 498.4 539.7 498.9 540.9M494.7 538.3L499.1 541.2L499.8 534.9" fill="none" stroke="#d8281a" stroke-width="1.8" stroke-linejoin="round"/>
<path d="M465 633C464.2 634.3 461.1 637.5 460 641C458.9 644.5 458.3 649.2 458.4 654C458.5 658.8 459.2 665.2 460.5 670C461.8 674.8 464.1 680.3 466 683C467.9 685.7 471 685.5 472 686L472 686C473.7 685.5 479.6 684.7 482 683C484.4 681.3 485.9 679.2 486.4 676C486.9 672.8 486.2 668.7 485 664C483.8 659.3 481.3 652.7 479 648C476.7 643.3 473.3 638.5 471 636C468.7 633.5 466 633.5 465 633Z" fill="none" stroke="#d8281a" stroke-width="1.8" stroke-linejoin="round"/>
<path d="M470 675C468.7 677.5 463.8 683.5 462 690C460.2 696.5 459 706.7 459 714C459 721.3 459.8 727.7 462 734C464.2 740.3 467.7 746.7 472 752C476.3 757.3 485.3 763.7 488 766L488 766C489 765.3 492.2 764.3 494 762C495.8 759.7 497.7 756.7 499 752C500.3 747.3 502.2 740.3 502 734C501.8 727.7 500.7 721.3 498 714C495.3 706.7 490.7 696.5 486 690C481.3 683.5 472.7 677.5 470 675Z" fill="none" stroke="#d8281a" stroke-width="1.8" stroke-linejoin="round"/>
<path d="M478.7 761.6C478.1 765.3 474.6 776.7 474.7 784C474.8 791.4 476.5 798.7 479.4 805.8C482.2 812.9 489.7 823.2 491.8 826.6L491.8 826.6C493.2 824.2 498 818.6 499.9 812C501.8 805.4 502.9 795.8 503 787.1C503.1 778.5 500.9 764.6 500.5 760.1" fill="none" stroke="#d8281a" stroke-width="1.8" stroke-linejoin="round"/>
<path d="M480 819.8C478.3 823.2 471.7 832 470 840C468.4 848.1 468.5 860.6 470 868C471.6 875.5 476.7 881.6 479.4 884.5C482.1 887.5 485.1 885.6 486.2 885.8L486.2 885.8C487.5 884.9 490.9 884.5 493.7 880.5C496.5 876.5 501.2 869.1 503 861.8C504.8 854.5 504.8 844.6 504.3 836.9C503.7 829.2 500.4 819.3 499.6 815.8" fill="none" stroke="#d8281a" stroke-width="1.8" stroke-linejoin="round"/>
</g>
<g id="grey">
<path d="M370.7 185.1L371.9 184.7L373.5 184L375.3 183.3L377.4 182.4L379.5 181.5L381.7 180.6L383.8 179.8L385.8 179L387.6 178.4L389.4 177.7L391.2 177.1L392.9 176.5L394.7 175.9L396.6 175.4L398.5 174.9L400.6 174.4L402.8 173.9L405.1 173.4L407.5 173L409.9 172.5L412.5 172.1L415 171.7L417.7 171.4L420.3 171.1L423 170.8L425.8 170.5L428.7 170.3L431.6 170L434.5 169.9L437.3 169.8L440.2 169.7L443 169.7L445.7 169.8L448.4 169.9L451.1 170.1L453.8 170.3L456.5 170.6L459.2 171L461.9 171.3L464.6 171.8L467.2 172.2L469.9 172.8L472.5 173.3L475.2 173.9L477.8 174.6L480.6 175.3L483.4 176L486.3 176.8L489.2 177.6L492.3 178.5L495.4 179.4L498.5 180.3L501.7 181.3L504.9 182.3L508 183.3L511 184.3L514.2 185.4L517.6 186.7L521.1 188L524.5 189.3L527.7 190.5L530.6 191.6L533.1 192.6L534.9 193.3L537.1 187.7L535.2 187L532.8 186.1L529.9 184.9L526.6 183.7L523.2 182.4L519.7 181L516.2 179.8L513 178.7L509.8 177.6L506.6 176.6L503.4 175.6L500.2 174.7L497 173.7L493.9 172.8L490.8 172L487.7 171.2L484.8 170.4L482 169.7L479.2 169L476.5 168.4L473.7 167.8L471 167.2L468.2 166.7L465.4 166.2L462.7 165.8L459.9 165.5L457.1 165.1L454.3 164.9L451.5 164.6L448.7 164.5L445.9 164.4L443 164.3L440.1 164.3L437.2 164.4L434.2 164.6L431.2 164.8L428.2 165L425.3 165.3L422.5 165.6L419.7 165.9L417 166.3L414.3 166.7L411.7 167.1L409.1 167.5L406.5 168L404.1 168.5L401.7 169.1L399.4 169.6L397.3 170.2L395.2 170.8L393.3 171.5L391.4 172.1L389.6 172.8L387.8 173.5L386 174.2L384.2 175L382.2 175.8L380.1 176.7L377.9 177.7L375.8 178.7L373.7 179.7L371.9 180.6L370.4 181.3L369.3 181.9Z" fill="#3d4148"/>
<ellipse cx="543" cy="191.5" rx="3.8" ry="2.7" transform="rotate(30 543 191.5)" fill="#3d4148"/>
<ellipse cx="550.2" cy="194.8" rx="3.7" ry="2.7" transform="rotate(30 550.2 194.8)" fill="#3d4148"/>
<ellipse cx="557.1" cy="198.1" rx="3.6" ry="2.6" transform="rotate(30 557.1 198.1)" fill="#3d4148"/>
<ellipse cx="564.8" cy="201.9" rx="3.5" ry="2.5" transform="rotate(30 564.8 201.9)" fill="#3d4148"/>
<ellipse cx="571.9" cy="205.5" rx="3.4" ry="2.4" transform="rotate(30 571.9 205.5)" fill="#3d4148"/>
<ellipse cx="579" cy="209.4" rx="3.3" ry="2.4" transform="rotate(30 579 209.4)" fill="#3d4148"/>
<ellipse cx="586" cy="213.5" rx="3.2" ry="2.3" transform="rotate(30 586 213.5)" fill="#3d4148"/>
<ellipse cx="593" cy="217.9" rx="3.1" ry="2.2" transform="rotate(30 593 217.9)" fill="#3d4148"/>
<ellipse cx="600" cy="222.5" rx="3" ry="2.2" transform="rotate(30 600 222.5)" fill="#3d4148"/>
<ellipse cx="606.8" cy="227.3" rx="2.9" ry="2.1" transform="rotate(30 606.8 227.3)" fill="#3d4148"/>
<ellipse cx="613.8" cy="232.5" rx="2.8" ry="2" transform="rotate(30 613.8 232.5)" fill="#3d4148"/>
<ellipse cx="620.5" cy="237.5" rx="2.7" ry="1.9" transform="rotate(30 620.5 237.5)" fill="#3d4148"/>
<path d="M227.2 472.1L228 473.1L229 474.4L230.2 476L231.5 477.7L232.9 479.6L234.4 481.4L235.9 483.2L237.4 484.8L238.9 486.3L240.4 487.8L241.9 489.2L243.5 490.7L245.1 492.1L246.7 493.5L248.3 494.8L249.9 496L251.5 497.2L253 498.3L254.6 499.4L256.1 500.4L257.7 501.3L259.3 502.3L260.8 503.2L262.4 504.1L263.9 504.9L265.3 505.7L266.7 506.5L268.1 507.2L269.6 508L271.3 508.8L273.3 509.6L275.5 510.5L278.1 511.6L280.9 512.7L284 513.9L287.2 515.2L290.6 516.4L294.1 517.7L297.6 518.9L301.1 520L304.7 521.1L308.3 522.1L311.9 523.2L315.7 524.2L319.5 525.2L323.5 526.1L327.6 527L331.9 527.8L336.3 528.5L340.9 529.1L345.6 529.7L350.4 530.2L355.4 530.7L360.3 531.2L365.4 531.6L370.4 531.9L375.6 532.2L380.8 532.5L386.2 532.7L391.6 532.8L397 532.9L402.4 533L407.8 532.9L413.1 532.8L418.6 532.5L424.5 532L430.5 531.5L436.4 530.9L441.9 530.3L446.9 529.7L451.1 529.2L454.2 528.8L453.8 524.4L450.6 524.6L446.4 525.1L441.4 525.6L435.9 526.1L430.1 526.7L424.1 527.2L418.3 527.6L412.9 527.8L407.7 527.9L402.4 527.9L397.1 527.9L391.7 527.7L386.4 527.5L381.1 527.3L375.9 527L370.8 526.7L365.8 526.4L360.8 526L355.8 525.5L351 525.1L346.2 524.5L341.6 524L337.1 523.3L332.7 522.6L328.6 521.9L324.5 521.2L320.6 520.3L316.8 519.4L313.2 518.5L309.5 517.6L306 516.6L302.5 515.6L299 514.5L295.5 513.4L292.1 512.3L288.7 511.1L285.5 509.9L282.5 508.7L279.6 507.6L277.1 506.7L274.9 505.8L273 505L271.3 504.3L269.9 503.6L268.5 502.9L267.1 502.3L265.7 501.5L264.2 500.7L262.6 499.9L261.1 499.1L259.5 498.2L258 497.3L256.5 496.4L254.9 495.5L253.4 494.5L251.9 493.4L250.3 492.2L248.7 491L247.1 489.7L245.5 488.4L243.9 487L242.4 485.6L240.9 484.2L239.4 482.8L237.9 481.3L236.4 479.7L234.8 477.9L233.3 476.2L231.9 474.6L230.7 473.1L229.6 471.8L228.8 470.9Z" fill="#3d4148"/>
<path d="M216.4 933.1L217.6 931.8L219.2 929.9L221 927.7L223.1 925.3L225.2 922.8L227.5 920.3L229.7 917.9L231.8 915.7L233.8 913.7L235.9 911.8L237.9 910L240 908.1L242.2 906.2L244.5 904.3L246.9 902.2L249.4 900.1L251.9 897.8L254.6 895.4L257.3 892.9L260.1 890.4L262.9 887.8L265.8 885.3L268.8 882.7L271.8 880.2L275 877.7L278.1 875.2L281.3 872.6L284.6 870.1L288 867.6L291.4 865.2L294.9 862.8L298.5 860.6L302.4 858.4L306.4 856.2L310.7 854L315 851.9L319.3 849.9L323.5 848L327.5 846.2L331.2 844.5L334.6 843.1L337.7 841.8L340.7 840.6L343.6 839.5L346.4 838.5L349.1 837.6L351.9 836.7L354.7 835.8L357.7 834.9L360.9 834L364.1 833.1L367.4 832.3L370.4 831.6L373.1 830.9L375.5 830.3L377.2 829.9L375.8 824.1L374 824.5L371.7 825.1L369 825.7L365.9 826.5L362.6 827.3L359.3 828.2L356 829.1L352.9 830L350 831L347.2 831.9L344.4 832.9L341.5 833.9L338.6 835L335.5 836.2L332.3 837.6L328.8 839.1L325.1 840.7L321 842.5L316.8 844.5L312.4 846.5L308 848.6L303.7 850.9L299.4 853.1L295.5 855.4L291.7 857.8L288 860.3L284.5 862.8L281.1 865.4L277.7 868L274.5 870.6L271.3 873.2L268.2 875.8L265.1 878.3L262.1 880.9L259.1 883.5L256.2 886.1L253.5 888.7L250.8 891.2L248.1 893.6L245.6 895.9L243.2 898.1L240.9 900.2L238.7 902.2L236.5 904.1L234.4 906.1L232.3 908.1L230.2 910.1L228.2 912.3L226.1 914.7L224 917.3L221.8 920L219.8 922.7L217.8 925.2L216.1 927.5L214.7 929.4L213.6 930.9Z" fill="#3d4148"/>
<path d="M426.1 822.8L427.8 822.7L430.3 822.6L433.3 822.5L436.6 822.4L439.8 822.3L442.8 822.2L445.3 822.1L447.1 822L446.9 817.6L445.2 817.6L442.7 817.6L439.7 817.6L436.4 817.7L433.2 817.7L430.2 817.8L427.7 817.8L425.9 817.8Z" fill="#3d4148"/>
<path d="M582.1 861.2L584.3 862L587.2 863L590.7 864.2L594.5 865.5L598.5 866.9L602.5 868.4L606.2 870L609.6 871.6L612.7 873.3L615.7 875.1L618.8 877.1L621.7 879.1L624.6 881.2L627.4 883.4L630.1 885.5L632.6 887.7L635 889.9L637.5 892.3L639.9 894.9L642.2 897.5L644.3 900L646.2 902.3L647.8 904.2L649.1 905.6L652.9 902.4L651.7 900.9L650.2 899L648.4 896.6L646.3 894L644 891.3L641.6 888.5L639 885.8L636.4 883.3L633.8 881.1L631 878.8L628.1 876.6L625.1 874.4L622 872.2L618.8 870.2L615.5 868.2L612.2 866.4L608.6 864.7L604.6 863.1L600.5 861.5L596.4 860.1L592.5 858.8L589 857.6L586.1 856.7L583.9 856Z" fill="#3d4148"/>
</g>
<g id="black">
<path d="M295.6 222.2C293.8 220.5 288.8 216.3 284.9 211.7C281 207.2 276.1 199.2 272.1 194.8C268.1 190.3 265.3 188.3 260.8 184.9C256.3 181.4 249.7 177.3 245.3 174.1C240.8 170.9 237.2 167.4 233.9 165.6C230.6 163.9 227.7 163.3 225.5 163.6C223.2 164 221.1 166 220.7 167.9C220.2 169.8 220.9 172.8 222.6 175C224.4 177.1 227.8 178.5 231.1 180.6C234.4 182.7 238.9 184.4 242.4 187.7C246 191 249.3 195.9 252.3 200.4C255.4 204.9 257.8 209.9 260.8 214.6C263.9 219.3 268.4 224.9 270.7 228.7C273.1 232.5 274.3 235.8 275 237.2" fill="none" stroke="#141414" stroke-width="1.5" stroke-linecap="round" stroke-linejoin="round"/>
<path d="M249.1 184.8C247.9 185.9 246 187 244.7 187.3C243.4 187.6 242 187.4 241.4 186.8C240.8 186.1 240.8 184.7 241.2 183.5C241.7 182.2 243 180.4 244.2 179.3C245.5 178.2 247.4 177.1 248.7 176.8C249.9 176.4 251.4 176.7 251.9 177.3C252.5 177.9 252.6 179.4 252.1 180.6C251.7 181.9 250.4 183.7 249.1 184.8Z" fill="none" stroke="#141414" stroke-width="1.3" stroke-linecap="round" stroke-linejoin="round"/>
<path d="M266.4 210.4C264.2 211.4 261.1 212 259.2 211.9C257.3 211.8 255.4 210.8 254.9 209.7C254.4 208.5 254.9 206.5 256.1 205C257.3 203.5 259.8 201.6 262 200.6C264.2 199.6 267.3 199 269.2 199.1C271.2 199.2 273 200.2 273.5 201.4C274 202.5 273.5 204.6 272.3 206.1C271.2 207.6 268.6 209.5 266.4 210.4Z" fill="none" stroke="#141414" stroke-width="1.3" stroke-linecap="round" stroke-linejoin="round"/>
<path d="M271.8 212.1C269.7 213 266.8 213.6 264.9 213.5C263.1 213.3 261.3 212.3 260.8 211.1C260.3 210 260.7 208 261.8 206.5C262.9 205 265.3 203.2 267.4 202.3C269.5 201.4 272.4 200.8 274.3 201C276.1 201.1 277.9 202.1 278.4 203.3C278.9 204.5 278.4 206.4 277.3 207.9C276.2 209.4 273.8 211.2 271.8 212.1Z" fill="none" stroke="#141414" stroke-width="1.3" stroke-linecap="round" stroke-linejoin="round"/>
<path d="M297.6 180.6C295.5 178.7 288.9 173.3 284.9 169.3C280.9 165.3 277.1 160.6 273.6 156.6C270 152.6 266.9 148.3 263.6 145.3C260.3 142.2 257 140.1 253.7 138.2C250.4 136.3 246.5 134.2 243.8 133.9C241.2 133.7 238.8 135.1 237.6 136.8C236.4 138.4 235.5 141.5 236.8 143.8C238 146.2 242 148.1 245.3 150.9C248.6 153.7 253.5 157.8 256.6 160.8C259.6 163.9 261.3 165.8 263.6 169.3C266 172.8 267.7 177.3 270.7 182C273.8 186.8 278.3 191.9 282 197.6C285.8 203.3 290.8 211.7 293.4 216C295.9 220.2 296.9 221.9 297.6 223.1" fill="none" stroke="#141414" stroke-width="1.5" stroke-linecap="round" stroke-linejoin="round"/>
<path d="M266.7 157.9C265.2 158.9 262.8 159.7 261.3 159.8C259.8 159.9 258.3 159.4 257.8 158.5C257.3 157.7 257.4 156 258.2 154.7C258.9 153.4 260.7 151.7 262.2 150.7C263.8 149.7 266.2 148.9 267.7 148.8C269.2 148.7 270.7 149.3 271.2 150.1C271.7 151 271.6 152.6 270.8 153.9C270.1 155.2 268.3 156.9 266.7 157.9Z" fill="none" stroke="#141414" stroke-width="1.3" stroke-linecap="round" stroke-linejoin="round"/>
<path d="M270.3 159.9C268.9 160.8 266.8 161.5 265.4 161.6C264.1 161.7 262.7 161.1 262.2 160.3C261.7 159.5 261.8 158 262.5 156.9C263.1 155.7 264.7 154.1 266.1 153.2C267.5 152.3 269.6 151.6 270.9 151.6C272.3 151.5 273.7 152 274.2 152.8C274.7 153.6 274.6 155.1 273.9 156.3C273.3 157.5 271.7 159.1 270.3 159.9Z" fill="none" stroke="#141414" stroke-width="1.3" stroke-linecap="round" stroke-linejoin="round"/>
<path d="M289.4 186.6C287.4 187.6 284.6 188.4 282.9 188.4C281.1 188.4 279.4 187.7 278.9 186.7C278.4 185.7 278.7 183.9 279.7 182.4C280.7 181 282.9 179.1 284.9 178.1C286.8 177 289.6 176.2 291.4 176.2C293.1 176.2 294.8 176.9 295.4 177.9C295.9 178.9 295.6 180.8 294.6 182.2C293.6 183.7 291.3 185.5 289.4 186.6Z" fill="none" stroke="#141414" stroke-width="1.3" stroke-linecap="round" stroke-linejoin="round"/>
<path d="M293.8 188.6C292 189.5 289.3 190.3 287.7 190.3C286 190.3 284.4 189.6 283.9 188.7C283.4 187.8 283.7 186 284.7 184.7C285.6 183.3 287.7 181.6 289.5 180.6C291.4 179.6 294 178.9 295.6 178.8C297.3 178.8 298.9 179.5 299.4 180.5C299.9 181.4 299.6 183.1 298.6 184.5C297.7 185.8 295.6 187.6 293.8 188.6Z" fill="none" stroke="#141414" stroke-width="1.3" stroke-linecap="round" stroke-linejoin="round"/>
<path d="M280.1 128.3C278.7 127.6 274.7 124.5 272.1 124C269.5 123.6 266.1 124.3 264.5 125.5C262.8 126.6 261.7 129 262.2 131.1C262.8 133.2 265.5 136.1 267.9 138.2C270.2 140.3 274 142.1 276.4 143.8C278.7 145.6 281.1 147.9 282 148.7" fill="none" stroke="#141414" stroke-width="1.5" stroke-linecap="round" stroke-linejoin="round"/>
<path d="M277.8 142.4L282 148.7L282.9 141" fill="none" stroke="#141414" stroke-width="1.5" stroke-linecap="round" stroke-linejoin="round"/>
<path d="M297.6 121.2C298.1 120.3 298.8 116.5 300.4 115.6C302.1 114.6 304.9 114.6 307.5 115.6C310.1 116.5 313.2 118.6 316 121.2C318.8 123.8 321.6 127.6 324.5 131.1C327.3 134.7 329.7 138.7 333 142.4C336.3 146.2 340.5 149.7 344.3 153.7C348 157.8 351.8 162.2 355.6 166.5C359.4 170.7 363.1 175.2 366.9 179.2C370.7 183.2 374.4 186.5 378.2 190.5C382 194.5 385.9 198.5 389.5 203.3C393.2 208 398.3 216.2 400 218.8" fill="none" stroke="#141414" stroke-width="1.5" stroke-linecap="round" stroke-linejoin="round"/>
<path d="M297.6 121.2C298.1 122.2 298.5 125 300.4 126.9C302.3 128.8 306.3 130.4 308.9 132.5C311.5 134.7 313.4 136.5 316 139.6C318.6 142.7 321.6 147.1 324.5 150.9C327.3 154.7 330.1 158.2 333 162.2C335.8 166.2 338.6 170.5 341.4 175C344.3 179.4 347.9 186 349.9 189.1C351.9 192.3 352.8 193.1 353.3 193.9" fill="none" stroke="#141414" stroke-width="1.5" stroke-linecap="round" stroke-linejoin="round"/>
<path d="M318.1 137C316.7 138 314.6 138.9 313.2 139.1C311.9 139.3 310.5 138.9 310 138.2C309.5 137.5 309.6 136 310.2 134.8C310.9 133.6 312.5 131.9 313.9 130.9C315.3 129.9 317.4 129 318.8 128.8C320.1 128.6 321.5 129 322 129.7C322.5 130.4 322.4 131.9 321.7 133.1C321.1 134.3 319.5 136 318.1 137Z" fill="none" stroke="#141414" stroke-width="1.3" stroke-linecap="round" stroke-linejoin="round"/>
<path d="M321.3 139C320 139.9 318.1 140.7 316.8 140.9C315.6 141.1 314.3 140.8 313.8 140.1C313.4 139.4 313.5 138.1 314.1 137C314.7 135.9 316.1 134.3 317.4 133.4C318.7 132.5 320.7 131.7 321.9 131.5C323.2 131.3 324.5 131.7 324.9 132.3C325.4 133 325.3 134.3 324.7 135.4C324.1 136.5 322.6 138.1 321.3 139Z" fill="none" stroke="#141414" stroke-width="1.3" stroke-linecap="round" stroke-linejoin="round"/>
<path d="M337.9 158.1C335.9 159.3 333 160.4 331.2 160.5C329.3 160.7 327.5 160 326.8 159C326.2 158 326.4 156 327.4 154.4C328.3 152.8 330.5 150.7 332.5 149.4C334.5 148.2 337.4 147.1 339.2 147C341.1 146.8 343 147.5 343.6 148.5C344.3 149.5 344 151.5 343.1 153.1C342.1 154.7 339.9 156.8 337.9 158.1Z" fill="none" stroke="#141414" stroke-width="1.3" stroke-linecap="round" stroke-linejoin="round"/>
<path d="M341.7 160.4C339.9 161.5 337.1 162.5 335.4 162.7C333.6 162.8 331.9 162.2 331.3 161.2C330.7 160.3 330.9 158.4 331.8 156.9C332.7 155.4 334.8 153.4 336.6 152.2C338.5 151 341.2 150.1 343 149.9C344.7 149.8 346.5 150.4 347.1 151.3C347.7 152.3 347.5 154.2 346.6 155.7C345.7 157.2 343.6 159.2 341.7 160.4Z" fill="none" stroke="#141414" stroke-width="1.3" stroke-linecap="round" stroke-linejoin="round"/>
<path d="M275 237.2C275.7 239.3 277.6 245.5 279.2 249.9C280.9 254.4 283.2 259.4 284.9 264.1C286.5 268.8 287.7 273.5 289.1 278.2C290.5 282.9 291.7 288.5 293.4 292.4C295 296.2 298.1 299.9 299 301.4" fill="none" stroke="#141414" stroke-width="1.5" stroke-linecap="round" stroke-linejoin="round"/>
<path d="M284.9 264.1C286.3 263.7 290.8 262.8 293.4 261.8C295.9 260.9 299.2 259 300.4 258.4" fill="none" stroke="#141414" stroke-width="1.5" stroke-linecap="round" stroke-linejoin="round"/>
<path d="M299.6 287.3C301.6 285.5 307.6 279.8 311.7 276.8C315.9 273.8 321 269.8 324.5 269.2C327.9 268.6 331.1 272.5 332.4 273.1" fill="none" stroke="#141414" stroke-width="1.5" stroke-linecap="round" stroke-linejoin="round"/>
<path d="M350.8 277.7C351.3 276.8 352.7 273.6 354.2 272.6C355.7 271.5 357.2 270 359.8 271.4C362.4 272.8 365.7 277.9 369.7 281C373.7 284.2 379.2 287.9 383.9 290.1C388.6 292.3 395.7 293.4 398 294.1" fill="none" stroke="#141414" stroke-width="1.5" stroke-linecap="round" stroke-linejoin="round"/>
<path d="M299 197.6C302.3 202.5 311.7 216 318.8 227.3C325.9 238.6 337.7 259.1 341.4 265.5" fill="none" stroke="#141414" stroke-width="1.5" stroke-linecap="round" stroke-linejoin="round"/>
<path d="M338 254.2L341.4 266.3L346 255.6" fill="none" stroke="#141414" stroke-width="1.5" stroke-linecap="round" stroke-linejoin="round"/>
<path d="M371.4 187.1C371.4 187.8 371 188.6 370.6 189.1C370.1 189.5 369.3 189.9 368.6 189.9C367.9 189.9 367.1 189.5 366.6 189.1C366.2 188.6 365.8 187.8 365.8 187.1C365.8 186.4 366.2 185.6 366.6 185.1C367.1 184.7 367.9 184.3 368.6 184.3C369.3 184.3 370.1 184.7 370.6 185.1C371 185.6 371.4 186.4 371.4 187.1Z" fill="none" stroke="#141414" stroke-width="1.3" stroke-linecap="round" stroke-linejoin="round"/>
<path d="M365.8 205.5C365.8 206 365.5 206.7 365.1 207.1C364.7 207.5 364 207.8 363.5 207.8C363 207.8 362.3 207.5 361.9 207.1C361.5 206.7 361.2 206 361.2 205.5C361.2 205 361.5 204.3 361.9 203.9C362.3 203.5 363 203.2 363.5 203.2C364 203.2 364.7 203.5 365.1 203.9C365.5 204.3 365.8 205 365.8 205.5Z" fill="none" stroke="#141414" stroke-width="1.3" stroke-linecap="round" stroke-linejoin="round"/>
<path d="M400.2 220C402.6 222.8 410.6 229.6 414.7 236.8C418.7 244 422.3 255.3 424.3 263.3C426.3 271.3 427.5 278.9 426.7 284.9C425.9 290.9 423.1 295.5 419.5 299.3C415.9 303.2 407.4 306.4 405 307.8" fill="none" stroke="#141414" stroke-width="1.5" stroke-linecap="round" stroke-linejoin="round"/>
<path d="M426.7 285C427.2 285.4 427.6 284.1 430 287.6C432.4 291.1 437.6 301.1 441 306C444.4 310.9 446.5 311.8 450.2 317C453.9 322.2 459 330.5 463 337.2C467 343.9 470.6 351 474 357.4C477.4 363.8 481.8 372.7 483.3 375.8" fill="none" stroke="#141414" stroke-width="1.5" stroke-linecap="round" stroke-linejoin="round"/>
<path d="M479.3 366.6L483.3 376.2L486 365.7" fill="none" stroke="#141414" stroke-width="1.5" stroke-linecap="round" stroke-linejoin="round"/>
<path d="M436 403C438.4 400.7 445.9 393.3 450.6 389.3C455.3 385.3 460.8 380.4 464.2 379C467.6 377.6 469.6 380.1 471 380.8C472.4 381.5 472.4 382.9 472.7 383.3" fill="none" stroke="#141414" stroke-width="1.5" stroke-linecap="round" stroke-linejoin="round"/>
<path d="M492.2 387.6C492.6 386.8 493.5 383.4 494.8 382.5C496.1 381.6 497.5 381.1 500 382.5C502.5 383.9 505.2 387.8 510 391C514.8 394.2 525.7 400.2 528.8 402" fill="none" stroke="#141414" stroke-width="1.5" stroke-linecap="round" stroke-linejoin="round"/>
<path d="M532.2 316.2L499.9 333.2" fill="none" stroke="#141414" stroke-width="1.5" stroke-linecap="round" stroke-linejoin="round"/>
<path d="M503 328L499.9 333.2L505.5 333.5" fill="none" stroke="#141414" stroke-width="1.5" stroke-linecap="round" stroke-linejoin="round"/>
<path d="M301.2 287.8C304.8 284.9 318.2 272.8 323.3 270.5C328.4 268.2 330.3 273.5 331.7 274.1" fill="none" stroke="#141414" stroke-width="1.5" stroke-linecap="round" stroke-linejoin="round"/>
<path d="M350.9 277.7C351.9 276.9 352.7 271.9 356.9 272.9C361.2 273.9 369.4 280.3 376.2 283.7C383 287.1 394.2 291.7 397.8 293.3" fill="none" stroke="#141414" stroke-width="1.5" stroke-linecap="round" stroke-linejoin="round"/>
<path d="M280 251.3C281.2 253.5 284.8 258.1 287.2 264.5C289.6 270.9 292.2 284.9 294.4 289.7C296.6 294.5 299.4 292.7 300.4 293.3" fill="none" stroke="#141414" stroke-width="1.5" stroke-linecap="round" stroke-linejoin="round"/>
<path d="M287.2 264.5L302.8 257.3" fill="none" stroke="#141414" stroke-width="1.5" stroke-linecap="round" stroke-linejoin="round"/>
<path d="M280 309C282 308.2 288.2 307.4 292 304.2C295.8 301 301 292.1 302.8 289.7" fill="none" stroke="#141414" stroke-width="1.5" stroke-linecap="round" stroke-linejoin="round"/>
<path d="M316.1 220L342.5 265.7" fill="none" stroke="#141414" stroke-width="1.5" stroke-linecap="round" stroke-linejoin="round"/>
<path d="M338.4 256.1L342.5 266.2L345.4 256.1" fill="none" stroke="#141414" stroke-width="1.5" stroke-linecap="round" stroke-linejoin="round"/>
<path d="M298 337.8L308.9 329.4" fill="none" stroke="#141414" stroke-width="1.5" stroke-linecap="round" stroke-linejoin="round"/>
<path d="M299.2 340.9L310.5 331.1" fill="none" stroke="#141414" stroke-width="1.5" stroke-linecap="round" stroke-linejoin="round"/>
<path d="M280 343.8L296.8 348.6" fill="none" stroke="#141414" stroke-width="1.5" stroke-linecap="round" stroke-linejoin="round"/>
<path d="M293.2 360.7C293.8 363.3 295 371.4 296.8 376.3C298.6 381.2 302.8 387.7 304 390" fill="none" stroke="#141414" stroke-width="1.5" stroke-linecap="round" stroke-linejoin="round"/>
<path d="M326.9 324.6C329.1 324.6 335.9 322 340.1 324.6C344.3 327.2 349.1 334 352.1 340.2C355.1 346.4 357.9 355.1 358.1 361.9C358.3 368.7 354.1 377.9 353.3 381.1" fill="none" stroke="#141414" stroke-width="1.5" stroke-linecap="round" stroke-linejoin="round"/>
<path d="M343.7 327C346.3 330 355.7 338.8 359.3 345C363 351.2 365.4 358.7 365.4 364.3C365.4 369.9 362.8 374.9 359.3 378.7C355.9 382.5 347.3 385.7 344.9 387.1" fill="none" stroke="#141414" stroke-width="1.5" stroke-linecap="round" stroke-linejoin="round"/>
<path d="M372.6 363.1C374.4 364.9 380.4 369.4 383.4 373.9C386.4 378.4 389.4 387.3 390.6 390" fill="none" stroke="#141414" stroke-width="1.5" stroke-linecap="round" stroke-linejoin="round"/>
<path d="M291.4 300C288.6 301.2 281.5 304.7 274.5 307.1C267.4 309.4 257.7 312 249 314.1C240.3 316.3 227.3 318.4 222.1 319.8C216.9 321.2 218.6 322.2 217.9 322.6" fill="none" stroke="#141414" stroke-width="1.5" stroke-linecap="round" stroke-linejoin="round"/>
<path d="M217.9 322.6C218 324 218.5 328.5 218.7 331.1C219 333.7 219.2 337 219.3 338.2" fill="none" stroke="#141414" stroke-width="1.5" stroke-linecap="round" stroke-linejoin="round"/>
<path d="M219.3 338.2C223.3 338.4 234.6 338.9 243.4 339.6C252.1 340.3 262.7 340.8 271.6 342.4C280.6 344.1 292.9 348.3 297.1 349.5" fill="none" stroke="#141414" stroke-width="1.5" stroke-linecap="round" stroke-linejoin="round"/>
<path d="M217.9 331.1C215.1 331.8 206.6 333.2 200.9 335.4C195.3 337.5 189.1 341.3 183.9 343.8C178.8 346.4 172.2 349.7 169.8 350.9" fill="none" stroke="#141414" stroke-width="1.5" stroke-linecap="round" stroke-linejoin="round"/>
<path d="M169.8 350.9L174 353.2" fill="none" stroke="#141414" stroke-width="1.5" stroke-linecap="round" stroke-linejoin="round"/>
<path d="M292.9 360.8C293.6 363.4 295.2 371.9 297.1 376.4C299 380.9 300.9 384.6 304.2 387.7C307.5 390.8 312.4 393.1 316.9 394.8C321.4 396.4 327.3 395.5 331 397.6C334.8 399.7 338.1 405.8 339.5 407.5" fill="none" stroke="#141414" stroke-width="1.5" stroke-linecap="round" stroke-linejoin="round"/>
<path d="M374.2 362.4C377 367.2 385.8 380.8 391 391.3C396.2 401.7 400.2 412.5 405.4 424.9C410.6 437.3 419.4 459 422.2 465.8" fill="none" stroke="#141414" stroke-width="1.5" stroke-linecap="round" stroke-linejoin="round"/>
<path d="M415.5 455L422.2 466.3L423.7 456.7" fill="none" stroke="#141414" stroke-width="1.5" stroke-linecap="round" stroke-linejoin="round"/>
<path d="M425.9 474.2C425.1 474.8 420.4 474.4 421 477.8C421.6 481.2 426.5 488.6 429.5 494.7C432.5 500.7 434.7 508.7 439.1 513.9C443.5 519.1 453.1 523.9 455.9 525.9" fill="none" stroke="#141414" stroke-width="1.5" stroke-linecap="round" stroke-linejoin="round"/>
<path d="M431.8 453.5C432.1 455.8 432.8 462.4 433.8 467.3C434.8 472.3 436.1 478.2 437.7 483.2C439.4 488.1 441 493.6 443.7 497C446.3 500.5 449.9 502.5 453.6 504C457.2 505.4 462.5 505.1 465.4 505.9C468.4 506.8 469.2 507.4 471.4 508.9C473.5 510.4 477.2 513.9 478.3 514.9" fill="none" stroke="#141414" stroke-width="1.5" stroke-linecap="round" stroke-linejoin="round"/>
<path d="M439.2 434.7C438.6 436 437.6 437.6 437 438.3C436.3 439.1 435.6 439.6 435.2 439.4C434.9 439.3 434.8 438.4 434.9 437.4C435.1 436.4 435.7 434.7 436.3 433.4C436.9 432.1 437.8 430.6 438.5 429.8C439.1 429 439.9 428.5 440.2 428.7C440.6 428.8 440.7 429.7 440.5 430.7C440.3 431.7 439.8 433.5 439.2 434.7Z" fill="none" stroke="#141414" stroke-width="1.3" stroke-linecap="round" stroke-linejoin="round"/>
<path d="M448.5 440.4C448.7 440.7 448.1 441.7 447.1 442.7C446.2 443.7 444.2 445.3 442.6 446.4C441 447.6 438.8 448.9 437.5 449.4C436.2 450 435.1 450.2 434.9 449.9C434.7 449.6 435.2 448.6 436.2 447.6C437.2 446.6 439.2 445 440.8 443.9C442.4 442.7 444.6 441.4 445.9 440.9C447.1 440.3 448.3 440.1 448.5 440.4Z" fill="none" stroke="#141414" stroke-width="1.3" stroke-linecap="round" stroke-linejoin="round"/>
<path d="M447.8 462.4C447.8 462.9 447.5 463.6 447.2 463.9C446.8 464.3 446.2 464.6 445.6 464.6C445.1 464.6 444.5 464.3 444.1 463.9C443.7 463.6 443.5 462.9 443.5 462.4C443.5 461.9 443.7 461.2 444.1 460.8C444.5 460.5 445.1 460.2 445.6 460.2C446.2 460.2 446.8 460.5 447.2 460.8C447.5 461.2 447.8 461.9 447.8 462.4Z" fill="none" stroke="#141414" stroke-width="1.5" stroke-linecap="round" stroke-linejoin="round"/>
<path d="M478.9 458.6C478.9 459 478.7 459.6 478.3 459.9C478 460.3 477.2 460.7 476.6 460.8C476 460.9 475.2 460.8 474.8 460.6C474.3 460.3 473.9 459.9 473.8 459.5C473.7 459 474 458.5 474.3 458.1C474.7 457.7 475.4 457.4 476 457.3C476.6 457.1 477.4 457.2 477.9 457.5C478.4 457.7 478.8 458.1 478.9 458.6Z" fill="none" stroke="#141414" stroke-width="1.5" stroke-linecap="round" stroke-linejoin="round"/>
<path d="M459.4 488.1C459.5 488.4 458.8 489.1 457.9 489.5C457 489.9 455.2 490.4 453.8 490.7C452.5 490.9 450.6 491 449.6 490.9C448.6 490.9 447.8 490.5 447.7 490.1C447.6 489.8 448.3 489.2 449.2 488.7C450.2 488.3 451.9 487.8 453.3 487.5C454.7 487.3 456.5 487.2 457.5 487.3C458.5 487.4 459.3 487.7 459.4 488.1Z" fill="none" stroke="#141414" stroke-width="1.5" stroke-linecap="round" stroke-linejoin="round"/>
<path d="M464.5 437.2C466.3 436.6 471.6 433.4 475.3 433.7C479.1 433.9 483.9 435.6 487.2 438.6C490.5 441.6 493 446.7 495.1 451.5C497.3 456.3 499.4 462.4 500.1 467.3C500.8 472.3 500.3 477.1 499.1 481.2C498 485.3 495.3 489.4 493.2 492.1C491 494.7 487.4 496.2 486.2 497" fill="none" stroke="#141414" stroke-width="1.5" stroke-linecap="round" stroke-linejoin="round"/>
<path d="M486.2 416.8C487.4 418.3 490.7 422.8 493.2 425.7C495.6 428.7 499.1 432.8 501.1 434.7C503.1 436.5 504.4 436.3 505 436.6" fill="none" stroke="#141414" stroke-width="1.5" stroke-linecap="round" stroke-linejoin="round"/>
<path d="M507.4 436.6C507.4 437.1 507.2 437.7 506.8 438C506.5 438.4 505.9 438.6 505.4 438.6C505 438.6 504.4 438.4 504 438C503.7 437.7 503.5 437.1 503.5 436.6C503.5 436.2 503.7 435.6 504 435.2C504.4 434.9 505 434.7 505.4 434.7C505.9 434.7 506.5 434.9 506.8 435.2C507.2 435.6 507.4 436.2 507.4 436.6Z" fill="none" stroke="#141414" stroke-width="1.8" stroke-linecap="round" stroke-linejoin="round"/>
<path d="M467.4 506.9C467.8 508.9 468.7 515.2 469.4 518.8C470.1 522.4 471.1 527.1 471.4 528.7" fill="none" stroke="#141414" stroke-width="1.5" stroke-linecap="round" stroke-linejoin="round"/>
<path d="M450.6 538.6L459.5 530.7" fill="none" stroke="#141414" stroke-width="1.5" stroke-linecap="round" stroke-linejoin="round"/>
<path d="M512 518.8C514.8 518.7 522.5 517.4 528.8 518.4C535.1 519.4 546.5 523.7 550 524.8" fill="none" stroke="#141414" stroke-width="1.6" stroke-linecap="round" stroke-linejoin="round"/>
<path d="M512 518.8C514.1 520.1 520.7 523.8 524.9 526.7C529 529.7 533.4 534.3 536.7 536.6C540 539 543.3 540.3 544.7 541" fill="none" stroke="#141414" stroke-width="1.6" stroke-linecap="round" stroke-linejoin="round"/>
<path d="M509 475.2C509.7 476.9 512.1 481.8 513 485.1C513.8 488.4 513.6 492.4 514 495C514.3 497.7 514.8 500 515 501" fill="none" stroke="#141414" stroke-width="0.8" stroke-linecap="round" stroke-linejoin="round"/>
<path d="M485.6 503L487.2 507.9" fill="none" stroke="#141414" stroke-width="2" stroke-linecap="round" stroke-linejoin="round"/>
<path d="M478.3 475.2L480.3 478.2" fill="none" stroke="#141414" stroke-width="1.5" stroke-linecap="round" stroke-linejoin="round"/>
<path d="M481.3 441.6L483.7 445.1" fill="none" stroke="#141414" stroke-width="1.5" stroke-linecap="round" stroke-linejoin="round"/>
<path d="M536.1 409.1C536.9 404.2 539.3 403.2 542.1 401.4C544.9 399.6 552.9 396.9 557.4 395.5C561.9 394.1 572 391.5 576.1 391.2C580.2 390.9 585.5 391.7 588 393C590.5 394.3 593.6 396.9 594.8 400.6C596 404.3 597.1 414.9 597.3 421C597.5 427.1 596.7 440.6 596.5 446.5C596.3 452.4 596.1 461.3 595.6 465.2C595.1 469.1 594.1 473.6 593.1 475.4C592.1 477.2 592.1 477.8 588 478.8C583.9 479.8 566.4 482.1 562.5 483C558.6 483.9 560.7 486.2 559.1 485.6C557.5 485 552.7 480.8 550.6 478.8C548.5 476.8 544.6 473.2 543 470.3C541.4 467.4 539.6 461 538.7 456.7C537.8 452.4 536.4 444.3 536.1 438C535.8 431.7 535.3 414 536.1 409.1Z" fill="#fff" stroke="#141414" stroke-width="1.5" />
<path d="M550.6 479.6C550.2 482.6 549 490.6 548 497.5C547 504.4 545.2 517.3 544.6 521.3" fill="none" stroke="#141414" stroke-width="1.5" stroke-linecap="round" stroke-linejoin="round"/>
<path d="M560 486.4C559.3 489.4 557.3 498.2 555.7 504.3C554.1 510.4 551.5 519.9 550.6 523" fill="none" stroke="#141414" stroke-width="1.5" stroke-linecap="round" stroke-linejoin="round"/>
<path d="M459.6 530.4C457.7 532.2 450.7 537.4 448.3 541.1C445.8 544.8 445.4 548.2 444.9 552.4C444.4 556.7 444.9 561.9 445.5 566.6C446 571.3 447.6 576.2 448.3 580.7C449 585.2 449.5 591.3 449.7 593.5" fill="none" stroke="#141414" stroke-width="1.5" stroke-linecap="round" stroke-linejoin="round"/>
<path d="M444 558.1C442.9 564.2 438.7 583.1 437 594.9C435.2 606.7 433.6 618.4 433.6 628.8C433.6 639.2 434.8 649.1 437 657.1C439.2 665.1 443.6 671 446.9 676.9C450.2 682.8 455.1 689.9 456.8 692.5" fill="none" stroke="#141414" stroke-width="1.5" stroke-linecap="round" stroke-linejoin="round"/>
<path d="M448.9 687.7L457.1 693L456.2 683.1" fill="none" stroke="#141414" stroke-width="1.5" stroke-linecap="round" stroke-linejoin="round"/>
<path d="M448.3 559.5C448.3 563 448.1 574.8 448.3 580.7C448.5 586.6 449.5 592.5 449.7 594.9" fill="none" stroke="#141414" stroke-width="1.5" stroke-linecap="round" stroke-linejoin="round"/>
<path d="M475.2 558.1C473.9 559.1 463.6 566.2 462.4 568C461.3 569.7 464.4 575.1 463.8 575.6C463.3 576.2 457.7 572 456.8 573.6C455.8 575.3 454.7 590.2 454.5 592" fill="none" stroke="#141414" stroke-width="1.5" stroke-linecap="round" stroke-linejoin="round"/>
<path d="M499.2 565.2C499.9 565.8 503.7 569.4 504.9 570.8C506 572.2 508 577.2 509.1 577C510.3 576.9 513.8 569.3 514.8 569.4C515.8 569.5 515.5 577.2 517.6 577.9C519.7 578.6 530 577.7 533.2 575.1C536.3 572.4 543 559.6 544.5 555.3C546 551 546.5 541.6 545.9 538.3C545.2 535 542.6 529.3 538.8 527C535 524.7 516.3 519.5 513.4 518.5" fill="none" stroke="#141414" stroke-width="1.5" stroke-linecap="round" stroke-linejoin="round"/>
<path d="M513.4 518.5C516.7 519 526.6 519.9 533.2 521.3C539.8 522.7 547.3 523.2 553 527C558.6 530.7 563.6 537.3 567.1 543.9C570.6 550.5 572.9 561.5 574.2 566.6C575.5 571.7 576 572.4 575 574.5C574.1 576.6 572.2 578.9 568.5 579.3C564.8 579.7 556.3 580.1 553 577C549.7 574 549.8 566.9 548.7 560.9C547.6 554.9 546.8 544.4 546.4 541.1" fill="none" stroke="#141414" stroke-width="1.5" stroke-linecap="round" stroke-linejoin="round"/>
<path d="M448.3 594.9C449.7 592.7 458 592.3 462.4 593.5C466.9 594.6 472.7 598.9 475.2 601.9C477.6 605 478.3 609.7 477.1 611.8C476 614 472 615.6 468.1 614.7C464.2 613.7 457.2 609.5 453.9 606.2C450.6 602.9 446.9 597 448.3 594.9Z" fill="none" stroke="#141414" stroke-width="1.5" stroke-linecap="round" stroke-linejoin="round"/>
<path d="M485.1 613.3C485.5 611.1 490.2 605.5 493.6 601.9C496.9 598.4 502.2 593.5 504.9 592C507.5 590.6 509.9 591 509.4 593.2C508.9 595.3 505.1 601.2 502 604.8C498.9 608.3 493.6 613.3 490.7 614.7C487.9 616.1 484.6 615.4 485.1 613.3Z" fill="none" stroke="#141414" stroke-width="1.5" stroke-linecap="round" stroke-linejoin="round"/>
<path d="M480.3 612.4C480.3 612.9 480 613.6 479.8 614C479.5 614.4 479 614.7 478.6 614.7C478.2 614.7 477.6 614.4 477.4 614C477.1 613.6 476.9 612.9 476.9 612.4C476.9 611.9 477.1 611.2 477.4 610.8C477.6 610.4 478.2 610.1 478.6 610.1C479 610.1 479.5 610.4 479.8 610.8C480 611.2 480.3 611.9 480.3 612.4Z" fill="none" stroke="#141414" stroke-width="1.3" stroke-linecap="round" stroke-linejoin="round"/>
<path d="M483.4 613.3C483.4 613.7 483.2 614.3 483 614.7C482.7 615 482.3 615.2 482 615.2C481.6 615.2 481.2 615 481 614.7C480.7 614.3 480.5 613.7 480.5 613.3C480.5 612.8 480.7 612.2 481 611.9C481.2 611.5 481.6 611.3 482 611.3C482.3 611.3 482.7 611.5 483 611.9C483.2 612.2 483.4 612.8 483.4 613.3Z" fill="none" stroke="#141414" stroke-width="1.3" stroke-linecap="round" stroke-linejoin="round"/>
<path d="M509.1 593.5C509.5 594.5 512.5 604.1 513.4 603.9C514.2 603.8 516 593.8 517.6 592C519.2 590.3 527.1 587.5 528.9 586.4C530.7 585.2 535.3 581.3 536 580.7" fill="none" stroke="#141414" stroke-width="1.5" stroke-linecap="round" stroke-linejoin="round"/>
<path d="M545.9 590.6C546.4 589.2 551.8 586.9 555.8 586.4C559.8 585.9 566.1 587.1 569.9 587.8C573.8 588.5 579.5 589.4 579 590.6C578.5 591.8 571.4 594.2 567.1 594.9C562.8 595.6 556.5 595.6 553 594.9C549.4 594.2 545.4 592 545.9 590.6Z" fill="none" stroke="#141414" stroke-width="1.5" stroke-linecap="round" stroke-linejoin="round"/>
<path d="M578.4 590.6C580.3 589 586.4 584.7 589.7 580.7C593 576.7 596.3 569.6 598.2 566.6C600.1 563.5 600.5 561.8 601 562.3C601.6 562.9 601.3 568.7 601.3 570" fill="none" stroke="#141414" stroke-width="1.5" stroke-linecap="round" stroke-linejoin="round"/>
<path d="M550.1 606.2C552.4 605.4 563 602 567.1 600.5C571.2 599 578.6 594.1 581.2 594.9C583.9 595.6 586 602.4 586.9 606.2C587.8 610 588.7 619 588.3 623.2C587.9 627.3 588.4 632.8 584.1 637.3C579.7 641.8 566.7 649.4 555.8 657.1C544.8 664.8 509.2 690.2 502 695.3" fill="none" stroke="#141414" stroke-width="1.5" stroke-linecap="round" stroke-linejoin="round"/>
<path d="M500.6 687.7L502 695.9L509.4 693.9" fill="none" stroke="#141414" stroke-width="1.5" stroke-linecap="round" stroke-linejoin="round"/>
<path d="M550.1 606.2C550.4 610 550.8 620.6 551.5 628.8C552.2 637.1 553.9 651.2 554.4 655.7" fill="none" stroke="#141414" stroke-width="1.5" stroke-linecap="round" stroke-linejoin="round"/>
<path d="M555.8 671.2C556 673.6 555.3 680.7 557.2 685.4C559.1 690.1 563.6 695.2 567.1 699.5C570.6 703.9 576.5 709.4 578.4 711.4" fill="none" stroke="#141414" stroke-width="1.5" stroke-linecap="round" stroke-linejoin="round"/>
<path d="M544.5 510L543.1 521.3" fill="none" stroke="#141414" stroke-width="1.5" stroke-linecap="round" stroke-linejoin="round"/>
<path d="M553 510L550.7 522.7" fill="none" stroke="#141414" stroke-width="1.5" stroke-linecap="round" stroke-linejoin="round"/>
<path d="M443.4 558.9C442.6 561.2 441.3 569 438.7 572.9C436.1 576.8 432.2 577 427.8 582.2C423.4 587.4 417.4 596.8 412.2 604C407 611.3 401.1 619.8 396.7 625.8C392.3 631.8 387.6 637.5 385.8 639.8" fill="none" stroke="#141414" stroke-width="1.5" stroke-linecap="round" stroke-linejoin="round"/>
<path d="M385.8 630.5L385.8 640.1L392.3 636.4" fill="none" stroke="#141414" stroke-width="1.5" stroke-linecap="round" stroke-linejoin="round"/>
<path d="M437.1 590C435.1 593.4 428.8 603.8 424.7 610.2C420.5 616.7 415.9 623.7 412.2 628.9C408.6 634.1 404.5 639.3 402.9 641.4" fill="none" stroke="#141414" stroke-width="1.5" stroke-linecap="round" stroke-linejoin="round"/>
<path d="M401.3 632.6L402.9 642L409.1 638.2" fill="none" stroke="#141414" stroke-width="1.5" stroke-linecap="round" stroke-linejoin="round"/>
<path d="M418.2 687.7C415.1 691.7 405.8 703.2 399.4 711.5C393 719.8 384.9 730 379.6 737.2C374.3 744.5 370.5 749.4 367.7 755C364.9 760.6 363.8 765.9 362.8 770.9C361.8 775.9 361.6 780 361.5 785C361.4 790 362.3 798.3 362.5 801" fill="none" stroke="#141414" stroke-width="1.5" stroke-linecap="round" stroke-linejoin="round"/>
<path d="M442 681.8C441.2 681.9 438.5 681.7 437.5 682.5C436.5 683.3 436 685.3 436 686.5C436 687.7 437.2 689 437.5 689.5" fill="none" stroke="#141414" stroke-width="1.5" stroke-linecap="round" stroke-linejoin="round"/>
<path d="M435 689.7C432.4 693 425.1 702.2 419.2 709.5C413.3 716.8 406 726 399.4 733.3C392.8 740.5 384.1 748 379.6 753C375.2 758 374.2 758.7 372.7 763C371.2 767.3 370.8 772.6 370.7 778.8C370.6 785 371.5 793.5 372 800C372.5 806.5 373.3 815 373.6 818" fill="none" stroke="#141414" stroke-width="1.5" stroke-linecap="round" stroke-linejoin="round"/>
<path d="M433 660C434.7 662 438.9 666.4 443 672C447.1 677.6 455.3 690.1 457.8 693.7" fill="none" stroke="#141414" stroke-width="1.7" stroke-linecap="round" stroke-linejoin="round"/>
<path d="M449 688L458.2 694.2L455.5 683.5" fill="none" stroke="#141414" stroke-width="1.7" stroke-linecap="round" stroke-linejoin="round"/>
<path d="M428 676C428.5 675 429.5 671.5 431 670C432.5 668.5 436 667.5 437 667" fill="none" stroke="#141414" stroke-width="1.5" stroke-linecap="round" stroke-linejoin="round"/>
<path d="M374 834.9C374.2 837.8 375.6 854.6 376 859.6C376.4 864.6 377.2 874.4 377.5 877.4C377.8 880.4 377.9 884.3 378.5 885.3C379.1 886.3 382.6 885.3 383 886.3C383.4 887.3 382.5 892.2 381.9 893.7C381.3 895.2 378.9 897.3 377.5 899.2C376.1 901.1 371.7 908.2 369.6 910C367.5 911.8 362 913.8 359.7 915C357.4 916.2 351.1 919 349.8 920C348.5 921 348 923.1 348.2 924C348.4 924.9 349.8 927.5 351.8 928C353.8 928.5 362.1 928.7 365.6 928.5C369.1 928.3 378.7 926.6 381.5 926C384.3 925.4 387.6 924.1 389.4 923C391.2 921.9 394.8 917.8 397.3 916.6C399.8 915.4 409.1 914.1 411.2 913C413.3 911.9 414.8 908.8 415 907C415.2 905.2 413.7 899.4 413.2 897.2C412.7 895 410.2 889.5 410.8 888.3C411.4 887.1 416.8 889.5 418 887.3C419.2 885.1 420.2 875 421 869.5C421.8 864 424.3 845.2 425 839.8C425.7 834.4 426.9 827.6 427.4 823C427.9 818.4 428.8 802.7 429 800" fill="none" stroke="#141414" stroke-width="1.5" stroke-linecap="round" stroke-linejoin="round"/>
<path d="M368.6 850.7L370.2 868.5" fill="none" stroke="#141414" stroke-width="1.5" stroke-linecap="round" stroke-linejoin="round"/>
<path d="M364.7 863L370.2 869L371 862.6" fill="none" stroke="#141414" stroke-width="1.5" stroke-linecap="round" stroke-linejoin="round"/>
<path d="M478 739C477.2 739.1 473.8 739.1 472 740C470.2 740.9 467.6 743.5 464.8 746C462 748.5 455.1 755.3 450.9 759C446.7 762.7 435.9 772.1 433 774C430.1 775.9 429.4 772.6 429 773C428.6 773.4 431 775.9 430 777C429 778.1 421.6 780.2 421.2 781.2C420.8 782.2 426 783.5 427 784.8C428 786.1 428.9 788.7 429 790.7C429.1 792.7 428.1 798.8 428 800" fill="none" stroke="#141414" stroke-width="1.5" stroke-linecap="round" stroke-linejoin="round"/>
<path d="M463.8 746.1C465.3 745.2 472.6 740 474.7 739.8C476.8 739.7 478.1 740.7 479.4 745.1C480.6 749.6 482.8 767.9 484 773.1C485.3 778.4 487.5 784.4 488.7 784.6C489.9 784.8 493 779.7 493.4 774.7C493.8 769.6 490.6 751.4 491.8 746.7C493.1 741.9 500.6 739.5 502.7 738.9C504.8 738.3 504.3 739.3 507.4 742C510.5 744.7 520.9 755.6 526 759.1C531.2 762.6 543.6 767.2 546.3 768.5" fill="none" stroke="#141414" stroke-width="1.5" stroke-linecap="round" stroke-linejoin="round"/>
<path d="M556.2 672C556.4 673.7 556.1 680.7 557.8 684.4C559.5 688.2 565 695.4 568.7 700C572.4 704.6 581.4 713.3 585.8 718.7C590.2 724.1 598.7 735.3 601.4 740.5C604.1 745.6 606.2 750.9 606 757.6C605.8 764.2 601.5 781.9 599.8 790.2C598.1 798.6 593.9 816.1 593 820.1" fill="none" stroke="#141414" stroke-width="1.5" stroke-linecap="round" stroke-linejoin="round"/>
<path d="M536 768.4C536.2 771.3 537.5 787 537.6 793C537.7 799 536.8 813.4 536.6 820C536.4 826.6 535.8 842.2 535.6 849.7C535.4 857.2 533.7 880 534.7 884.4C535.7 888.8 543.5 886 544 887C544.5 888 539.6 891.4 538.6 893.3C537.6 895.2 535.8 901.1 535.6 903.2C535.4 905.3 535.8 909.3 536.6 911C537.4 912.7 541.1 917.3 542.6 918C544.1 918.7 547.8 916.2 549.5 916.6C551.2 917 555.3 919.7 557.4 921C559.5 922.3 565 926.7 567.3 928C569.6 929.3 574.9 931.8 577.2 932C579.5 932.2 584.9 930.9 587 930C589.1 929.1 594.3 925.5 595 924C595.7 922.5 594.2 918.6 593 917C591.8 915.4 587 911.8 585 910C583 908.2 577.8 902.6 576.2 901.2C574.6 899.8 572.2 898.7 571.3 898.2C570.4 897.7 568.7 898 568.3 897.2C567.9 896.4 567.2 892.2 567.7 891.3C568.2 890.4 571.1 890.2 572.3 889.3C573.5 888.4 577 886.9 578.2 883.4C579.4 879.9 581.2 864.7 582.2 859.6C583.2 854.5 585.7 844.4 587 839.8C588.3 835.2 592.3 822.3 593 820" fill="none" stroke="#141414" stroke-width="1.5" stroke-linecap="round" stroke-linejoin="round"/>
<path d="M503.3 737.3C505.2 738.9 509.8 742.8 514.2 746.7C518.6 750.6 524.3 757 529.8 760.7C535.2 764.3 544 767.2 546.9 768.5" fill="none" stroke="#141414" stroke-width="2" stroke-linecap="round" stroke-linejoin="round"/>
<path d="M146.7 832C147.7 832.9 150.9 834.1 151 836C151 837.9 146.8 838.1 146.8 840C146.8 841.9 151.1 842.1 151.1 844C151.1 845.9 146.9 846.1 146.9 848C147 849.9 151.2 850.1 151.2 852C151.2 853.9 147 854.1 147.1 856C147.1 857.9 151.3 858.1 151.3 860C151.3 861.9 147.2 862.1 147.2 864C147.2 865.9 151.4 866.1 151.4 868C151.5 869.9 147.3 870.1 147.3 872C147.3 873.9 151.5 874.1 151.6 876C151.6 877.9 147.4 878.1 147.4 880C147.4 881.9 151.7 882.1 151.7 884C151.7 885.9 147.5 886.1 147.5 888C147.6 889.9 151.8 890.1 151.8 892C151.8 893.9 148.6 895.1 147.7 896" fill="none" stroke="#141414" stroke-width="1.6" />
<path d="M77.6 640.4C76 639.3 70.7 636.4 67.7 633.7C64.8 630.9 61.5 626.4 59.8 623.8C58.2 621.1 57.2 619 57.8 617.8C58.5 616.6 61.6 615.6 63.8 616.6C65.9 617.6 68.8 620.9 70.9 623.8C73 626.6 75.2 631 76.4 633.7C77.7 636.3 78.1 638.6 78.4 639.6" fill="none" stroke="#141414" stroke-width="1.5" stroke-linecap="round" stroke-linejoin="round"/>
<path d="M81.6 639.6C83.2 637.6 87.9 631.4 91.5 627.7C95.1 624.1 100.6 619.1 103.4 617.8C106.1 616.5 106.9 618.2 108.1 619.8C109.3 621.5 111.3 624.8 110.5 627.7C109.7 630.7 106.5 634.7 103.4 637.6C100.2 640.6 95 644.4 91.5 645.5C88 646.7 83.9 644.6 82.4 644.4" fill="none" stroke="#141414" stroke-width="1.5" stroke-linecap="round" stroke-linejoin="round"/>
<path d="M80 642.8C80 643.3 79.7 644.1 79.3 644.5C78.9 644.8 78.2 645.1 77.6 645.1C77.1 645.1 76.3 644.8 75.9 644.5C75.5 644.1 75.2 643.3 75.2 642.8C75.2 642.2 75.5 641.5 75.9 641.1C76.3 640.7 77.1 640.4 77.6 640.4C78.2 640.4 78.9 640.7 79.3 641.1C79.7 641.5 80 642.2 80 642.8Z" fill="none" stroke="#141414" stroke-width="1.3" stroke-linecap="round" stroke-linejoin="round"/>
<path d="M84 642.8C84 643.2 83.7 643.8 83.4 644.2C83.1 644.5 82.4 644.8 82 644.8C81.5 644.8 80.9 644.5 80.6 644.2C80.2 643.8 80 643.2 80 642.8C80 642.3 80.2 641.7 80.6 641.4C80.9 641 81.5 640.8 82 640.8C82.4 640.8 83.1 641 83.4 641.4C83.7 641.7 84 642.3 84 642.8Z" fill="none" stroke="#141414" stroke-width="1.3" stroke-linecap="round" stroke-linejoin="round"/>
<path d="M77.6 645.5C77.7 646.9 77.7 651 78 653.5C78.3 655.9 79.3 659.1 79.6 660.2" fill="none" stroke="#141414" stroke-width="1.5" stroke-linecap="round" stroke-linejoin="round"/>
<path d="M76.8 657.4L79.6 661L81.2 657.8" fill="none" stroke="#141414" stroke-width="1.5" stroke-linecap="round" stroke-linejoin="round"/>
<circle cx="624.6" cy="274.8" r="3.9" fill="none" stroke="#0c0c0c" stroke-width="2.9" stroke-dasharray="5.6 2.5"/>
<circle cx="640.2" cy="274.8" r="3.9" fill="none" stroke="#0c0c0c" stroke-width="2.9" stroke-dasharray="5.6 2.5"/>
<circle cx="625.5" cy="288.8" r="3.9" fill="none" stroke="#0c0c0c" stroke-width="2.9" stroke-dasharray="5.6 2.5"/>
<circle cx="611.5" cy="289.5" r="2.2" fill="#111"/>
<path d="M79.6 680L81.4 686.8M80.9 679.2L82.7 686.1M82.3 679.9L84.1 686.6M83.6 679.7L85.4 686.2M85 679.7L86.8 686.5M86.3 679.7L88.1 686.1M87.7 679.5L89.5 686.3M89 679.8L90.8 686.8M90.4 680L92.2 686.4M91.7 679.6L93.5 686.2M93.1 679.2L94.9 686M94.4 679.6L96.2 686.3M95.8 679.5L97.6 686.7M97.1 679.6L98.9 686.4M98.5 679.4L100.3 686M99.8 679.5L101.6 686.1M101.2 679.6L103 686.8M102.5 679.7L104.3 686.1M103.9 679.9L105.7 686.6M105.2 679.8L107 686.7M106.6 679.8L108.4 686.6M107.9 679.5L109.7 686.8M109.3 680L111.1 686.1M110.6 679.8L112.4 686.6M112 679.6L113.8 686.4M113.3 679.6L115.1 686.7M114.7 679.6L116.5 686.7M116 679.5L117.8 686.7M117.4 679.9L119.2 686.4M118.7 679.7L120.5 686.7M120.1 679.8L121.9 686.4M121.4 679.4L123.2 686.3M122.8 679.8L124.6 686.1M124.1 679.9L125.9 686.2M125.5 679.9L127.3 686.2M126.8 680L128.6 686.6M128.2 679.6L130 686.4M129.5 679.7L131.3 686.5M130.9 679.4L132.7 686.2M132.2 679.6L134 686.7M133.6 679.7L135.4 686.1M134.9 679.9L136.7 686.6M136.3 679.9L138.1 686.2M137.6 679.8L139.4 686M139 679.7L140.8 686.2M140.3 679.4L142.1 686.7M141.7 679.3L143.5 686.4M143 679.9L144.8 686.2M144.4 679.4L146.2 686.7M145.7 679.5L147.5 686.6M147.1 679.2L148.9 686.3M148.4 679.3L150.2 686.5M149.8 679.3L151.6 686.8M151.1 679.2L152.9 686.6M152.5 679.2L154.3 686.2M153.8 679.9L155.6 686.1M155.2 679.3L157 686.6M156.5 679.5L158.3 686M157.9 680L159.7 686.1M159.2 679.2L161 686.3M160.6 679.7L162.4 686.6M161.9 679.3L163.7 686.3M163.3 679.2L165.1 686.4M164.6 679.8L166.4 686.6M166 679.9L167.8 686.6M167.3 679.9L169.1 686.6M168.7 679.6L170.5 686.2M170 679.7L171.8 686.3M171.4 679.3L173.2 686.4" fill="none" stroke="#111" stroke-width="0.9" />
<path d="M79 683.4L172 683.6" fill="none" stroke="#222" stroke-width="0.8" />
<path d="M178.6 684L320 683.2L392.5 682.9" fill="none" stroke="#141414" stroke-width="1.4" stroke-linecap="round" stroke-linejoin="round"/>
<path d="M403.4 682.4L427 682.2" fill="none" stroke="#141414" stroke-width="1.4" stroke-linecap="round" stroke-linejoin="round"/>
</g>
<g id="red2">
<path d="M539.5 456.7C541.1 457.6 546.5 459.2 548.9 461.8C551.3 464.4 552.7 469.5 554 472C555.3 474.5 556.1 476.2 556.5 477" fill="none" stroke="#d8281a" stroke-width="1.8" />
<path d="M563.3 477C565.1 476.2 569.3 473.1 574.4 472C579.5 470.9 590.7 470.6 594 470.3" fill="none" stroke="#d8281a" stroke-width="1.8" />
<path d="M559 477.2C559 477.7 558.8 478.3 558.5 478.7C558.2 479.1 557.7 479.4 557.3 479.6C556.8 479.7 556.2 479.7 555.7 479.6C555.3 479.4 554.8 479.1 554.5 478.7C554.2 478.3 554 477.7 554 477.2C554 476.7 554.2 476.1 554.5 475.7C554.8 475.3 555.3 475 555.7 474.8C556.2 474.7 556.8 474.7 557.3 474.8C557.7 475 558.2 475.3 558.5 475.7C558.8 476.1 559 476.7 559 477.2ZM563.8 478.2C563.8 478.7 563.6 479.2 563.3 479.6C563.1 480 562.6 480.3 562.1 480.5C561.7 480.6 561.1 480.6 560.7 480.5C560.2 480.3 559.7 480 559.5 479.6C559.2 479.2 559 478.7 559 478.2C559 477.7 559.2 477.2 559.5 476.8C559.7 476.4 560.2 476.1 560.7 475.9C561.1 475.8 561.7 475.8 562.1 475.9C562.6 476.1 563.1 476.4 563.3 476.8C563.6 477.2 563.8 477.7 563.8 478.2Z" fill="none" stroke="#d8281a" stroke-width="1.3" />
<path d="M554.8 398.9C556.6 399.8 562.1 403.3 565.9 404C569.7 404.7 574.1 404.2 577.8 403.1C581.5 402 586.8 397.5 588 397.2C589.2 396.9 586.2 400.7 585 401.5C583.8 402.3 580.8 401.6 581 402C581.2 402.4 583.3 403.4 586 404C588.7 404.6 595.4 405.4 597.3 405.7" fill="none" stroke="#2f6fd0" stroke-width="1.5" />
<path d="M582 403C581.4 404.8 579.4 410.3 578.6 414C577.8 417.7 577.3 423.2 577 425M574.4 420L576.6 425.8L579.5 419.3" fill="none" stroke="#2f6fd0" stroke-width="1.5" />
<path d="M448.3 556.7L455.4 551.9" fill="none" stroke="#2f6fd0" stroke-width="1.5" />
<path d="M212.7 465.3C206.4 469.1 186.6 480.2 175 488C163.4 495.8 152.9 503.5 143.2 512.2C133.5 520.9 124.5 530.7 117 540C109.5 549.3 101.6 563.3 98.5 568M96 561L98 569.5L103 564" fill="none" stroke="#2f6fd0" stroke-width="1.7" />
<path d="M338 404L341 408" fill="none" stroke="#2f6fd0" stroke-width="2" />
<path d="M478 511L481 516" fill="none" stroke="#2f6fd0" stroke-width="2" />
<path d="M584.5 795L584.5 899M582 893L584.6 901.2L588 892.5" fill="none" stroke="#d8281a" stroke-width="1.6" />
<path d="M587.5 791C587.5 791.7 587.3 792.5 587 793.1C586.7 793.6 586.2 794.1 585.8 794.3C585.3 794.5 584.7 794.5 584.2 794.3C583.8 794.1 583.3 793.6 583 793.1C582.7 792.5 582.5 791.7 582.5 791C582.5 790.3 582.7 789.5 583 788.9C583.3 788.4 583.8 787.9 584.2 787.7C584.7 787.5 585.3 787.5 585.8 787.7C586.2 787.9 586.7 788.4 587 788.9C587.3 789.5 587.5 790.3 587.5 791Z" fill="none" stroke="#d8281a" stroke-width="1.3" />
<path d="M589 837.8L636.6 861.6" fill="none" stroke="#d8281a" stroke-width="2" />
<path d="M636.6 861.6L649.8 870.9" fill="none" stroke="#e8704a" stroke-width="1.6" />
</g>
<g id="blob">
<path d="M394.9 290.2C395.6 289.4 397.4 287.7 398.3 288C399.2 288.4 400.4 291 400.2 292.1C400.1 293.3 398.3 294.9 397.3 295C396.4 295.2 394.9 293.9 394.5 293.1C394.1 292.3 394.3 291.1 394.9 290.2Z" fill="#0c0c0c"/>
<path d="M488.4 434.1C489 432.6 491.8 432.1 493.2 432.7C494.5 433.3 496.1 436 496.3 437.6C496.6 439.3 495.9 442 494.8 442.6C493.6 443.2 490.7 442.6 489.6 441.2C488.5 439.8 487.8 435.5 488.4 434.1Z" fill="#0c0c0c"/>
<path d="M503.1 445.9C504 444.5 506.5 442.7 508 443.2C509.5 443.6 511.4 446 512.2 448.5C513 451.1 513.3 455.9 513 458.4C512.6 460.9 511.3 463.2 510 463.4C508.7 463.5 506.3 461.3 505 459.4C503.8 457.5 502.6 454.1 502.3 451.9C501.9 449.6 502.1 447.4 503.1 445.9Z" fill="#0c0c0c"/>
<path d="M506.2 459.4C506.8 458.4 509.6 460.4 510.6 462.4C511.6 464.4 512.3 468.6 512.2 471.3C512.1 473.9 510.8 478.7 510 478.2C509.2 477.7 508.1 471.5 507.4 468.3C506.8 465.2 505.7 460.4 506.2 459.4Z" fill="#0c0c0c"/>
<path d="M510 502C510.6 500.4 513.5 498.8 515 499C516.4 499.2 518.2 501.5 518.5 503C518.8 504.5 518.1 507 516.9 507.9C515.7 508.8 512.5 509.5 511.4 508.5C510.2 507.5 509.4 503.6 510 502Z" fill="#0c0c0c"/>
<path d="M510 517.2C510.6 516.6 512.6 516 513.4 516.4C514.1 516.9 514.8 518.9 514.6 519.8C514.3 520.7 512.8 521.7 512 521.8C511.2 521.9 509.9 521.2 509.6 520.4C509.3 519.6 509.4 517.9 510 517.2Z" fill="#0c0c0c"/>
<path d="M547.9 604.8C548.3 604 549.9 603 550.7 603.4C551.4 603.7 552.5 605.7 552.4 606.7C552.3 607.8 550.9 609.4 550.1 609.6C549.4 609.8 548.2 608.7 547.9 607.9C547.5 607.1 547.4 605.5 547.9 604.8Z" fill="#0c0c0c"/>
<path d="M554.7 669.8C555.2 669 558.1 668.9 558.6 669.8C559.1 670.8 558 674.7 557.5 675.5C556.9 676.3 555.7 675.6 555.2 674.6C554.7 673.7 554.1 670.6 554.7 669.8Z" fill="#0c0c0c"/>
<path d="M511.1 516.8C511.7 516.1 513.6 515.3 514.5 515.7C515.3 516 516.4 518.1 516.2 519.1C516 520 514.2 521.2 513.4 521.3C512.5 521.4 511.5 520.4 511.1 519.6C510.7 518.9 510.5 517.4 511.1 516.8Z" fill="#0c0c0c"/>
<path d="M462.2 743.6C463.3 742.7 467.7 742 468.5 742.9C469.3 743.9 468 748.3 466.9 749.2C465.9 750 463 749.2 462.2 748.2C461.5 747.3 461.2 744.4 462.2 743.6Z" fill="#0c0c0c"/>
<path d="M501.1 735.8C501.7 734.6 504.9 734 505.8 734.9C506.7 735.7 507.3 739.9 506.7 741.1C506.2 742.3 503.6 742.9 502.7 742C501.8 741.1 500.6 737 501.1 735.8Z" fill="#0c0c0c"/>
<path d="M536.9 766C538.7 765.3 546 765.2 547.8 766C549.6 766.7 549.6 769.7 547.8 770.3C546 770.9 538.7 770.4 536.9 769.7C535.1 769 535.1 766.6 536.9 766Z" fill="#0c0c0c"/>
<path d="M50 931C50.6 928.8 51.6 925.7 53 920C54.4 914.3 55.6 902.9 56.8 902.5C58 902.1 58.1 913.1 58.8 918C59.5 922.9 59.3 924.8 60.5 927C61.7 929.2 63.2 929.9 65 929C66.8 928.1 67.7 922.5 69.5 922.5C71.3 922.5 72.2 929 74 929C75.8 929 76.7 922.5 78.5 922.5C80.3 922.5 81.2 929 83 929C84.8 929 85.7 922.5 87.5 922.5C89.3 922.5 90.2 929 92 929C93.8 929 94.7 922.5 96.5 922.5C98.3 922.5 99.2 929 101 929C102.8 929 103.7 922.5 105.5 922.5C107.3 922.5 108.2 929 110 929C111.8 929 112.7 922.6 114.5 922.5C116.3 922.4 117.2 928.8 119 928.5C120.8 928.2 122 923.7 123.5 921C125 918.3 125.1 917 126.5 915C127.9 913 129.2 910 130.3 910.8C131.4 911.6 131.4 916 132 919C132.6 922 132.3 924.2 133.4 926C134.5 927.8 136.8 927.6 137.6 928" fill="none" stroke="#0c0c0c" stroke-width="3.1" stroke-linejoin="round" stroke-linecap="round"/>
<path d="M200.3 881C201.1 880.9 201.3 884.7 201.8 886C202.3 887.3 202.8 886.7 203.5 889C204.2 891.3 204.9 895.8 206 900C207.1 904.2 208.3 909 210 914C211.7 919 216.8 927.5 216 930C215.2 932.5 208.3 928.9 205 929C201.7 929.1 198.6 930.6 196 930.5C193.4 930.4 190.5 931.1 189.6 928.5C188.7 925.9 190.4 919.8 190.8 915C191.2 910.2 191.6 904.5 192 900C192.4 895.5 192.2 890.2 193 888C193.8 885.8 195.8 887.7 197 886.5C198.2 885.3 199.5 881.1 200.3 881Z" fill="#0c0c0c"/>
<path d="M165 928C165.8 928.8 167.3 931.7 169 932C170.7 932.3 171.4 930.1 173.4 929.3C175.4 928.5 177 927.8 179 928C181 928.2 181.3 930.7 183.3 930.5C185.3 930.3 187.9 927.7 189 927" fill="none" stroke="#0c0c0c" stroke-width="2.4" stroke-linecap="round"/>
<path d="M649 901C650.5 902.2 654.8 906.2 658 908C661.2 909.8 666.3 910.9 668 911.5" fill="none" stroke="#222" stroke-width="3.2" stroke-linecap="round"/>
</g>
<g id="text">
<text x="95.5" y="673.6" font-family="'Liberation Sans', sans-serif" font-size="16.5" textLength="206" lengthAdjust="spacingAndGlyphs" fill="#111">Eine Hand aus dem System</text>
</g>
</svg>
</body></html>
